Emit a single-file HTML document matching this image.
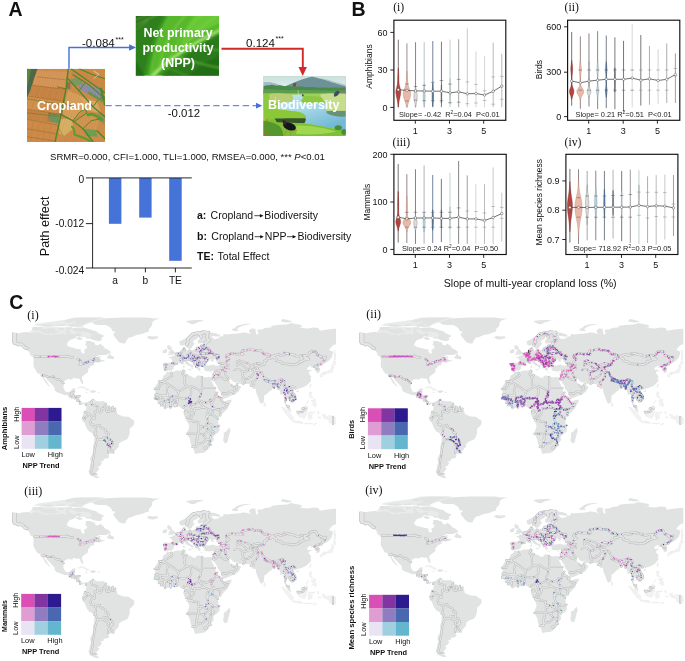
<!DOCTYPE html>
<html><head><meta charset="utf-8"><title>Figure</title>
<style>
html,body{margin:0;padding:0;background:#fff;}
body{width:685px;height:661px;overflow:hidden;font-family:"Liberation Sans",sans-serif;}
svg{display:block;will-change:transform;opacity:0.999}
text{font-family:"Liberation Sans",sans-serif;fill:#111}
.serif{font-family:"Liberation Serif",serif}
.b{font-weight:bold}
</style></head><body>
<svg width="685" height="661" viewBox="0 0 685 661">
<rect width="685" height="661" fill="#fff"/>
<g id="panelC">
<defs><clipPath id="mc"><rect x="11.5" y="317.4" width="324.5" height="165"/></clipPath>
<g id="base"><path d="M33.7,325.2 L38.2,323.4 L47.2,322.3 L56.3,321.1 L65.3,319.7 L69.8,318.8 L74.3,317.3 L105.9,317.3 L103.7,318.6 L96.9,320.3 L91.3,322.4 L85.6,324.6 L83.4,325.4 L82.8,326.6 L69.8,326.6 L64.2,326.1 L54.0,326.4 L41.6,326.4Z M29.2,331.9 L31.4,330.2 L32.6,326.9 L72.1,327.2 L73.2,329.0 L77.7,331.9 L74.3,334.9 L66.4,334.9 L51.8,335.4 L41.6,333.7Z M76.6,331.9 L85.6,331.6 L91.3,334.3 L90.7,336.6 L85.6,337.2 L78.9,336.8 L76.6,336.0 L81.1,334.9 L81.1,332.5Z" fill="#e9eaea"/>
<path d="M12.2,331.8 L14.5,332.4 L17.3,332.9 L20.1,333.2 L21.8,332.4 L24.7,332.2 L28.0,331.9 L30.3,332.4 L32.6,332.6 L34.8,332.2 L37.1,332.2 L41.6,333.2 L45.0,334.5 L49.5,334.4 L51.8,335.4 L52.9,334.0 L55.1,334.3 L59.7,334.5 L63.0,333.6 L65.3,335.1 L66.1,333.7 L67.6,333.1 L65.3,331.9 L65.9,330.2 L68.7,329.9 L69.8,331.9 L69.8,332.5 L72.1,333.7 L74.3,334.9 L75.5,333.7 L76.6,333.1 L77.7,332.2 L81.1,332.5 L81.7,333.7 L80.5,334.9 L81.9,335.4 L79.4,336.3 L76.6,336.0 L75.5,337.8 L73.2,338.9 L71.5,339.4 L69.8,340.1 L67.6,342.4 L66.8,344.8 L68.7,346.5 L69.8,347.1 L73.2,347.7 L75.5,348.5 L77.7,349.1 L80.8,349.3 L81.1,351.8 L82.2,352.9 L82.8,353.7 L83.9,353.5 L84.8,352.3 L83.9,350.0 L86.8,348.3 L87.3,346.5 L85.1,344.8 L86.2,342.4 L85.6,340.9 L90.1,340.9 L92.4,341.9 L94.7,342.4 L95.2,344.8 L98.0,345.6 L100.3,343.6 L101.4,344.8 L103.7,346.5 L104.8,348.3 L108.2,349.7 L110.5,351.8 L110.7,352.9 L109.3,353.6 L105.9,355.0 L102.6,354.9 L99.2,355.0 L96.4,356.4 L93.5,358.7 L94.7,358.7 L98.0,356.6 L100.3,356.2 L100.9,357.2 L99.2,357.8 L100.5,358.7 L101.4,359.9 L104.8,360.3 L104.8,360.8 L101.4,361.7 L99.2,362.6 L99.2,361.7 L98.0,361.1 L95.8,362.2 L94.7,362.6 L93.8,364.0 L94.7,364.9 L93.0,365.3 L90.1,366.2 L90.1,367.5 L88.4,368.6 L87.9,370.4 L88.2,372.1 L86.8,373.3 L84.5,374.7 L82.2,376.8 L81.9,378.6 L82.8,380.9 L83.1,382.0 L83.1,384.0 L82.2,384.1 L81.1,382.6 L80.3,381.1 L80.3,379.7 L78.9,378.6 L77.2,378.8 L74.9,378.2 L72.6,378.3 L72.9,379.5 L71.0,379.4 L67.8,378.9 L66.4,379.7 L64.2,381.1 L63.8,383.2 L63.3,387.3 L64.2,389.6 L65.3,391.4 L67.0,392.3 L69.8,391.8 L71.3,390.8 L71.7,389.0 L74.3,388.3 L75.7,388.7 L74.9,390.8 L74.3,392.5 L73.4,394.9 L75.5,395.1 L77.7,395.0 L79.8,396.0 L79.4,398.4 L79.2,400.7 L80.5,402.4 L82.2,403.2 L83.9,402.4 L86.2,403.5 L86.8,404.2 L86.2,404.8 L85.3,403.8 L83.7,403.4 L83.0,405.0 L81.1,404.2 L79.4,403.6 L77.7,401.9 L76.8,400.7 L74.9,398.4 L73.8,398.1 L70.4,397.2 L67.6,394.9 L64.7,395.2 L61.9,394.0 L59.1,393.1 L56.6,391.9 L54.6,390.2 L54.8,388.5 L53.5,386.1 L51.2,384.0 L50.1,382.4 L48.4,380.9 L46.7,379.1 L46.1,377.2 L44.2,376.6 L44.4,378.6 L46.1,380.5 L47.8,383.2 L49.2,385.3 L50.1,386.7 L49.2,386.5 L47.2,384.4 L45.0,382.0 L43.9,379.7 L42.7,378.0 L41.6,375.6 L39.9,373.9 L37.6,373.3 L36.0,371.0 L35.4,369.5 L33.7,366.9 L33.4,364.0 L33.7,359.9 L32.9,357.2 L34.8,357.3 L35.4,358.4 L35.2,356.4 L32.6,355.2 L29.7,353.5 L29.2,351.8 L26.9,350.0 L25.2,348.8 L23.0,346.5 L20.7,344.8 L17.9,343.9 L14.5,343.6 L12.2,343.5Z M91.3,322.4 L96.9,320.3 L103.7,318.6 L117.2,317.6 L128.5,316.3 L139.8,316.2 L148.9,317.4 L153.4,318.6 L160.1,318.6 L154.5,320.3 L152.2,322.6 L152.2,325.0 L151.1,326.7 L148.9,329.0 L148.9,331.4 L145.5,332.5 L142.1,333.9 L136.4,334.9 L131.9,337.0 L128.5,337.8 L126.3,340.7 L125.1,343.4 L122.9,343.6 L119.5,342.4 L117.2,340.1 L115.0,337.2 L113.3,334.9 L113.9,333.1 L116.1,331.9 L112.2,331.0 L111.6,329.0 L109.3,326.7 L105.9,325.0 L99.2,325.0 L94.7,324.4 L93.5,323.2Z M83.4,327.6 L87.9,328.7 L92.4,330.2 L96.9,331.6 L98.0,333.1 L103.7,335.4 L103.7,336.6 L101.4,337.8 L102.0,340.1 L99.2,341.3 L96.9,340.7 L93.5,340.3 L90.1,338.4 L86.2,338.6 L85.6,337.2 L90.7,336.6 L91.3,334.3 L86.8,332.2 L84.5,331.7 L81.1,331.9 L77.7,331.9 L74.3,330.8 L72.6,329.6 L73.2,327.9 L77.7,327.6Z M72.1,324.4 L77.7,324.6 L83.4,324.7 L85.6,323.8 L87.9,322.0 L92.4,320.9 L98.0,319.1 L103.7,317.4 L94.7,316.7 L83.4,316.8 L74.3,318.0 L69.8,318.9 L75.5,320.0 L74.3,321.5 L76.6,322.6 L73.2,323.4Z M83.4,325.4 L82.8,326.5 L76.6,326.7 L69.8,326.4 L68.7,324.6 L73.2,324.5 L78.9,325.2Z M41.6,331.9 L46.1,333.6 L51.8,333.5 L55.1,333.1 L59.1,332.4 L58.5,331.4 L55.1,330.6 L55.1,328.7 L51.8,328.2 L47.2,328.7 L41.6,328.7 L39.3,330.2Z M32.0,329.6 L34.8,330.7 L39.3,329.9 L42.2,328.2 L43.3,327.3 L39.3,326.9 L33.7,326.9 L32.6,328.5Z M65.9,329.6 L72.1,329.6 L72.1,327.5 L65.9,327.5Z M58.5,330.2 L64.2,330.1 L64.2,327.9 L58.5,328.1Z M41.6,326.1 L48.4,326.7 L54.0,326.1 L54.0,325.0 L49.5,324.4 L42.7,324.6Z M65.3,322.3 L72.1,322.3 L75.5,320.9 L69.8,319.1 L65.3,320.3Z M56.3,325.9 L64.2,326.1 L65.3,324.4 L57.4,324.4Z M75.5,337.8 L78.9,339.9 L82.2,339.5 L82.8,338.4 L78.9,337.0Z M106.7,357.9 L110.5,359.0 L113.9,359.2 L114.2,357.9 L113.3,356.4 L110.8,355.4 L110.5,353.5 L108.8,354.7Z M29.2,354.3 L32.0,356.5 L34.4,357.1 L32.6,355.2 L29.7,354.1Z M89.7,392.1 L91.8,390.3 L94.7,390.4 L96.5,391.8 L94.7,392.2 L93.0,392.9Z M146.6,337.2 L148.9,336.1 L153.4,336.4 L157.3,336.3 L158.4,337.8 L156.8,338.6 L152.8,339.6 L148.3,339.1 L148.9,338.4Z M86.2,403.5 L86.8,404.2 L88.4,401.3 L91.3,400.3 L93.0,399.1 L92.6,400.7 L93.0,402.4 L94.7,400.1 L96.9,401.2 L101.4,401.3 L103.7,401.0 L105.9,403.6 L109.3,406.5 L112.7,406.7 L115.5,408.3 L117.2,412.3 L117.2,413.5 L118.9,414.7 L123.4,416.4 L128.5,416.8 L131.9,419.3 L134.2,420.5 L134.2,424.0 L131.9,426.9 L129.7,428.6 L129.7,433.3 L128.5,436.8 L127.4,439.1 L125.1,440.3 L121.8,441.5 L118.9,443.8 L118.7,446.7 L116.1,449.6 L113.3,453.1 L109.9,454.0 L107.6,453.1 L109.3,456.0 L108.2,458.1 L103.7,458.9 L103.4,461.3 L100.3,461.3 L102.0,463.2 L100.0,465.9 L97.5,467.1 L99.4,468.8 L96.9,471.8 L95.8,472.9 L96.5,474.5 L94.7,475.0 L96.4,475.8 L99.7,477.3 L96.9,478.2 L93.5,477.0 L90.1,475.2 L88.4,471.8 L89.6,468.3 L90.1,464.8 L91.3,462.4 L90.1,460.1 L90.7,457.2 L92.4,454.3 L93.0,450.8 L93.0,446.1 L94.1,442.6 L94.4,436.8 L94.1,434.8 L92.4,433.3 L89.0,431.6 L87.3,429.2 L86.2,426.9 L84.5,422.8 L82.2,420.5 L81.9,418.5 L83.4,417.0 L82.8,414.7 L83.4,412.9 L84.7,411.8 L86.2,408.8 L86.4,405.9 L86.2,404.8Z M163.2,363.4 L164.7,362.6 L169.2,362.8 L171.7,362.9 L172.3,359.9 L170.9,358.4 L168.4,357.1 L172.0,356.8 L171.9,355.6 L173.9,355.8 L175.5,354.2 L177.6,353.5 L179.0,351.8 L181.6,351.2 L183.6,350.6 L183.3,348.8 L182.9,347.1 L185.5,346.3 L185.3,348.3 L184.8,349.4 L186.1,350.6 L189.5,350.6 L194.6,349.7 L196.0,350.0 L197.4,348.8 L197.4,347.1 L199.1,346.4 L200.8,346.9 L201.1,345.6 L200.2,344.5 L205.3,344.1 L207.6,343.6 L205.9,342.9 L201.9,343.3 L199.1,343.6 L197.7,342.4 L198.0,340.1 L201.9,337.8 L202.3,337.1 L198.5,336.8 L197.7,338.4 L193.4,340.7 L193.1,342.4 L194.8,343.6 L192.3,346.5 L191.8,348.0 L189.8,348.7 L188.1,348.8 L186.3,345.3 L185.5,344.2 L182.7,345.7 L180.1,345.0 L179.3,342.4 L179.6,341.3 L183.3,339.4 L186.1,338.0 L188.4,336.0 L190.6,333.9 L194.0,332.5 L198.0,331.7 L202.7,330.8 L205.3,330.8 L208.7,331.6 L207.6,332.3 L210.9,332.6 L214.9,333.1 L220.0,335.1 L220.0,336.4 L216.6,336.6 L212.1,335.8 L211.5,336.3 L213.2,338.5 L215.5,339.2 L216.6,338.4 L219.4,338.2 L218.8,337.0 L222.8,336.3 L223.4,336.0 L223.4,333.7 L226.2,334.5 L233.5,333.7 L235.8,333.7 L241.4,333.1 L242.6,332.2 L247.1,332.9 L251.0,333.9 L249.3,331.9 L249.3,330.2 L251.6,328.5 L255.5,328.7 L255.5,330.8 L256.1,333.7 L257.2,334.9 L258.4,333.1 L257.2,330.8 L258.4,329.6 L261.8,329.4 L265.1,327.9 L271.9,327.3 L270.8,326.1 L277.6,325.1 L286.6,324.4 L291.1,323.0 L294.5,323.8 L301.3,325.0 L301.8,327.5 L297.9,327.3 L301.3,327.9 L308.0,328.5 L313.7,327.6 L318.2,328.1 L319.9,330.8 L323.8,330.1 L331.7,329.0 L332.9,328.7 L338.5,329.0 L343.0,329.6 L343.0,344.2 L337.4,344.4 L334.0,344.8 L331.7,346.5 L328.9,350.0 L330.6,350.6 L332.9,351.8 L332.9,352.9 L332.3,355.2 L331.7,357.6 L329.5,359.9 L326.7,362.2 L323.8,363.6 L321.6,364.0 L320.5,364.6 L319.9,366.3 L317.6,367.5 L318.8,368.6 L319.9,370.4 L319.7,372.1 L317.6,373.1 L316.3,373.3 L316.5,371.0 L315.9,369.6 L314.8,369.2 L314.8,367.5 L313.7,367.1 L310.9,368.1 L311.4,366.3 L310.3,365.7 L308.0,367.5 L306.7,368.1 L307.5,369.2 L308.0,370.0 L310.3,369.7 L312.0,370.2 L309.7,371.3 L308.4,372.7 L309.7,374.5 L311.2,376.5 L311.2,377.6 L309.7,378.2 L311.2,379.1 L310.9,380.9 L308.9,383.2 L307.5,384.7 L305.8,386.1 L303.0,387.3 L301.3,387.9 L298.4,388.7 L297.9,389.9 L297.5,388.5 L296.2,388.2 L294.3,389.4 L293.1,391.4 L293.9,393.1 L296.0,394.9 L297.1,397.8 L296.8,400.1 L294.5,401.3 L292.5,403.4 L292.0,401.9 L290.5,401.3 L289.4,399.5 L287.7,398.7 L286.8,397.9 L286.6,400.7 L285.8,402.7 L286.9,404.2 L287.2,405.3 L288.8,406.3 L290.4,408.3 L290.5,410.6 L291.3,411.9 L290.5,412.0 L288.1,410.2 L287.2,408.3 L286.9,406.5 L286.0,405.3 L284.7,403.9 L284.9,401.9 L285.1,399.5 L284.0,396.0 L283.9,394.3 L282.1,394.3 L280.4,394.9 L280.2,391.9 L279.3,390.2 L277.6,388.5 L277.3,387.3 L275.9,387.5 L274.2,388.1 L271.9,388.7 L271.7,390.2 L269.7,391.0 L266.6,394.3 L264.3,395.4 L264.2,397.8 L263.8,401.5 L262.9,402.7 L262.0,403.1 L261.2,404.1 L260.1,402.4 L258.9,399.8 L257.8,396.6 L256.7,394.3 L255.9,391.4 L255.9,389.0 L255.2,388.8 L253.8,389.3 L251.6,387.5 L252.7,386.7 L250.8,386.0 L249.7,384.7 L248.8,383.9 L245.9,384.0 L243.1,384.1 L239.2,383.7 L238.0,382.3 L237.3,381.9 L235.2,382.4 L233.0,381.5 L231.3,379.7 L230.4,378.6 L228.8,378.2 L227.9,378.8 L228.4,380.3 L230.1,382.4 L230.9,384.4 L231.5,383.1 L231.9,384.6 L232.4,385.3 L234.7,385.3 L236.9,383.4 L237.3,382.9 L237.5,385.0 L240.0,386.0 L241.2,387.3 L239.7,389.6 L238.8,391.4 L237.3,392.6 L235.8,393.7 L232.6,394.9 L229.0,396.8 L224.5,398.6 L222.8,398.7 L221.9,396.0 L221.7,394.3 L220.0,391.4 L217.7,388.5 L217.2,386.1 L215.5,383.8 L213.8,380.9 L213.1,379.1 L212.4,381.1 L210.9,379.7 L210.4,378.6 L210.4,377.2 L212.3,377.0 L213.2,375.3 L214.1,372.7 L214.3,370.6 L212.6,370.7 L210.4,371.4 L208.1,371.2 L206.4,371.2 L204.5,370.6 L204.4,368.8 L203.3,367.5 L203.8,366.4 L206.4,366.1 L206.4,365.5 L209.3,365.4 L213.2,364.6 L214.9,365.4 L217.2,365.7 L220.5,365.2 L220.5,363.8 L217.7,362.2 L216.0,361.4 L215.8,360.7 L216.9,359.7 L218.1,358.5 L216.0,358.7 L213.2,359.7 L213.5,360.7 L214.9,360.7 L213.2,361.4 L211.5,361.7 L210.4,360.6 L211.7,359.9 L209.8,359.3 L208.5,359.3 L207.2,360.7 L206.1,362.2 L205.3,364.0 L205.3,365.2 L206.4,365.6 L204.7,366.0 L203.3,366.1 L203.0,366.6 L200.8,366.0 L200.6,366.9 L199.4,366.3 L199.3,367.7 L200.8,369.2 L199.7,371.0 L198.5,370.6 L197.7,369.8 L197.6,368.6 L196.3,367.1 L195.6,365.7 L195.5,364.6 L193.4,363.4 L191.2,362.2 L190.1,360.8 L189.0,361.1 L189.2,360.3 L187.6,360.7 L187.7,361.9 L189.2,362.8 L189.7,364.2 L191.8,364.7 L194.6,366.7 L192.9,366.4 L192.4,367.5 L193.0,368.1 L192.3,368.9 L191.4,369.2 L191.8,368.3 L191.4,366.9 L190.1,366.1 L187.8,365.2 L185.5,363.5 L185.2,362.4 L183.6,361.8 L182.2,362.5 L180.5,363.3 L178.8,362.9 L177.1,363.3 L177.3,364.6 L174.8,365.7 L173.4,367.5 L173.9,368.3 L172.9,369.6 L171.4,370.6 L168.6,370.7 L167.5,371.4 L166.6,370.6 L165.2,370.2 L163.6,370.4 L163.8,368.6 L163.0,368.3 L163.8,365.7Z M167.0,371.8 L171.4,372.6 L174.8,371.0 L177.1,370.5 L181.6,370.4 L185.0,370.0 L186.1,370.4 L185.2,371.6 L185.9,373.3 L185.0,374.1 L186.3,374.8 L188.4,375.2 L190.8,375.9 L192.9,377.4 L195.7,378.0 L196.3,376.2 L198.5,375.2 L201.9,376.6 L206.4,377.4 L208.7,376.8 L210.2,377.2 L210.4,378.6 L211.5,380.9 L213.0,383.8 L214.0,386.1 L215.5,389.0 L215.8,391.4 L217.2,392.5 L218.3,395.4 L220.0,396.6 L222.2,398.9 L222.6,400.1 L223.9,401.4 L226.8,400.5 L231.3,399.5 L231.5,401.3 L229.0,405.3 L227.9,408.3 L225.6,410.6 L222.8,413.5 L220.5,415.6 L218.8,417.6 L217.9,419.3 L218.3,421.7 L218.3,424.0 L219.4,425.7 L219.6,430.4 L217.7,433.0 L215.2,434.5 L213.2,436.8 L213.8,440.3 L210.9,443.2 L210.7,445.5 L208.7,448.4 L205.3,451.9 L202.5,453.1 L198.5,453.3 L196.3,454.0 L194.5,453.3 L194.2,450.8 L192.3,446.7 L190.6,443.8 L190.1,439.7 L187.8,435.1 L187.0,432.7 L188.9,428.1 L189.3,425.7 L188.4,424.0 L187.5,420.5 L187.0,418.7 L184.4,416.4 L183.6,414.3 L184.4,412.3 L184.6,409.7 L183.6,408.3 L181.6,408.4 L179.9,407.1 L178.8,406.2 L175.9,406.2 L172.6,407.3 L170.9,407.9 L168.6,407.4 L165.2,408.4 L163.0,407.1 L160.7,405.5 L158.8,403.6 L158.4,402.1 L156.8,400.7 L154.7,398.9 L154.7,397.2 L153.9,396.4 L155.1,394.9 L155.3,391.4 L154.5,389.0 L155.6,386.1 L157.0,383.8 L159.0,381.2 L160.7,380.5 L162.4,379.1 L162.7,377.4 L163.5,375.4 L166.0,373.9Z M229.3,427.5 L230.5,431.6 L229.6,433.3 L227.3,442.4 L224.7,443.2 L223.0,440.3 L223.7,436.8 L223.8,432.5 L226.0,431.8 L227.9,429.2Z M167.4,355.1 L169.7,354.9 L175.2,353.9 L175.6,352.1 L174.0,351.8 L173.5,350.6 L172.0,349.4 L171.4,348.3 L171.4,346.4 L169.2,346.3 L170.1,345.2 L168.0,345.2 L166.9,346.5 L167.5,348.3 L168.0,349.4 L170.1,349.7 L170.3,351.3 L168.6,351.5 L168.9,352.7 L167.8,353.2 L170.0,353.6 L170.3,353.9 L168.6,354.1Z M162.4,353.4 L166.6,352.7 L166.9,351.2 L167.5,349.7 L165.2,349.1 L164.1,350.0 L162.4,350.4 L163.0,351.8Z M296.4,391.0 L298.4,390.2 L299.0,390.5 L297.9,392.2 L296.4,391.8Z M186.1,320.9 L191.8,320.3 L198.5,320.0 L204.2,320.3 L200.8,321.5 L197.4,322.3 L195.1,323.8 L191.8,324.3 L189.5,323.2 L187.2,322.0Z M231.8,330.2 L234.7,331.1 L238.6,331.1 L236.9,329.0 L239.2,327.3 L242.6,325.8 L248.2,324.4 L251.6,323.9 L248.2,323.8 L241.4,324.6 L236.9,326.1 L234.7,327.9 L232.4,329.0Z M280.9,321.5 L286.6,322.6 L292.2,322.0 L291.1,320.9 L286.6,319.7 L282.1,319.1Z M187.8,369.2 L191.2,369.0 L190.8,370.6 L188.0,369.8Z M183.1,365.7 L184.6,365.7 L184.5,367.8 L183.3,368.1Z M183.5,363.6 L184.4,363.5 L184.3,365.2 L183.6,365.0Z M200.2,372.1 L203.4,372.4 L203.3,372.7 L200.3,372.5Z M210.2,372.7 L212.6,372.0 L212.0,372.8 L210.4,373.2Z M297.4,411.6 L299.3,410.4 L301.3,409.8 L303.5,407.7 L305.6,405.3 L308.0,407.3 L306.9,408.5 L306.3,408.6 L304.1,410.0 L303.0,411.8 L300.1,412.3 L298.4,412.5Z M332.9,416.5 L336.8,417.9 L339.7,420.5 L338.5,422.8 L335.1,424.0 L332.9,424.1Z" fill="#e1e2e2"/>
<path d="M309.7,391.9 L311.7,391.9 L311.4,394.3 L310.9,396.0 L313.7,398.4 L313.7,398.8 L312.0,397.4 L310.3,397.5 L309.5,396.3 L309.2,394.5Z M311.4,405.3 L313.1,403.4 L315.4,402.1 L316.5,404.2 L316.2,405.9 L315.2,406.9 L313.7,405.6 L312.6,404.8Z M311.4,399.8 L312.8,400.1 L315.4,398.9 L315.4,401.3 L313.7,401.9 L312.6,402.7 L311.8,401.3Z M306.0,403.6 L308.6,400.3 L308.4,401.5 L306.3,403.8Z M296.8,411.8 L297.9,411.5 L299.3,410.4 L301.3,409.8 L303.5,407.7 L305.6,405.3 L308.0,407.3 L306.9,408.5 L306.7,410.0 L308.0,412.3 L306.3,412.9 L306.3,414.7 L305.2,417.0 L304.7,418.2 L303.0,418.2 L301.3,417.2 L299.6,417.0 L297.9,415.2 L296.8,413.5Z M281.3,407.0 L283.8,407.4 L286.6,410.0 L288.6,411.5 L290.5,413.5 L291.7,415.8 L293.4,417.0 L293.1,420.3 L291.7,420.3 L289.2,418.2 L287.2,415.2 L285.5,413.2 L283.8,410.8Z M292.5,421.4 L294.3,420.5 L296.2,421.3 L298.8,421.0 L301.3,421.7 L303.0,422.6 L302.8,423.6 L299.0,423.2 L295.6,422.6 L293.7,422.1Z M308.9,412.6 L310.3,412.0 L313.1,412.5 L315.0,411.6 L314.2,413.0 L310.9,413.0 L309.4,413.5 L310.3,414.7 L312.9,414.5 L311.4,415.6 L312.3,418.2 L310.9,419.1 L310.3,417.0 L309.5,417.0 L309.6,419.9 L308.6,419.9 L308.6,417.6 L307.8,416.8Z M313.1,425.5 L317.1,423.4 L314.8,423.5Z M304.7,423.2 L308.0,423.2 L312.6,423.2 L312.3,423.8 L308.0,423.9 L304.7,423.9Z M317.6,411.2 L319.0,411.8 L318.2,414.4 L317.6,412.9Z M318.2,417.0 L321.4,417.2 L320.5,417.9 L318.2,417.6Z M321.6,414.4 L325.0,414.4 L326.1,417.3 L328.9,415.4 L332.9,416.5 L336.8,417.9 L339.7,420.5 L338.5,422.8 L335.1,424.0 L332.9,424.2 L330.6,422.8 L329.5,423.2 L329.3,420.5 L326.1,418.7 L323.8,418.2 L323.6,416.8Z M321.5,373.9 L323.3,373.5 L326.1,373.2 L328.4,373.2 L330.6,372.7 L332.7,371.9 L332.9,369.2 L334.0,367.5 L333.4,365.3 L331.7,365.7 L331.5,368.1 L330.1,369.8 L328.4,370.4 L327.2,371.9 L323.8,372.1 L321.6,373.4Z M320.5,374.5 L322.4,374.5 L322.2,376.8 L320.8,377.2 L320.1,375.1Z M323.3,374.1 L325.5,373.7 L325.3,374.5 L323.8,375.3Z M331.7,365.2 L333.4,363.2 L333.8,360.6 L337.7,362.2 L338.0,363.2 L335.5,364.6 L332.9,364.0Z M310.3,384.1 L311.4,384.4 L310.1,387.9 L309.3,386.7Z M77.7,388.1 L80.5,386.6 L83.4,386.7 L86.8,388.5 L89.9,390.0 L86.2,390.3 L85.6,389.4 L83.9,388.2 L81.1,387.4 L78.9,388.1Z M85.3,392.1 L87.5,392.3 L87.0,392.8 L85.4,392.5Z M97.8,391.9 L99.6,392.1 L99.4,392.5 L97.8,392.5Z M334.0,359.9 L335.7,359.3 L335.4,355.8 L336.8,356.4 L335.1,352.9 L335.1,350.2 L334.0,350.6 L334.0,355.2Z M264.0,402.1 L266.0,404.8 L265.1,406.5 L264.0,406.3 L263.7,404.2Z" fill="#f2f2f2" stroke="#e6e6e6" stroke-width="0.35"/>
<path d="M14.5,332.9 L14.5,342.7" fill="none" stroke="#b4b4b4" stroke-width="4.90" stroke-linejoin="round" stroke-linecap="butt"/>
<path d="M14.5,343.3 L16.8,343.6 L18.5,344.8 L20.7,344.1 L23.0,345.6 L24.9,347.7 L26.9,348.5 M186.7,344.8 L187.8,342.4 L187.5,339.5 L190.1,336.6 L192.3,334.3 L196.8,333.1 M196.8,333.1 L200.3,334.4 L200.9,336.8 M196.8,333.1 L202.7,333.1 L203.0,331.9 L206.4,332.3 L206.3,333.1 L208.6,332.4 M206.3,333.1 L207.6,334.9 L207.0,336.6 L207.6,339.5 L209.3,340.2 L205.1,343.0 M204.7,346.5 L204.7,345.3 L205.4,344.3" fill="none" stroke="#b4b4b4" stroke-width="3.30" stroke-linejoin="round" stroke-linecap="round"/>
<path d="M34.8,356.4 L66.4,356.4 L66.8,355.9 L69.8,357.2 L72.6,357.6 M77.9,359.0 L79.4,359.9 L80.5,360.7 L80.7,363.4 L79.9,364.6 L84.5,363.6 L84.5,362.8 L87.3,362.2 L89.4,361.1 L93.0,361.1 L94.3,359.6 L95.6,358.3 L97.1,358.7 L97.1,360.3 L98.0,361.1 M226.4,361.7 L229.0,359.3 L226.8,357.6 L226.2,357.0 L226.8,355.2 L228.7,354.6 L231.3,353.3 L235.2,354.1 L239.7,354.1 L243.1,354.3 L241.4,352.9 L242.6,350.6 L247.1,349.9 L251.6,349.0 L253.8,350.4 L256.7,350.6 L260.3,350.2 L261.5,351.4 L264.0,354.3 L267.7,354.1 L270.2,355.7 L272.3,356.2 M272.8,356.2 L275.0,355.4 L277.9,354.3 L280.4,355.2 L284.7,354.7 L284.3,352.9 L289.1,353.7 L289.2,354.6 L294.2,354.9 L296.2,356.1 L298.7,356.2 L301.3,355.7 L305.4,355.5 M272.8,356.2 L273.0,357.0 L276.3,359.0 L276.3,360.8 L281.4,361.9 L282.5,363.8 L288.6,364.0 L292.2,365.0 L297.1,364.1 L300.0,362.6 L299.9,361.1 L301.9,361.3 L305.3,359.6 L308.9,359.1 L306.9,357.7 L304.1,357.9 L305.4,355.5 M305.4,355.5 L308.4,354.9 L310.0,352.2 L313.1,351.2 L315.9,351.8 L317.6,355.2 L321.2,356.5 L321.6,357.9 L325.8,357.1 L323.8,361.1 L321.9,362.8 L321.2,364.2 M272.3,356.2 L270.2,358.7 L267.4,358.5 L266.6,360.5 L264.2,361.1 L264.2,364.3 M182.2,362.5 L181.6,361.1 L181.6,360.0 M181.6,360.0 L180.5,359.6 L182.3,358.0 M182.3,358.0 L182.9,356.4 L180.9,355.8 M180.9,355.8 L178.4,355.2 L176.5,354.0 M177.5,353.6 L180.2,353.9 L180.5,354.3 M180.9,355.8 L180.5,354.3 L180.7,353.0 L181.6,352.3 L181.8,351.4 M183.4,349.5 L184.9,349.7 M189.7,350.7 L190.2,352.3 L190.6,354.1 M190.6,354.1 L187.6,354.9 L189.3,356.6 M189.3,356.6 L188.4,358.2 L185.2,358.3 L184.5,358.2 L182.3,358.0 M181.6,360.0 L183.3,359.7 L184.2,359.3 L185.5,359.0 M185.5,359.0 L187.5,358.7 L189.2,359.3 M189.2,359.3 L191.8,359.0 L192.9,357.6 M190.6,354.1 L192.7,354.9 L194.9,355.8 M189.3,356.6 L190.6,356.4 L192.9,356.9 L194.9,355.8 M194.9,355.8 L196.3,356.1 L199.1,356.3 M192.9,357.6 L194.9,357.8 L196.8,357.0 L198.8,357.1 M199.1,356.3 L200.8,354.7 L200.3,353.5 M200.3,353.5 L200.2,352.1 L200.7,350.7 M196.0,350.1 L199.4,350.2 L200.7,350.7 M200.7,350.7 L202.8,350.0 L203.9,348.6 M197.4,348.1 L201.3,347.9 L203.9,348.6 M201.1,346.0 L203.0,346.2 L204.7,346.5 M203.9,348.6 L205.5,348.0 L204.7,346.5 M205.5,348.0 L208.7,348.8 L210.4,351.2 L209.3,352.7 M200.3,353.5 L204.2,353.5 L208.1,353.7 L209.3,352.7 M209.3,352.7 L212.1,352.6 L213.8,354.7 L216.6,355.2 L218.8,355.8 L218.6,357.6 L216.8,358.6 M198.8,357.1 L201.7,357.8 L203.7,357.2 L205.3,357.2 L207.6,359.3 L205.5,360.5 L207.1,360.7 M203.7,357.2 L205.5,359.3 L205.5,360.5 M198.8,357.1 L197.6,359.6 L196.6,359.8 M196.6,359.8 L194.9,360.0 L192.3,359.4 L191.8,359.0 M196.6,359.8 L198.0,361.1 L199.1,361.5 M191.8,360.8 L195.1,361.2 L195.6,362.8 L194.6,364.0 M199.1,356.3 L198.8,357.1" fill="none" stroke="#b4b4b4" stroke-width="2.50" stroke-linejoin="round" stroke-linecap="round"/>
<path d="M41.6,375.6 L44.1,375.5 L48.4,377.0 L51.5,376.8 L53.5,376.5 L55.7,378.9 L57.4,379.7 L59.1,378.8 L61.4,381.5 L63.8,383.2 M69.6,396.6 L70.2,394.9 L71.6,394.7 L71.0,393.5 L71.0,392.8 L73.0,392.8 L74.0,391.9 M73.0,392.8 L73.0,395.0 L73.3,395.0 M74.1,395.2 L72.9,396.7 L72.0,397.5 M72.9,396.7 L74.6,397.9 M74.7,398.4 L76.6,397.4 L78.3,396.4 L79.8,396.0 M76.9,400.6 L79.2,400.8 M80.1,404.1 L80.4,402.3 M85.7,405.1 L86.4,403.4 M93.2,399.8 L91.8,400.7 L91.3,403.0 L92.1,404.9 L94.5,405.3 L97.5,406.3 L97.1,408.8 L98.0,412.1 M98.0,412.1 L94.7,411.5 L95.3,412.8 L94.7,413.7 L94.8,418.4 M94.8,418.4 L93.9,417.9 L91.4,416.3 L88.7,413.6 M88.7,413.6 L86.2,412.7 L84.7,411.9 M88.7,413.6 L88.3,415.2 L85.3,417.5 L84.5,419.3 L83.0,417.5 M94.8,418.4 L91.5,419.4 L90.3,422.0 L91.4,424.5 L94.0,424.6 L94.0,426.3 L95.1,426.2 M95.1,426.2 L96.1,428.1 L95.8,431.0 L95.2,433.9 L94.2,434.8 M95.1,426.2 L99.9,424.8 L100.0,426.9 L105.4,429.6 L105.8,432.5 L107.9,432.5 L108.8,434.5 L108.0,436.6 L108.0,437.0 M108.0,437.0 L103.4,437.4 L103.0,439.4 M103.0,439.4 L100.3,439.2 L97.8,440.1 M97.8,440.1 L96.4,436.2 L95.2,433.9 M97.8,440.1 L96.4,442.6 L94.9,448.4 L94.3,451.9 L94.1,455.4 L93.3,458.9 L92.6,462.4 L92.7,465.9 L91.8,470.0 L90.9,472.3 L92.1,473.8 L96.5,474.4 M103.0,439.4 L105.9,441.5 L108.7,443.1 L107.5,445.2 L110.5,445.3 L112.0,443.3 M108.0,437.0 L108.3,439.2 L110.8,439.5 L112.4,441.5 L112.0,443.3 M112.0,443.3 L113.1,444.1 L110.7,446.5 L108.7,448.7 M108.7,448.7 L111.0,449.5 L113.4,452.8 M108.7,448.7 L108.0,451.4 L107.8,453.1 M98.0,412.1 L100.3,412.6 L102.1,410.9 L100.9,408.8 L104.8,408.3 L105.2,407.4 M105.2,407.4 L104.4,406.5 L105.9,403.6 M105.2,407.4 L106.1,408.3 L106.4,411.4 L107.3,412.0 L109.9,411.3 M108.2,411.6 L109.0,409.7 L109.1,406.6 M109.9,411.3 L112.0,410.8 L114.3,410.7 L115.3,408.6 M112.0,410.8 L112.7,406.7 M171.2,372.6 L172.3,375.6 L169.6,377.4 L167.5,378.8 L163.9,380.1 L163.9,381.7 M158.8,381.3 L163.9,381.3 M163.9,381.7 L163.9,383.2 L160.1,383.2 L160.1,386.1 L159.0,386.7 L159.0,388.7 L154.5,388.7 M163.9,381.7 L168.3,384.4 M168.3,384.4 L175.0,388.9 L175.7,389.9 L177.3,390.4 L177.4,391.4 L178.4,391.2 M178.4,391.2 L180.2,390.8 L187.2,386.1 M187.2,386.1 L185.0,385.0 L184.4,382.6 L184.8,380.5 L184.4,378.3 M184.4,378.3 L183.8,376.2 L182.2,374.1 L183.1,372.7 L183.4,370.5 M184.4,378.3 L185.3,376.6 L186.7,374.9 M201.9,376.7 L201.9,387.9 M201.9,387.9 L201.9,390.2 L200.8,390.2 L200.8,390.8 L191.8,386.1 L190.6,386.7 L189.7,387.2 L187.2,386.1 M201.9,387.9 L215.3,387.9 M168.3,384.4 L166.7,390.2 L167.5,394.3 L167.5,395.4 L163.2,395.4 L161.5,395.7 L160.7,395.3 L159.9,396.3 M159.9,396.3 L158.4,394.7 L157.3,394.2 L155.3,394.7 M159.9,396.3 L160.8,399.1 M160.8,399.1 L158.2,398.8 L156.8,398.7 L154.8,399.1 M154.7,397.7 L156.8,397.4 L158.1,397.9 L156.8,398.0 L154.7,398.2 M160.8,399.1 L163.5,399.2 L164.7,401.6 M158.7,403.0 L161.3,401.9 L162.1,403.6 L160.8,405.5 M162.1,403.6 L164.3,404.6 M164.7,401.6 L164.3,404.6 L165.2,408.4 M164.7,401.6 L167.5,401.4 L167.7,399.8 L168.7,398.7 L170.1,397.5 L171.4,397.0 L173.9,396.1 M173.9,396.1 L177.6,395.6 L178.4,393.8 L178.4,391.2 M170.6,407.7 L170.5,402.4 L170.5,400.7 M167.5,401.4 L170.5,402.1 M170.5,400.7 L173.7,400.7 M175.0,406.4 L174.3,403.6 L173.7,400.7 L174.7,400.7 M176.7,406.0 L177.1,403.0 L177.8,399.9 M175.5,406.3 L175.5,403.0 L174.7,400.7 M173.9,396.1 L174.7,397.8 L176.2,399.1 L177.8,399.9 M177.8,399.9 L178.3,397.8 L181.6,398.4 L184.4,398.6 L189.0,397.5 M189.0,397.5 L191.2,393.9 L191.2,390.2 L190.6,386.7 M183.4,407.9 L184.2,405.9 L186.7,405.6 L188.1,403.6 L189.7,400.5 L189.7,398.9 L189.0,397.5 M189.7,398.9 L191.2,401.9 L189.5,402.0 L191.2,404.8 M191.2,404.8 L194.7,404.2 L197.4,402.4 L199.5,400.8 M199.5,400.8 L198.8,398.7 L198.5,397.8 L200.8,395.2 L200.8,390.8 M191.2,404.8 L190.1,407.1 L192.0,410.9 M184.8,410.8 L188.7,410.9 L192.0,410.9 M186.4,410.8 L186.4,412.3 L184.5,412.3 M188.7,410.9 L190.1,414.1 L189.9,415.8 L186.3,418.0 M192.0,410.9 L194.7,409.4 L194.6,408.5 L199.1,408.6 L202.5,407.3 L204.6,407.6 M194.7,409.4 L193.8,414.1 L192.0,416.4 L191.0,418.5 L188.4,419.0 L187.5,420.3 M187.5,420.4 L188.4,420.4 L192.4,420.4 L192.9,422.0 L195.7,421.7 L198.3,422.0 L198.4,424.6 L198.5,426.3 L200.8,426.3 L200.8,428.6 M200.8,428.6 L198.5,428.6 L198.5,432.4 L200.1,434.0 M187.0,433.7 L189.5,433.8 L194.5,433.8 L200.1,434.0 L202.3,434.2 M197.4,434.5 L197.4,439.1 L196.3,439.1 L196.3,442.4 L196.3,446.6 L192.9,446.5 L192.3,446.8 M196.3,442.4 L197.2,444.7 L199.7,443.0 L202.6,443.3 L204.1,441.1 L206.9,439.4 M206.9,439.4 L205.0,437.4 L202.3,434.2 M202.3,434.2 L204.2,434.5 L206.3,432.1 L208.0,431.7 M208.0,431.7 L210.8,433.0 L210.7,436.2 L210.4,438.3 L209.0,439.6 M206.9,439.4 L209.0,439.6 M209.0,439.6 L209.8,442.0 L209.7,443.8 L210.8,444.8 M209.7,443.8 L208.6,444.4 L208.9,445.2 L209.8,445.0 M204.2,448.0 L205.9,446.8 L206.9,447.9 L205.5,449.1 L204.2,448.0 M200.8,426.3 L202.3,426.5 L204.2,427.5 L205.9,428.4 L207.3,429.1 L207.3,427.7 L205.8,427.2 L206.0,424.3 L208.5,423.1 M208.5,423.1 L210.8,424.5 L212.1,424.6 L212.9,426.9 M210.8,424.5 L210.9,428.1 L210.8,429.8 L208.0,431.7 M210.9,429.8 L212.6,430.4 L214.2,432.1 L213.5,433.4 L212.5,432.5 L212.4,430.4 M212.9,426.9 L216.0,427.1 L219.3,425.7 M208.5,423.1 L206.9,418.7 L206.4,416.6 L207.1,415.1 L207.2,412.8 L209.0,410.9 L208.6,409.4 M206.4,416.6 L208.1,416.3 L208.5,414.7 L207.1,415.1 M206.9,418.7 L208.0,417.6 L208.1,416.3 M208.1,414.7 L212.1,414.7 L216.1,417.0 L217.9,419.0 M212.1,414.7 L212.1,412.9 L213.2,411.8 L212.6,409.4 L212.1,408.6 M208.6,409.4 L212.1,408.6 L214.3,408.3 L216.6,409.3 L218.3,409.5 L220.0,409.0 L221.0,409.0 M221.0,409.0 L220.0,410.2 L220.0,413.5 L220.5,415.5 M221.0,409.0 L222.2,408.3 L224.5,407.7 L227.9,404.2 L226.8,404.2 L223.4,403.0 L222.2,401.3 L221.9,400.7 M221.9,400.7 L220.9,400.1 L221.6,398.9 L222.3,398.7 M221.6,398.9 L218.8,396.6 L216.5,396.4 L214.9,396.8 M214.9,396.8 L215.5,393.7 L217.3,392.5 M214.9,396.8 L214.3,398.7 L213.2,400.7 L212.2,402.4 L210.9,404.2 L213.5,407.2 L214.3,408.3 M212.2,402.4 L210.9,401.9 L211.2,399.3 L208.7,402.1 L205.3,402.7 L201.9,401.5 L200.3,403.4 M200.3,403.4 L204.6,407.6 L208.6,409.4 M199.5,400.8 L200.3,403.4 M321.2,364.2 L318.2,364.6 L317.0,364.8 L314.0,366.9 M316.1,369.5 L318.7,368.5 M264.2,364.3 L260.4,365.9 L257.0,367.1 L258.3,370.2 L259.5,371.8 L261.8,372.1 M261.8,372.1 L262.9,375.6 L265.1,378.3 L268.5,379.8 L270.8,380.9 L273.2,381.0 M265.1,378.3 L264.1,379.9 L267.4,381.6 L269.7,382.4 L273.2,382.7 L273.2,381.0 M273.9,381.7 L275.0,380.6 L277.1,381.1 L277.6,382.2 L275.1,382.4 L273.9,381.7 M277.1,381.1 L279.8,379.7 L282.3,379.2 L283.5,380.6 M283.5,380.6 L285.1,381.5 L285.0,383.8 L283.9,385.5 L285.5,387.9 L287.9,388.7 M283.5,380.6 L281.2,382.4 L280.5,384.4 L279.0,385.5 L278.9,387.6 L278.2,388.7 M278.2,388.7 L277.9,385.9 L276.7,385.5 L278.0,384.4 L275.1,384.0 L273.5,382.7 L273.2,385.0 L274.2,387.9 M287.9,388.7 L286.7,389.9 L284.3,390.5 L284.0,392.5 L285.1,394.5 L284.6,396.0 L285.7,398.9 L285.1,401.5 M286.7,389.9 L287.3,390.8 L287.9,393.1 L289.0,392.3 L291.1,392.2 L292.0,394.3 L292.9,396.7 M292.9,396.7 L290.0,397.0 L289.4,397.8 L289.9,399.9 M289.0,387.4 L290.2,389.3 L291.8,389.7 L291.1,390.8 L292.5,391.9 L293.9,393.7 L295.2,395.8 L295.1,396.4 M287.9,388.7 L289.0,387.4 L291.0,387.2 L292.6,386.4 L294.2,386.9 L295.6,388.5 M295.1,396.4 L295.1,399.1 L293.3,400.0 L293.6,400.8 L291.7,401.4 M292.9,396.7 L295.1,396.4 M286.7,406.0 L287.8,406.9 L289.0,406.3 M250.7,385.9 L253.8,385.0 L252.9,383.2 L252.2,382.0 L254.8,380.9 L256.4,378.7 L257.8,376.6 L258.0,375.1 L257.2,373.1 L260.4,372.0 M258.3,370.2 L254.4,371.0 L253.8,373.3 L252.6,375.1 L251.9,376.3 L248.7,377.5 L248.4,378.8 L244.3,379.2 L242.4,378.8 M242.4,378.8 L243.5,380.2 L245.0,381.8 L245.0,382.5 L243.2,384.1 M242.4,378.8 L243.5,376.9 L242.3,374.5 L242.8,372.0 M242.8,372.0 L246.5,371.2 L248.8,369.9 L250.5,370.4 L252.7,369.7 L254.5,369.3 L254.5,370.7 L258.3,370.2 M242.8,372.0 L241.8,370.9 L240.1,369.6 L238.3,368.9 L236.2,369.1 L234.5,370.0 M248.8,369.9 L245.9,368.2 L243.9,366.3 L241.4,364.8 L239.8,363.6 L236.9,365.4 L236.9,361.1 M236.9,361.1 L239.7,360.5 L242.7,361.9 L248.2,363.5 L250.5,366.1 L253.7,364.2 L256.7,363.4 L258.4,363.5 L264.2,364.3 M250.5,366.1 L253.3,366.7 L251.9,367.5 L249.9,367.8 L250.5,370.4 M253.3,366.7 L257.0,367.1 M228.6,378.7 L227.5,377.4 L225.6,375.1 L224.9,373.9 L225.8,371.8 L224.3,370.2 M224.3,370.2 L223.5,367.6 L224.3,367.2 L226.2,368.2 L228.0,367.4 L228.9,368.8 M224.3,370.2 L221.6,370.2 L218.8,370.6 L216.6,370.6 L215.1,370.6 L214.6,371.7 M221.6,370.2 L220.3,371.0 L220.0,373.3 L217.5,374.6 M217.5,374.6 L217.9,376.0 L219.4,376.3 L221.2,377.3 L224.2,379.5 L226.2,379.6 L227.5,380.3 L228.3,380.3 M217.9,376.0 L215.5,376.8 L216.6,378.0 L216.0,378.6 L214.4,379.5 L213.2,379.4 M213.2,379.4 L213.8,376.8 L213.9,375.4 L215.2,375.9 L217.5,374.6 M213.3,374.9 L214.1,374.6 L215.0,373.7 L214.3,373.2 M222.0,394.4 L222.6,393.2 L223.9,393.2 L226.8,393.7 L229.0,391.8 L232.4,391.4 M232.4,391.4 L235.8,390.2 L236.6,387.9 L236.0,387.1 L233.1,386.8 L231.9,385.2 M232.4,391.4 L233.6,394.0 M236.6,387.9 L236.9,385.0 L237.3,383.7 M220.5,365.2 L222.8,365.6 L223.0,366.8 L224.3,367.2 M218.8,362.9 L221.7,363.2 L223.9,363.8 L226.1,364.7 L227.7,365.5 L228.6,364.8 M222.8,365.6 L224.5,365.4 L226.1,364.7 M332.9,416.6 L332.9,424.0 M297.4,411.6 L298.4,412.5 L300.1,412.3 L303.0,411.8 L304.1,410.0 L306.3,408.6 M302.4,408.3 L303.3,408.8 L303.9,407.8 M163.8,364.7 L166.4,364.7 L165.9,366.6 L165.8,367.5 L165.2,370.2 M171.7,362.9 L174.5,363.8 L177.3,364.1 M199.1,361.5 L199.5,362.5 L202.5,362.6 L204.4,362.1 L206.0,362.6 M199.1,361.5 L199.0,363.6 L199.0,364.2 M199.0,364.2 L199.7,365.4 L203.0,365.3 L203.5,364.9 L205.3,364.6 M203.0,365.3 L203.4,365.9 M196.3,367.2 L197.4,365.9 L199.7,365.4 M195.6,364.7 L196.4,363.9 L196.9,364.7 L197.4,365.9" fill="none" stroke="#b4b4b4" stroke-width="1.90" stroke-linejoin="round" stroke-linecap="round"/>
<path d="M14.5,332.9 L14.5,342.7" fill="none" stroke="#e4e5e5" stroke-width="4.00" stroke-linejoin="round" stroke-linecap="butt"/>
<path d="M14.5,343.3 L16.8,343.6 L18.5,344.8 L20.7,344.1 L23.0,345.6 L24.9,347.7 L26.9,348.5 M186.7,344.8 L187.8,342.4 L187.5,339.5 L190.1,336.6 L192.3,334.3 L196.8,333.1 M196.8,333.1 L200.3,334.4 L200.9,336.8 M196.8,333.1 L202.7,333.1 L203.0,331.9 L206.4,332.3 L206.3,333.1 L208.6,332.4 M206.3,333.1 L207.6,334.9 L207.0,336.6 L207.6,339.5 L209.3,340.2 L205.1,343.0 M204.7,346.5 L204.7,345.3 L205.4,344.3" fill="none" stroke="#e4e5e5" stroke-width="2.40" stroke-linejoin="round" stroke-linecap="round"/>
<path d="M34.8,356.4 L66.4,356.4 L66.8,355.9 L69.8,357.2 L72.6,357.6 M77.9,359.0 L79.4,359.9 L80.5,360.7 L80.7,363.4 L79.9,364.6 L84.5,363.6 L84.5,362.8 L87.3,362.2 L89.4,361.1 L93.0,361.1 L94.3,359.6 L95.6,358.3 L97.1,358.7 L97.1,360.3 L98.0,361.1 M226.4,361.7 L229.0,359.3 L226.8,357.6 L226.2,357.0 L226.8,355.2 L228.7,354.6 L231.3,353.3 L235.2,354.1 L239.7,354.1 L243.1,354.3 L241.4,352.9 L242.6,350.6 L247.1,349.9 L251.6,349.0 L253.8,350.4 L256.7,350.6 L260.3,350.2 L261.5,351.4 L264.0,354.3 L267.7,354.1 L270.2,355.7 L272.3,356.2 M272.8,356.2 L275.0,355.4 L277.9,354.3 L280.4,355.2 L284.7,354.7 L284.3,352.9 L289.1,353.7 L289.2,354.6 L294.2,354.9 L296.2,356.1 L298.7,356.2 L301.3,355.7 L305.4,355.5 M272.8,356.2 L273.0,357.0 L276.3,359.0 L276.3,360.8 L281.4,361.9 L282.5,363.8 L288.6,364.0 L292.2,365.0 L297.1,364.1 L300.0,362.6 L299.9,361.1 L301.9,361.3 L305.3,359.6 L308.9,359.1 L306.9,357.7 L304.1,357.9 L305.4,355.5 M305.4,355.5 L308.4,354.9 L310.0,352.2 L313.1,351.2 L315.9,351.8 L317.6,355.2 L321.2,356.5 L321.6,357.9 L325.8,357.1 L323.8,361.1 L321.9,362.8 L321.2,364.2 M272.3,356.2 L270.2,358.7 L267.4,358.5 L266.6,360.5 L264.2,361.1 L264.2,364.3 M182.2,362.5 L181.6,361.1 L181.6,360.0 M181.6,360.0 L180.5,359.6 L182.3,358.0 M182.3,358.0 L182.9,356.4 L180.9,355.8 M180.9,355.8 L178.4,355.2 L176.5,354.0 M177.5,353.6 L180.2,353.9 L180.5,354.3 M180.9,355.8 L180.5,354.3 L180.7,353.0 L181.6,352.3 L181.8,351.4 M183.4,349.5 L184.9,349.7 M189.7,350.7 L190.2,352.3 L190.6,354.1 M190.6,354.1 L187.6,354.9 L189.3,356.6 M189.3,356.6 L188.4,358.2 L185.2,358.3 L184.5,358.2 L182.3,358.0 M181.6,360.0 L183.3,359.7 L184.2,359.3 L185.5,359.0 M185.5,359.0 L187.5,358.7 L189.2,359.3 M189.2,359.3 L191.8,359.0 L192.9,357.6 M190.6,354.1 L192.7,354.9 L194.9,355.8 M189.3,356.6 L190.6,356.4 L192.9,356.9 L194.9,355.8 M194.9,355.8 L196.3,356.1 L199.1,356.3 M192.9,357.6 L194.9,357.8 L196.8,357.0 L198.8,357.1 M199.1,356.3 L200.8,354.7 L200.3,353.5 M200.3,353.5 L200.2,352.1 L200.7,350.7 M196.0,350.1 L199.4,350.2 L200.7,350.7 M200.7,350.7 L202.8,350.0 L203.9,348.6 M197.4,348.1 L201.3,347.9 L203.9,348.6 M201.1,346.0 L203.0,346.2 L204.7,346.5 M203.9,348.6 L205.5,348.0 L204.7,346.5 M205.5,348.0 L208.7,348.8 L210.4,351.2 L209.3,352.7 M200.3,353.5 L204.2,353.5 L208.1,353.7 L209.3,352.7 M209.3,352.7 L212.1,352.6 L213.8,354.7 L216.6,355.2 L218.8,355.8 L218.6,357.6 L216.8,358.6 M198.8,357.1 L201.7,357.8 L203.7,357.2 L205.3,357.2 L207.6,359.3 L205.5,360.5 L207.1,360.7 M203.7,357.2 L205.5,359.3 L205.5,360.5 M198.8,357.1 L197.6,359.6 L196.6,359.8 M196.6,359.8 L194.9,360.0 L192.3,359.4 L191.8,359.0 M196.6,359.8 L198.0,361.1 L199.1,361.5 M191.8,360.8 L195.1,361.2 L195.6,362.8 L194.6,364.0 M199.1,356.3 L198.8,357.1" fill="none" stroke="#e4e5e5" stroke-width="1.60" stroke-linejoin="round" stroke-linecap="round"/>
<path d="M41.6,375.6 L44.1,375.5 L48.4,377.0 L51.5,376.8 L53.5,376.5 L55.7,378.9 L57.4,379.7 L59.1,378.8 L61.4,381.5 L63.8,383.2 M69.6,396.6 L70.2,394.9 L71.6,394.7 L71.0,393.5 L71.0,392.8 L73.0,392.8 L74.0,391.9 M73.0,392.8 L73.0,395.0 L73.3,395.0 M74.1,395.2 L72.9,396.7 L72.0,397.5 M72.9,396.7 L74.6,397.9 M74.7,398.4 L76.6,397.4 L78.3,396.4 L79.8,396.0 M76.9,400.6 L79.2,400.8 M80.1,404.1 L80.4,402.3 M85.7,405.1 L86.4,403.4 M93.2,399.8 L91.8,400.7 L91.3,403.0 L92.1,404.9 L94.5,405.3 L97.5,406.3 L97.1,408.8 L98.0,412.1 M98.0,412.1 L94.7,411.5 L95.3,412.8 L94.7,413.7 L94.8,418.4 M94.8,418.4 L93.9,417.9 L91.4,416.3 L88.7,413.6 M88.7,413.6 L86.2,412.7 L84.7,411.9 M88.7,413.6 L88.3,415.2 L85.3,417.5 L84.5,419.3 L83.0,417.5 M94.8,418.4 L91.5,419.4 L90.3,422.0 L91.4,424.5 L94.0,424.6 L94.0,426.3 L95.1,426.2 M95.1,426.2 L96.1,428.1 L95.8,431.0 L95.2,433.9 L94.2,434.8 M95.1,426.2 L99.9,424.8 L100.0,426.9 L105.4,429.6 L105.8,432.5 L107.9,432.5 L108.8,434.5 L108.0,436.6 L108.0,437.0 M108.0,437.0 L103.4,437.4 L103.0,439.4 M103.0,439.4 L100.3,439.2 L97.8,440.1 M97.8,440.1 L96.4,436.2 L95.2,433.9 M97.8,440.1 L96.4,442.6 L94.9,448.4 L94.3,451.9 L94.1,455.4 L93.3,458.9 L92.6,462.4 L92.7,465.9 L91.8,470.0 L90.9,472.3 L92.1,473.8 L96.5,474.4 M103.0,439.4 L105.9,441.5 L108.7,443.1 L107.5,445.2 L110.5,445.3 L112.0,443.3 M108.0,437.0 L108.3,439.2 L110.8,439.5 L112.4,441.5 L112.0,443.3 M112.0,443.3 L113.1,444.1 L110.7,446.5 L108.7,448.7 M108.7,448.7 L111.0,449.5 L113.4,452.8 M108.7,448.7 L108.0,451.4 L107.8,453.1 M98.0,412.1 L100.3,412.6 L102.1,410.9 L100.9,408.8 L104.8,408.3 L105.2,407.4 M105.2,407.4 L104.4,406.5 L105.9,403.6 M105.2,407.4 L106.1,408.3 L106.4,411.4 L107.3,412.0 L109.9,411.3 M108.2,411.6 L109.0,409.7 L109.1,406.6 M109.9,411.3 L112.0,410.8 L114.3,410.7 L115.3,408.6 M112.0,410.8 L112.7,406.7 M171.2,372.6 L172.3,375.6 L169.6,377.4 L167.5,378.8 L163.9,380.1 L163.9,381.7 M158.8,381.3 L163.9,381.3 M163.9,381.7 L163.9,383.2 L160.1,383.2 L160.1,386.1 L159.0,386.7 L159.0,388.7 L154.5,388.7 M163.9,381.7 L168.3,384.4 M168.3,384.4 L175.0,388.9 L175.7,389.9 L177.3,390.4 L177.4,391.4 L178.4,391.2 M178.4,391.2 L180.2,390.8 L187.2,386.1 M187.2,386.1 L185.0,385.0 L184.4,382.6 L184.8,380.5 L184.4,378.3 M184.4,378.3 L183.8,376.2 L182.2,374.1 L183.1,372.7 L183.4,370.5 M184.4,378.3 L185.3,376.6 L186.7,374.9 M201.9,376.7 L201.9,387.9 M201.9,387.9 L201.9,390.2 L200.8,390.2 L200.8,390.8 L191.8,386.1 L190.6,386.7 L189.7,387.2 L187.2,386.1 M201.9,387.9 L215.3,387.9 M168.3,384.4 L166.7,390.2 L167.5,394.3 L167.5,395.4 L163.2,395.4 L161.5,395.7 L160.7,395.3 L159.9,396.3 M159.9,396.3 L158.4,394.7 L157.3,394.2 L155.3,394.7 M159.9,396.3 L160.8,399.1 M160.8,399.1 L158.2,398.8 L156.8,398.7 L154.8,399.1 M154.7,397.7 L156.8,397.4 L158.1,397.9 L156.8,398.0 L154.7,398.2 M160.8,399.1 L163.5,399.2 L164.7,401.6 M158.7,403.0 L161.3,401.9 L162.1,403.6 L160.8,405.5 M162.1,403.6 L164.3,404.6 M164.7,401.6 L164.3,404.6 L165.2,408.4 M164.7,401.6 L167.5,401.4 L167.7,399.8 L168.7,398.7 L170.1,397.5 L171.4,397.0 L173.9,396.1 M173.9,396.1 L177.6,395.6 L178.4,393.8 L178.4,391.2 M170.6,407.7 L170.5,402.4 L170.5,400.7 M167.5,401.4 L170.5,402.1 M170.5,400.7 L173.7,400.7 M175.0,406.4 L174.3,403.6 L173.7,400.7 L174.7,400.7 M176.7,406.0 L177.1,403.0 L177.8,399.9 M175.5,406.3 L175.5,403.0 L174.7,400.7 M173.9,396.1 L174.7,397.8 L176.2,399.1 L177.8,399.9 M177.8,399.9 L178.3,397.8 L181.6,398.4 L184.4,398.6 L189.0,397.5 M189.0,397.5 L191.2,393.9 L191.2,390.2 L190.6,386.7 M183.4,407.9 L184.2,405.9 L186.7,405.6 L188.1,403.6 L189.7,400.5 L189.7,398.9 L189.0,397.5 M189.7,398.9 L191.2,401.9 L189.5,402.0 L191.2,404.8 M191.2,404.8 L194.7,404.2 L197.4,402.4 L199.5,400.8 M199.5,400.8 L198.8,398.7 L198.5,397.8 L200.8,395.2 L200.8,390.8 M191.2,404.8 L190.1,407.1 L192.0,410.9 M184.8,410.8 L188.7,410.9 L192.0,410.9 M186.4,410.8 L186.4,412.3 L184.5,412.3 M188.7,410.9 L190.1,414.1 L189.9,415.8 L186.3,418.0 M192.0,410.9 L194.7,409.4 L194.6,408.5 L199.1,408.6 L202.5,407.3 L204.6,407.6 M194.7,409.4 L193.8,414.1 L192.0,416.4 L191.0,418.5 L188.4,419.0 L187.5,420.3 M187.5,420.4 L188.4,420.4 L192.4,420.4 L192.9,422.0 L195.7,421.7 L198.3,422.0 L198.4,424.6 L198.5,426.3 L200.8,426.3 L200.8,428.6 M200.8,428.6 L198.5,428.6 L198.5,432.4 L200.1,434.0 M187.0,433.7 L189.5,433.8 L194.5,433.8 L200.1,434.0 L202.3,434.2 M197.4,434.5 L197.4,439.1 L196.3,439.1 L196.3,442.4 L196.3,446.6 L192.9,446.5 L192.3,446.8 M196.3,442.4 L197.2,444.7 L199.7,443.0 L202.6,443.3 L204.1,441.1 L206.9,439.4 M206.9,439.4 L205.0,437.4 L202.3,434.2 M202.3,434.2 L204.2,434.5 L206.3,432.1 L208.0,431.7 M208.0,431.7 L210.8,433.0 L210.7,436.2 L210.4,438.3 L209.0,439.6 M206.9,439.4 L209.0,439.6 M209.0,439.6 L209.8,442.0 L209.7,443.8 L210.8,444.8 M209.7,443.8 L208.6,444.4 L208.9,445.2 L209.8,445.0 M204.2,448.0 L205.9,446.8 L206.9,447.9 L205.5,449.1 L204.2,448.0 M200.8,426.3 L202.3,426.5 L204.2,427.5 L205.9,428.4 L207.3,429.1 L207.3,427.7 L205.8,427.2 L206.0,424.3 L208.5,423.1 M208.5,423.1 L210.8,424.5 L212.1,424.6 L212.9,426.9 M210.8,424.5 L210.9,428.1 L210.8,429.8 L208.0,431.7 M210.9,429.8 L212.6,430.4 L214.2,432.1 L213.5,433.4 L212.5,432.5 L212.4,430.4 M212.9,426.9 L216.0,427.1 L219.3,425.7 M208.5,423.1 L206.9,418.7 L206.4,416.6 L207.1,415.1 L207.2,412.8 L209.0,410.9 L208.6,409.4 M206.4,416.6 L208.1,416.3 L208.5,414.7 L207.1,415.1 M206.9,418.7 L208.0,417.6 L208.1,416.3 M208.1,414.7 L212.1,414.7 L216.1,417.0 L217.9,419.0 M212.1,414.7 L212.1,412.9 L213.2,411.8 L212.6,409.4 L212.1,408.6 M208.6,409.4 L212.1,408.6 L214.3,408.3 L216.6,409.3 L218.3,409.5 L220.0,409.0 L221.0,409.0 M221.0,409.0 L220.0,410.2 L220.0,413.5 L220.5,415.5 M221.0,409.0 L222.2,408.3 L224.5,407.7 L227.9,404.2 L226.8,404.2 L223.4,403.0 L222.2,401.3 L221.9,400.7 M221.9,400.7 L220.9,400.1 L221.6,398.9 L222.3,398.7 M221.6,398.9 L218.8,396.6 L216.5,396.4 L214.9,396.8 M214.9,396.8 L215.5,393.7 L217.3,392.5 M214.9,396.8 L214.3,398.7 L213.2,400.7 L212.2,402.4 L210.9,404.2 L213.5,407.2 L214.3,408.3 M212.2,402.4 L210.9,401.9 L211.2,399.3 L208.7,402.1 L205.3,402.7 L201.9,401.5 L200.3,403.4 M200.3,403.4 L204.6,407.6 L208.6,409.4 M199.5,400.8 L200.3,403.4 M321.2,364.2 L318.2,364.6 L317.0,364.8 L314.0,366.9 M316.1,369.5 L318.7,368.5 M264.2,364.3 L260.4,365.9 L257.0,367.1 L258.3,370.2 L259.5,371.8 L261.8,372.1 M261.8,372.1 L262.9,375.6 L265.1,378.3 L268.5,379.8 L270.8,380.9 L273.2,381.0 M265.1,378.3 L264.1,379.9 L267.4,381.6 L269.7,382.4 L273.2,382.7 L273.2,381.0 M273.9,381.7 L275.0,380.6 L277.1,381.1 L277.6,382.2 L275.1,382.4 L273.9,381.7 M277.1,381.1 L279.8,379.7 L282.3,379.2 L283.5,380.6 M283.5,380.6 L285.1,381.5 L285.0,383.8 L283.9,385.5 L285.5,387.9 L287.9,388.7 M283.5,380.6 L281.2,382.4 L280.5,384.4 L279.0,385.5 L278.9,387.6 L278.2,388.7 M278.2,388.7 L277.9,385.9 L276.7,385.5 L278.0,384.4 L275.1,384.0 L273.5,382.7 L273.2,385.0 L274.2,387.9 M287.9,388.7 L286.7,389.9 L284.3,390.5 L284.0,392.5 L285.1,394.5 L284.6,396.0 L285.7,398.9 L285.1,401.5 M286.7,389.9 L287.3,390.8 L287.9,393.1 L289.0,392.3 L291.1,392.2 L292.0,394.3 L292.9,396.7 M292.9,396.7 L290.0,397.0 L289.4,397.8 L289.9,399.9 M289.0,387.4 L290.2,389.3 L291.8,389.7 L291.1,390.8 L292.5,391.9 L293.9,393.7 L295.2,395.8 L295.1,396.4 M287.9,388.7 L289.0,387.4 L291.0,387.2 L292.6,386.4 L294.2,386.9 L295.6,388.5 M295.1,396.4 L295.1,399.1 L293.3,400.0 L293.6,400.8 L291.7,401.4 M292.9,396.7 L295.1,396.4 M286.7,406.0 L287.8,406.9 L289.0,406.3 M250.7,385.9 L253.8,385.0 L252.9,383.2 L252.2,382.0 L254.8,380.9 L256.4,378.7 L257.8,376.6 L258.0,375.1 L257.2,373.1 L260.4,372.0 M258.3,370.2 L254.4,371.0 L253.8,373.3 L252.6,375.1 L251.9,376.3 L248.7,377.5 L248.4,378.8 L244.3,379.2 L242.4,378.8 M242.4,378.8 L243.5,380.2 L245.0,381.8 L245.0,382.5 L243.2,384.1 M242.4,378.8 L243.5,376.9 L242.3,374.5 L242.8,372.0 M242.8,372.0 L246.5,371.2 L248.8,369.9 L250.5,370.4 L252.7,369.7 L254.5,369.3 L254.5,370.7 L258.3,370.2 M242.8,372.0 L241.8,370.9 L240.1,369.6 L238.3,368.9 L236.2,369.1 L234.5,370.0 M248.8,369.9 L245.9,368.2 L243.9,366.3 L241.4,364.8 L239.8,363.6 L236.9,365.4 L236.9,361.1 M236.9,361.1 L239.7,360.5 L242.7,361.9 L248.2,363.5 L250.5,366.1 L253.7,364.2 L256.7,363.4 L258.4,363.5 L264.2,364.3 M250.5,366.1 L253.3,366.7 L251.9,367.5 L249.9,367.8 L250.5,370.4 M253.3,366.7 L257.0,367.1 M228.6,378.7 L227.5,377.4 L225.6,375.1 L224.9,373.9 L225.8,371.8 L224.3,370.2 M224.3,370.2 L223.5,367.6 L224.3,367.2 L226.2,368.2 L228.0,367.4 L228.9,368.8 M224.3,370.2 L221.6,370.2 L218.8,370.6 L216.6,370.6 L215.1,370.6 L214.6,371.7 M221.6,370.2 L220.3,371.0 L220.0,373.3 L217.5,374.6 M217.5,374.6 L217.9,376.0 L219.4,376.3 L221.2,377.3 L224.2,379.5 L226.2,379.6 L227.5,380.3 L228.3,380.3 M217.9,376.0 L215.5,376.8 L216.6,378.0 L216.0,378.6 L214.4,379.5 L213.2,379.4 M213.2,379.4 L213.8,376.8 L213.9,375.4 L215.2,375.9 L217.5,374.6 M213.3,374.9 L214.1,374.6 L215.0,373.7 L214.3,373.2 M222.0,394.4 L222.6,393.2 L223.9,393.2 L226.8,393.7 L229.0,391.8 L232.4,391.4 M232.4,391.4 L235.8,390.2 L236.6,387.9 L236.0,387.1 L233.1,386.8 L231.9,385.2 M232.4,391.4 L233.6,394.0 M236.6,387.9 L236.9,385.0 L237.3,383.7 M220.5,365.2 L222.8,365.6 L223.0,366.8 L224.3,367.2 M218.8,362.9 L221.7,363.2 L223.9,363.8 L226.1,364.7 L227.7,365.5 L228.6,364.8 M222.8,365.6 L224.5,365.4 L226.1,364.7 M332.9,416.6 L332.9,424.0 M297.4,411.6 L298.4,412.5 L300.1,412.3 L303.0,411.8 L304.1,410.0 L306.3,408.6 M302.4,408.3 L303.3,408.8 L303.9,407.8 M163.8,364.7 L166.4,364.7 L165.9,366.6 L165.8,367.5 L165.2,370.2 M171.7,362.9 L174.5,363.8 L177.3,364.1 M199.1,361.5 L199.5,362.5 L202.5,362.6 L204.4,362.1 L206.0,362.6 M199.1,361.5 L199.0,363.6 L199.0,364.2 M199.0,364.2 L199.7,365.4 L203.0,365.3 L203.5,364.9 L205.3,364.6 M203.0,365.3 L203.4,365.9 M196.3,367.2 L197.4,365.9 L199.7,365.4 M195.6,364.7 L196.4,363.9 L196.9,364.7 L197.4,365.9" fill="none" stroke="#e4e5e5" stroke-width="1.15" stroke-linejoin="round" stroke-linecap="round"/></g></defs>
<text x="9.3" y="309.3" font-size="19.5" class="b">C</text>
<g transform="translate(0.0,0.0)"><g clip-path="url(#mc)"><use href="#base"/><path d="M47.5,355.7h1.5v1.5h-1.5zM50.7,356.0h1.1v1.1h-1.1zM51.6,355.9h1.2v1.2h-1.2zM52.8,355.6h1.3v1.3h-1.3zM53.2,355.5h1.4v1.4h-1.4zM54.3,355.7h1.7v1.7h-1.7zM213.2,354.3h0.9v0.9h-0.9zM214.7,354.8h0.9v0.9h-0.9zM218.3,356.1h0.8v0.8h-0.8zM218.5,356.9h1.2v1.2h-1.2zM209.3,349.2h1.0v1.0h-1.0zM209.8,350.5h1.2v1.2h-1.2zM226.3,360.5h1.2v1.2h-1.2zM227.3,360.2h0.9v0.9h-0.9zM228.5,359.0h1.0v1.0h-1.0zM225.9,356.2h1.2v1.2h-1.2zM229.1,353.6h1.0v1.0h-1.0zM229.8,353.6h1.2v1.2h-1.2zM230.4,353.4h1.0v1.0h-1.0zM233.2,352.9h1.1v1.1h-1.1zM235.2,353.2h1.1v1.1h-1.1zM237.7,353.8h0.8v0.8h-0.8zM241.3,351.7h1.1v1.1h-1.1zM243.4,349.6h1.0v1.0h-1.0zM246.6,349.4h1.2v1.2h-1.2zM254.3,350.0h1.0v1.0h-1.0zM255.4,349.8h0.9v0.9h-0.9zM261.7,352.2h0.9v0.9h-0.9zM262.7,353.0h1.2v1.2h-1.2zM263.3,353.5h1.1v1.1h-1.1zM264.8,353.7h0.9v0.9h-0.9zM269.8,354.7h0.9v0.9h-0.9zM270.3,355.7h0.8v0.8h-0.8zM320.3,363.8h1.1v1.1h-1.1zM317.9,354.7h1.1v1.1h-1.1zM321.7,357.2h1.0v1.0h-1.0zM323.3,360.1h1.1v1.1h-1.1zM222.7,369.4h1.1v1.1h-1.1zM221.0,369.4h1.1v1.1h-1.1zM217.8,374.3h1.2v1.2h-1.2zM223.9,366.8h1.1v1.1h-1.1zM226.1,368.1h0.8v0.8h-0.8zM218.6,362.9h0.8v0.8h-0.8zM212.8,376.6h1.2v1.2h-1.2zM257.1,372.9h0.8v0.8h-0.8zM259.6,372.0h1.2v1.2h-1.2zM189.4,399.7h1.1v1.1h-1.1zM212.9,406.8h0.8v0.8h-0.8zM220.4,397.1h1.0v1.0h-1.0zM218.2,396.4h1.0v1.0h-1.0zM217.8,396.2h1.0v1.0h-1.0z" fill="#d94fb5" opacity="0.88"/><path d="M48.0,355.9h1.3v1.3h-1.3zM49.0,355.7h1.1v1.1h-1.1zM55.2,355.9h1.1v1.1h-1.1zM56.1,355.9h1.4v1.4h-1.4zM56.8,355.8h1.4v1.4h-1.4z" fill="#c63fc0" opacity="0.88"/><path d="M49.7,355.7h1.6v1.6h-1.6zM57.6,355.5h1.5v1.5h-1.5zM58.4,355.9h1.3v1.3h-1.3zM87.5,415.6h0.8v0.8h-0.8zM96.9,405.9h1.0v1.0h-1.0zM239.8,353.3h1.2v1.2h-1.2zM249.4,349.0h1.1v1.1h-1.1zM256.7,350.4h1.0v1.0h-1.0zM263.8,353.8h1.0v1.0h-1.0zM267.3,353.5h0.8v0.8h-0.8zM278.5,354.7h0.8v0.8h-0.8zM324.2,358.7h0.9v0.9h-0.9zM216.4,370.2h1.1v1.1h-1.1zM219.2,371.9h0.8v0.8h-0.8zM223.4,367.8h0.8v0.8h-0.8zM224.2,367.2h1.1v1.1h-1.1zM225.5,368.0h1.1v1.1h-1.1zM226.4,364.6h1.1v1.1h-1.1zM212.8,374.0h1.1v1.1h-1.1zM238.6,359.8h0.8v0.8h-0.8zM245.5,362.1h1.0v1.0h-1.0zM247.0,363.0h0.9v0.9h-0.9zM250.4,365.3h0.8v0.8h-0.8zM256.8,363.4h0.8v0.8h-0.8zM189.4,400.7h1.1v1.1h-1.1zM198.6,401.2h1.2v1.2h-1.2zM199.7,401.8h0.8v0.8h-0.8zM190.1,404.9h1.2v1.2h-1.2zM189.8,405.1h1.0v1.0h-1.0zM214.6,395.4h1.0v1.0h-1.0zM215.8,392.7h1.0v1.0h-1.0z" fill="#df9dd3" opacity="0.88"/><path d="M39.7,356.2h1.0v1.0h-1.0zM80.3,360.3h0.8v0.8h-0.8zM82.5,363.5h1.0v1.0h-1.0zM83.3,363.6h1.0v1.0h-1.0zM84.4,361.9h1.2v1.2h-1.2zM85.5,361.7h1.1v1.1h-1.1zM86.0,362.3h1.1v1.1h-1.1zM88.0,361.2h1.1v1.1h-1.1zM92.3,360.3h1.0v1.0h-1.0zM75.5,397.0h0.9v0.9h-0.9zM84.4,417.5h0.9v0.9h-0.9zM91.1,404.0h1.1v1.1h-1.1zM165.0,364.4h0.9v0.9h-0.9zM166.1,364.1h1.1v1.1h-1.1zM165.3,366.8h1.1v1.1h-1.1zM180.0,360.0h0.9v0.9h-0.9zM181.6,358.3h1.0v1.0h-1.0zM182.2,356.6h1.0v1.0h-1.0zM180.0,355.1h1.2v1.2h-1.2zM180.3,352.4h1.1v1.1h-1.1zM183.2,348.3h1.0v1.0h-1.0zM183.9,357.3h1.0v1.0h-1.0zM182.4,359.2h1.0v1.0h-1.0zM187.8,357.5h1.1v1.1h-1.1zM191.2,356.4h1.1v1.1h-1.1zM194.0,356.4h1.0v1.0h-1.0zM197.6,365.5h0.9v0.9h-0.9zM206.1,347.1h1.1v1.1h-1.1zM207.4,348.3h0.8v0.8h-0.8zM207.6,352.7h1.0v1.0h-1.0zM200.8,365.0h0.8v0.8h-0.8zM201.5,365.7h0.9v0.9h-0.9zM192.8,359.8h1.0v1.0h-1.0zM192.8,359.8h1.0v1.0h-1.0zM194.9,360.0h1.1v1.1h-1.1zM196.8,365.2h0.8v0.8h-0.8zM198.5,364.9h1.0v1.0h-1.0zM202.5,345.3h1.1v1.1h-1.1zM203.4,348.9h0.9v0.9h-0.9zM202.3,348.0h1.1v1.1h-1.1zM203.7,357.9h1.0v1.0h-1.0zM205.5,358.5h1.0v1.0h-1.0zM195.9,349.0h1.2v1.2h-1.2zM200.3,350.5h1.2v1.2h-1.2zM198.5,360.7h1.1v1.1h-1.1zM199.6,361.9h1.1v1.1h-1.1zM202.3,362.2h0.9v0.9h-0.9zM198.1,363.4h1.1v1.1h-1.1zM199.9,357.4h1.2v1.2h-1.2zM203.9,357.1h0.9v0.9h-0.9zM212.6,353.1h0.9v0.9h-0.9zM217.6,354.2h0.8v0.8h-0.8zM217.6,357.2h1.2v1.2h-1.2zM216.2,357.9h1.1v1.1h-1.1zM317.1,364.3h1.2v1.2h-1.2zM312.5,351.3h1.2v1.2h-1.2zM314.6,351.1h1.1v1.1h-1.1zM316.6,354.5h1.0v1.0h-1.0zM248.2,369.5h1.0v1.0h-1.0zM256.3,362.7h0.7v0.7h-0.7zM266.4,379.0h0.8v0.8h-0.8zM268.5,380.1h1.0v1.0h-1.0zM271.7,380.2h0.9v0.9h-0.9zM263.8,379.1h1.2v1.2h-1.2zM264.4,379.6h1.0v1.0h-1.0zM267.8,381.5h1.2v1.2h-1.2zM281.9,381.1h1.0v1.0h-1.0zM280.1,384.8h0.8v0.8h-0.8zM156.5,398.6h1.1v1.1h-1.1zM155.2,398.2h0.8v0.8h-0.8zM155.4,397.4h1.0v1.0h-1.0zM167.5,399.3h1.2v1.2h-1.2zM168.8,398.6h0.9v0.9h-0.9zM168.7,401.8h1.1v1.1h-1.1zM169.1,401.5h1.1v1.1h-1.1zM174.6,403.0h0.8v0.8h-0.8zM174.4,401.4h1.2v1.2h-1.2z" fill="#8f7dc0" opacity="0.88"/><path d="M79.1,359.6h0.9v0.9h-0.9zM87.5,361.3h1.2v1.2h-1.2zM92.6,359.9h1.1v1.1h-1.1zM109.7,439.3h1.3v1.3h-1.3zM103.2,439.7h1.2v1.2h-1.2zM103.9,439.5h1.3v1.3h-1.3zM104.7,440.5h1.1v1.1h-1.1zM105.2,441.3h0.9v0.9h-0.9zM107.2,443.0h1.1v1.1h-1.1zM106.6,444.2h1.4v1.4h-1.4zM164.9,368.8h0.8v0.8h-0.8zM173.3,362.5h0.9v0.9h-0.9zM182.7,357.4h1.2v1.2h-1.2zM177.4,355.2h1.1v1.1h-1.1zM177.3,353.5h1.0v1.0h-1.0zM178.1,353.0h0.9v0.9h-0.9zM179.7,354.1h0.8v0.8h-0.8zM190.3,352.4h0.9v0.9h-0.9zM189.8,353.6h1.0v1.0h-1.0zM186.5,356.8h1.1v1.1h-1.1zM186.0,358.0h1.0v1.0h-1.0zM184.5,357.7h1.2v1.2h-1.2zM189.9,358.2h1.2v1.2h-1.2zM196.4,364.0h0.9v0.9h-0.9zM209.8,352.7h1.0v1.0h-1.0zM205.3,353.3h1.0v1.0h-1.0zM198.3,364.7h1.0v1.0h-1.0zM204.0,364.3h0.9v0.9h-0.9zM203.8,345.6h0.9v0.9h-0.9zM203.7,343.9h1.1v1.1h-1.1zM201.7,365.8h1.2v1.2h-1.2zM196.5,358.6h1.0v1.0h-1.0zM194.0,360.0h1.2v1.2h-1.2zM194.6,359.8h1.2v1.2h-1.2zM193.5,360.0h1.0v1.0h-1.0zM191.6,358.4h1.2v1.2h-1.2zM204.0,348.6h1.2v1.2h-1.2zM201.2,349.5h1.2v1.2h-1.2zM199.0,351.3h1.1v1.1h-1.1zM200.3,352.7h1.1v1.1h-1.1zM205.3,361.4h1.2v1.2h-1.2zM198.5,356.9h1.2v1.2h-1.2zM197.3,357.3h1.1v1.1h-1.1zM196.4,359.3h1.0v1.0h-1.0zM198.8,357.6h0.8v0.8h-0.8zM198.6,356.3h1.0v1.0h-1.0zM215.8,353.7h0.9v0.9h-0.9zM218.4,355.9h1.1v1.1h-1.1zM262.9,376.0h0.9v0.9h-0.9zM268.2,379.7h0.9v0.9h-0.9zM277.0,384.3h1.0v1.0h-1.0zM276.3,384.4h1.1v1.1h-1.1zM276.8,384.2h0.9v0.9h-0.9zM277.5,383.2h1.1v1.1h-1.1zM274.7,383.5h0.9v0.9h-0.9zM274.2,383.1h1.0v1.0h-1.0zM272.7,386.5h0.9v0.9h-0.9zM273.7,387.3h1.1v1.1h-1.1zM286.9,389.5h1.1v1.1h-1.1zM283.3,392.3h0.9v0.9h-0.9zM284.7,393.4h1.2v1.2h-1.2zM285.6,399.8h1.0v1.0h-1.0zM286.3,390.7h1.0v1.0h-1.0zM287.6,391.5h1.0v1.0h-1.0zM288.8,397.5h1.1v1.1h-1.1zM289.4,397.4h1.1v1.1h-1.1zM291.7,392.7h0.9v0.9h-0.9zM293.8,396.2h1.1v1.1h-1.1zM294.0,399.6h0.9v0.9h-0.9zM292.6,399.9h1.3v1.3h-1.3zM291.0,400.7h1.0v1.0h-1.0zM284.1,384.8h1.2v1.2h-1.2zM164.0,400.6h0.9v0.9h-0.9zM169.7,396.8h0.8v0.8h-0.8zM171.7,395.6h1.0v1.0h-1.0zM172.0,395.7h1.1v1.1h-1.1zM185.4,398.2h1.1v1.1h-1.1zM188.0,397.2h1.0v1.0h-1.0zM169.7,406.2h1.0v1.0h-1.0zM207.1,418.5h0.9v0.9h-0.9zM214.3,426.0h1.2v1.2h-1.2zM217.3,426.2h0.9v0.9h-0.9zM203.1,426.6h0.9v0.9h-0.9zM207.2,428.3h1.0v1.0h-1.0zM207.1,422.8h1.2v1.2h-1.2zM210.0,435.2h0.8v0.8h-0.8zM209.4,440.5h1.2v1.2h-1.2z" fill="#4a68b0" opacity="0.88"/><path d="M93.5,358.2h1.2v1.2h-1.2zM42.1,374.7h1.0v1.0h-1.0zM53.2,376.7h0.9v0.9h-0.9zM106.9,437.3h1.1v1.1h-1.1zM111.4,440.9h1.3v1.3h-1.3zM109.6,446.3h1.3v1.3h-1.3zM108.0,445.0h1.2v1.2h-1.2zM109.3,444.4h1.0v1.0h-1.0zM171.2,362.7h1.1v1.1h-1.1zM173.1,362.7h0.8v0.8h-0.8zM179.6,355.1h1.1v1.1h-1.1zM179.3,355.0h1.0v1.0h-1.0zM187.8,354.1h0.8v0.8h-0.8zM188.1,355.0h1.1v1.1h-1.1zM188.1,356.0h1.2v1.2h-1.2zM184.0,357.7h1.1v1.1h-1.1zM192.4,357.4h0.8v0.8h-0.8zM192.7,358.1h1.1v1.1h-1.1zM192.1,354.7h1.2v1.2h-1.2zM194.1,355.5h1.0v1.0h-1.0zM196.1,363.6h1.2v1.2h-1.2zM207.6,349.3h1.1v1.1h-1.1zM200.4,353.9h1.0v1.0h-1.0zM192.2,360.7h0.9v0.9h-0.9zM195.1,366.4h0.9v0.9h-0.9zM196.8,364.9h1.1v1.1h-1.1zM205.6,347.2h1.1v1.1h-1.1zM198.0,347.0h1.1v1.1h-1.1zM198.0,347.1h1.2v1.2h-1.2zM198.9,347.9h1.0v1.0h-1.0zM201.4,346.6h0.8v0.8h-0.8zM201.6,348.2h0.9v0.9h-0.9zM203.1,348.7h1.0v1.0h-1.0zM199.9,350.0h1.2v1.2h-1.2zM194.1,356.3h1.0v1.0h-1.0zM197.7,356.7h0.9v0.9h-0.9zM196.8,357.7h1.0v1.0h-1.0zM198.1,362.1h1.1v1.1h-1.1zM193.4,356.4h0.9v0.9h-0.9zM194.9,357.6h0.9v0.9h-0.9zM196.5,356.8h1.0v1.0h-1.0zM201.6,356.7h0.9v0.9h-0.9zM202.7,356.6h1.0v1.0h-1.0zM204.2,358.0h1.2v1.2h-1.2zM205.6,357.0h1.2v1.2h-1.2zM207.0,359.3h1.2v1.2h-1.2zM208.3,353.0h1.0v1.0h-1.0zM211.0,352.7h0.9v0.9h-0.9zM208.6,352.3h1.2v1.2h-1.2zM211.6,352.8h1.1v1.1h-1.1zM217.9,356.9h1.1v1.1h-1.1zM216.5,357.7h1.0v1.0h-1.0zM205.0,347.6h1.2v1.2h-1.2zM210.2,350.8h0.8v0.8h-0.8zM209.5,352.2h1.2v1.2h-1.2zM284.2,352.3h1.0v1.0h-1.0zM288.9,353.6h1.1v1.1h-1.1zM302.3,355.2h0.7v0.7h-0.7zM316.4,352.8h0.8v0.8h-0.8zM224.7,370.9h0.9v0.9h-0.9zM214.2,375.1h0.8v0.8h-0.8zM216.7,374.3h0.9v0.9h-0.9zM274.5,380.1h1.0v1.0h-1.0zM274.6,381.2h0.9v0.9h-0.9zM280.2,379.7h1.0v1.0h-1.0zM282.2,379.6h0.9v0.9h-0.9zM280.4,382.0h0.9v0.9h-0.9zM278.6,386.9h0.8v0.8h-0.8zM277.8,386.4h1.0v1.0h-1.0zM277.0,385.6h1.1v1.1h-1.1zM272.6,383.2h1.1v1.1h-1.1zM272.3,383.2h1.2v1.2h-1.2zM256.6,377.9h1.2v1.2h-1.2zM257.6,374.7h1.2v1.2h-1.2zM257.6,374.3h1.2v1.2h-1.2zM256.4,373.4h1.2v1.2h-1.2zM283.6,391.9h1.0v1.0h-1.0zM284.4,394.1h0.9v0.9h-0.9zM284.8,397.3h1.2v1.2h-1.2zM285.5,398.2h1.2v1.2h-1.2zM287.1,392.5h1.1v1.1h-1.1zM290.8,394.4h1.2v1.2h-1.2zM292.0,395.5h1.0v1.0h-1.0zM290.3,390.1h1.0v1.0h-1.0zM291.7,390.2h0.9v0.9h-0.9zM292.6,399.1h1.1v1.1h-1.1zM285.3,387.7h1.0v1.0h-1.0zM286.3,388.4h1.2v1.2h-1.2zM184.3,405.2h0.8v0.8h-0.8zM190.6,403.4h0.8v0.8h-0.8zM195.1,403.4h0.9v0.9h-0.9zM199.3,396.0h1.2v1.2h-1.2zM200.6,393.2h1.2v1.2h-1.2zM210.6,401.1h0.8v0.8h-0.8zM209.4,399.3h1.0v1.0h-1.0zM205.1,401.9h1.2v1.2h-1.2zM211.8,405.9h1.2v1.2h-1.2z" fill="#8035a0" opacity="0.88"/><path d="M111.0,442.9h1.3v1.3h-1.3zM283.9,389.6h1.1v1.1h-1.1zM286.0,390.1h1.2v1.2h-1.2zM289.0,399.7h0.9v0.9h-0.9zM294.7,396.4h1.2v1.2h-1.2zM295.2,398.8h1.1v1.1h-1.1zM288.7,386.0h1.2v1.2h-1.2zM283.9,380.3h0.8v0.8h-0.8zM189.0,400.5h1.4v1.4h-1.4zM191.0,401.0h1.2v1.2h-1.2zM190.4,401.3h1.4v1.4h-1.4zM189.4,401.8h1.4v1.4h-1.4zM189.0,402.4h1.1v1.1h-1.1zM188.0,402.9h1.0v1.0h-1.0zM188.5,402.1h1.4v1.4h-1.4zM188.6,400.2h1.0v1.0h-1.0zM188.1,400.6h1.0v1.0h-1.0zM189.6,398.2h1.5v1.5h-1.5z" fill="#2d1a8e" opacity="0.88"/><path d="M276.3,384.7h1.2v1.2h-1.2zM211.6,414.5h0.9v0.9h-0.9zM216.1,417.9h1.1v1.1h-1.1zM213.2,431.8h1.0v1.0h-1.0zM212.8,431.9h1.1v1.1h-1.1z" fill="#a0d0e0" opacity="0.88"/><path d="M273.5,382.3h1.2v1.2h-1.2zM273.0,383.3h1.0v1.0h-1.0zM156.3,397.8h1.0v1.0h-1.0zM164.2,400.7h1.0v1.0h-1.0zM173.1,399.5h1.1v1.1h-1.1zM211.9,409.9h0.9v0.9h-0.9zM219.2,408.2h1.1v1.1h-1.1zM212.2,430.2h0.9v0.9h-0.9zM209.2,443.7h1.2v1.2h-1.2zM203.0,434.6h1.0v1.0h-1.0z" fill="#64b6cf" opacity="0.88"/></g></g>
<text x="27.3" y="319.2" font-size="12" class="serif">(i)</text>
<rect x="21.60" y="407.90" width="13.37" height="13.70" fill="#d94fb5"/>
<rect x="34.87" y="407.90" width="13.37" height="13.70" fill="#8035a0"/>
<rect x="48.14" y="407.90" width="13.37" height="13.70" fill="#2d1a8e"/>
<rect x="21.60" y="421.50" width="13.37" height="13.70" fill="#df9dd3"/>
<rect x="34.87" y="421.50" width="13.37" height="13.70" fill="#8f7dc0"/>
<rect x="48.14" y="421.50" width="13.37" height="13.70" fill="#4a68b0"/>
<rect x="21.60" y="435.10" width="13.37" height="13.70" fill="#e8e4f3"/>
<rect x="34.87" y="435.10" width="13.37" height="13.70" fill="#a0d0e0"/>
<rect x="48.14" y="435.10" width="13.37" height="13.70" fill="#64b6cf"/>
<text transform="translate(18.60,414.20) rotate(-90)" font-size="7.4" text-anchor="middle">High</text>
<text transform="translate(18.60,442.20) rotate(-90)" font-size="7.4" text-anchor="middle">Low</text>
<text x="21.40" y="457.20" font-size="7.4">Low</text>
<text x="62.90" y="457.20" font-size="7.4" text-anchor="end">High</text>
<text x="41.00" y="468.40" font-size="7.4" class="b" text-anchor="middle">NPP Trend</text>
<text transform="translate(7.20,428.40) rotate(-90)" font-size="7.60" class="b" text-anchor="middle">Amphibians</text>
<g transform="translate(347.3,0.0)"><g clip-path="url(#mc)"><use href="#base"/><rect x="181" y="349.8" width="0.9" height="3.4" fill="#111"/><path d="M34.5,356.0h1.3v1.3h-1.3zM35.5,355.7h1.2v1.2h-1.2zM36.2,355.5h1.3v1.3h-1.3zM37.1,355.8h1.1v1.1h-1.1zM38.1,356.1h1.1v1.1h-1.1zM38.7,356.0h1.2v1.2h-1.2zM39.5,355.9h1.5v1.5h-1.5zM40.6,355.5h1.7v1.7h-1.7zM41.5,355.8h1.3v1.3h-1.3zM61.4,355.7h1.2v1.2h-1.2zM95.6,442.9h1.1v1.1h-1.1zM93.6,454.7h1.0v1.0h-1.0zM93.2,455.2h1.1v1.1h-1.1zM93.7,456.6h0.9v0.9h-0.9zM92.9,457.2h0.7v0.7h-0.7zM92.3,462.3h0.9v0.9h-0.9zM90.8,471.6h0.7v0.7h-0.7zM164.1,365.9h1.6v1.6h-1.6zM171.0,362.7h1.8v1.8h-1.8zM171.0,363.1h1.8v1.8h-1.8zM172.7,362.1h1.8v1.8h-1.8zM175.3,363.8h1.3v1.3h-1.3zM180.9,361.2h1.4v1.4h-1.4zM182.1,357.5h1.4v1.4h-1.4zM182.8,356.1h1.5v1.5h-1.5zM176.3,353.0h1.4v1.4h-1.4zM177.1,353.8h1.7v1.7h-1.7zM178.9,353.8h1.3v1.3h-1.3zM182.9,348.3h1.3v1.3h-1.3zM190.8,352.3h1.4v1.4h-1.4zM189.2,351.9h1.8v1.8h-1.8zM186.8,358.7h1.4v1.4h-1.4zM188.6,359.6h1.3v1.3h-1.3zM189.3,358.8h1.6v1.6h-1.6zM189.5,354.6h1.4v1.4h-1.4zM174.9,362.7h1.8v1.8h-1.8zM176.3,364.4h1.3v1.3h-1.3zM175.1,362.0h1.4v1.4h-1.4zM192.6,356.4h1.8v1.8h-1.8zM197.6,355.8h1.7v1.7h-1.7zM194.2,359.1h1.8v1.8h-1.8zM192.8,359.7h1.7v1.7h-1.7zM190.6,357.8h1.8v1.8h-1.8zM196.9,363.5h1.5v1.5h-1.5zM203.6,358.9h1.8v1.8h-1.8zM203.5,359.0h1.2v1.2h-1.2zM204.1,355.5h1.6v1.6h-1.6zM220.3,370.2h1.2v1.2h-1.2zM220.0,370.4h1.0v1.0h-1.0zM223.9,369.1h1.2v1.2h-1.2zM223.3,367.0h0.9v0.9h-0.9zM219.9,364.7h1.1v1.1h-1.1zM221.9,366.1h1.1v1.1h-1.1zM218.2,363.2h1.1v1.1h-1.1zM221.7,362.7h1.3v1.3h-1.3zM225.7,364.7h1.2v1.2h-1.2zM227.2,365.1h1.2v1.2h-1.2zM222.5,365.7h1.0v1.0h-1.0zM220.9,377.6h1.0v1.0h-1.0zM215.5,377.5h0.8v0.8h-0.8zM215.5,378.5h0.8v0.8h-0.8z" fill="#df9dd3" opacity="0.88"/><path d="M42.0,355.9h1.5v1.5h-1.5zM42.8,355.8h1.4v1.4h-1.4zM43.8,355.7h1.5v1.5h-1.5zM44.6,355.9h1.4v1.4h-1.4zM45.7,355.5h1.7v1.7h-1.7zM61.6,355.8h1.5v1.5h-1.5zM62.6,355.6h1.1v1.1h-1.1zM63.7,355.7h1.6v1.6h-1.6zM64.7,356.0h1.2v1.2h-1.2zM78.1,358.7h1.3v1.3h-1.3zM79.6,360.1h1.3v1.3h-1.3zM90.6,360.4h1.2v1.2h-1.2zM90.9,360.3h1.2v1.2h-1.2zM92.3,359.6h1.2v1.2h-1.2zM96.9,359.6h1.2v1.2h-1.2zM46.8,375.6h1.1v1.1h-1.1zM47.4,376.6h0.9v0.9h-0.9zM51.4,375.8h1.2v1.2h-1.2zM54.4,377.4h0.9v0.9h-0.9zM59.5,379.1h1.0v1.0h-1.0zM61.4,381.0h1.1v1.1h-1.1zM63.3,382.5h1.2v1.2h-1.2zM69.5,394.7h1.3v1.3h-1.3zM70.2,392.8h1.4v1.4h-1.4zM71.1,391.8h1.0v1.0h-1.0zM71.9,392.7h1.0v1.0h-1.0zM72.7,395.2h0.9v0.9h-0.9zM72.6,395.7h1.2v1.2h-1.2zM72.9,397.5h1.0v1.0h-1.0zM77.0,396.2h1.3v1.3h-1.3zM78.0,396.7h1.3v1.3h-1.3zM78.2,399.7h1.0v1.0h-1.0zM91.6,403.7h1.0v1.0h-1.0zM95.6,430.5h0.9v0.9h-0.9zM104.1,428.3h1.0v1.0h-1.0zM105.4,429.3h1.0v1.0h-1.0zM105.7,430.3h1.0v1.0h-1.0zM108.2,434.4h0.9v0.9h-0.9zM101.1,439.1h1.0v1.0h-1.0zM166.5,365.1h1.5v1.5h-1.5zM166.2,365.6h1.6v1.6h-1.6zM164.7,368.0h1.6v1.6h-1.6zM166.0,370.1h1.3v1.3h-1.3zM177.2,363.8h1.6v1.6h-1.6zM181.1,359.5h1.2v1.2h-1.2zM179.8,358.6h1.7v1.7h-1.7zM179.7,358.0h1.6v1.6h-1.6zM180.3,359.2h1.4v1.4h-1.4zM180.4,355.0h1.5v1.5h-1.5zM181.5,355.5h1.2v1.2h-1.2zM176.3,353.1h1.6v1.6h-1.6zM177.9,354.1h1.8v1.8h-1.8zM178.7,352.3h1.7v1.7h-1.7zM181.8,352.6h1.6v1.6h-1.6zM190.0,349.6h1.8v1.8h-1.8zM189.6,353.7h1.3v1.3h-1.3zM189.2,354.7h1.3v1.3h-1.3zM188.4,353.7h1.7v1.7h-1.7zM188.0,353.5h1.7v1.7h-1.7zM187.8,354.1h1.4v1.4h-1.4zM188.9,355.1h1.8v1.8h-1.8zM189.2,356.6h1.8v1.8h-1.8zM186.8,357.3h1.3v1.3h-1.3zM186.0,357.2h1.5v1.5h-1.5zM183.7,358.7h1.8v1.8h-1.8zM182.1,356.6h1.5v1.5h-1.5zM181.6,357.2h1.2v1.2h-1.2zM179.8,359.7h1.6v1.6h-1.6zM181.6,359.5h1.2v1.2h-1.2zM183.8,358.5h1.7v1.7h-1.7zM183.1,359.3h1.4v1.4h-1.4zM184.8,358.1h1.8v1.8h-1.8zM186.0,358.5h1.4v1.4h-1.4zM187.1,359.0h1.6v1.6h-1.6zM188.0,358.1h1.3v1.3h-1.3zM191.3,357.3h1.2v1.2h-1.2zM190.7,357.8h1.8v1.8h-1.8zM190.8,355.8h1.2v1.2h-1.2zM191.0,352.0h1.8v1.8h-1.8zM189.9,354.4h1.6v1.6h-1.6zM192.3,353.0h1.5v1.5h-1.5zM192.7,353.5h1.6v1.6h-1.6zM191.2,354.9h1.7v1.7h-1.7zM194.1,356.6h1.5v1.5h-1.5zM192.7,355.8h1.6v1.6h-1.6zM162.1,363.1h1.6v1.6h-1.6zM164.5,362.9h1.5v1.5h-1.5zM165.5,364.3h1.4v1.4h-1.4zM165.2,363.0h1.4v1.4h-1.4zM164.3,364.5h1.3v1.3h-1.3zM165.9,365.4h1.4v1.4h-1.4zM166.3,367.6h1.7v1.7h-1.7zM164.8,368.8h1.7v1.7h-1.7zM163.9,368.2h1.6v1.6h-1.6zM172.1,361.2h1.5v1.5h-1.5zM173.0,362.9h1.2v1.2h-1.2zM172.3,361.7h1.4v1.4h-1.4zM192.4,356.1h1.7v1.7h-1.7zM192.6,358.6h1.3v1.3h-1.3zM198.2,356.8h1.5v1.5h-1.5zM196.9,355.7h1.5v1.5h-1.5zM197.2,358.2h1.3v1.3h-1.3zM197.4,357.7h1.6v1.6h-1.6zM197.2,358.7h1.6v1.6h-1.6zM195.6,358.0h1.2v1.2h-1.2zM197.9,360.1h1.7v1.7h-1.7zM198.1,361.7h1.4v1.4h-1.4zM200.3,361.2h1.5v1.5h-1.5zM201.0,362.6h1.7v1.7h-1.7zM201.8,361.2h1.2v1.2h-1.2zM197.6,363.9h1.3v1.3h-1.3zM200.5,366.0h1.4v1.4h-1.4zM199.3,364.6h1.6v1.6h-1.6zM200.9,364.6h1.5v1.5h-1.5zM201.1,365.4h1.6v1.6h-1.6zM201.8,364.9h1.4v1.4h-1.4zM196.2,366.2h1.5v1.5h-1.5zM192.7,361.6h1.2v1.2h-1.2zM191.5,359.6h1.6v1.6h-1.6zM194.1,360.2h1.2v1.2h-1.2zM195.0,361.8h1.3v1.3h-1.3zM195.8,364.0h1.7v1.7h-1.7zM204.6,357.4h1.2v1.2h-1.2zM204.7,358.0h1.8v1.8h-1.8zM207.0,359.1h1.2v1.2h-1.2zM207.2,359.4h1.6v1.6h-1.6zM205.6,358.4h1.3v1.3h-1.3zM205.0,358.3h1.4v1.4h-1.4zM209.1,352.7h1.4v1.4h-1.4zM204.7,347.2h1.3v1.3h-1.3zM205.0,346.6h1.2v1.2h-1.2zM201.9,349.7h1.3v1.3h-1.3zM203.0,348.4h1.1v1.1h-1.1zM202.5,348.0h1.2v1.2h-1.2zM200.2,351.4h1.6v1.6h-1.6zM199.7,354.2h1.3v1.3h-1.3zM197.9,355.5h1.4v1.4h-1.4zM217.7,354.6h1.2v1.2h-1.2zM212.8,354.0h1.1v1.1h-1.1zM216.4,355.3h0.9v0.9h-0.9zM217.0,354.9h1.2v1.2h-1.2zM206.7,347.5h0.8v0.8h-0.8zM207.2,348.6h1.2v1.2h-1.2zM207.0,339.0h1.1v1.1h-1.1zM208.2,339.3h1.0v1.0h-1.0zM207.7,340.3h1.0v1.0h-1.0zM207.0,340.8h1.1v1.1h-1.1zM206.3,341.4h1.2v1.2h-1.2zM187.0,343.5h1.0v1.0h-1.0zM187.2,343.3h0.9v0.9h-0.9zM187.0,340.3h0.8v0.8h-0.8zM186.6,338.5h1.0v1.0h-1.0zM189.1,336.2h1.1v1.1h-1.1zM196.5,332.9h0.8v0.8h-0.8zM227.7,358.3h1.3v1.3h-1.3zM227.6,357.3h1.4v1.4h-1.4zM226.2,355.7h1.3v1.3h-1.3zM225.9,354.6h1.1v1.1h-1.1zM232.0,353.2h1.2v1.2h-1.2zM232.9,353.2h1.2v1.2h-1.2zM242.8,352.9h1.0v1.0h-1.0zM241.4,353.4h1.2v1.2h-1.2zM241.7,352.6h1.2v1.2h-1.2zM242.6,350.3h1.0v1.0h-1.0zM250.9,349.0h1.3v1.3h-1.3zM251.9,348.5h1.0v1.0h-1.0zM252.9,350.0h0.9v0.9h-0.9zM260.8,351.1h1.3v1.3h-1.3zM263.0,352.7h1.0v1.0h-1.0zM263.3,353.5h1.0v1.0h-1.0zM308.4,353.5h1.3v1.3h-1.3zM309.7,351.8h1.4v1.4h-1.4zM315.6,350.8h1.0v1.0h-1.0zM315.6,352.0h1.0v1.0h-1.0zM320.9,357.9h0.9v0.9h-0.9zM321.6,357.2h1.3v1.3h-1.3zM323.6,356.5h1.2v1.2h-1.2zM322.5,360.7h1.2v1.2h-1.2zM322.2,361.9h1.4v1.4h-1.4zM316.1,369.3h1.2v1.2h-1.2zM316.9,368.6h1.1v1.1h-1.1zM222.7,370.1h1.1v1.1h-1.1zM222.9,369.5h1.1v1.1h-1.1zM221.4,370.1h1.0v1.0h-1.0zM218.7,370.2h1.2v1.2h-1.2zM215.9,370.1h1.1v1.1h-1.1zM214.3,371.4h1.2v1.2h-1.2zM220.4,370.3h1.2v1.2h-1.2zM225.9,376.2h1.1v1.1h-1.1zM225.8,376.4h1.0v1.0h-1.0zM225.2,372.5h0.9v0.9h-0.9zM224.7,372.6h0.9v0.9h-0.9zM223.5,369.7h1.2v1.2h-1.2zM222.6,367.3h1.3v1.3h-1.3zM226.7,367.2h1.0v1.0h-1.0zM227.6,366.9h1.2v1.2h-1.2zM223.4,365.8h1.2v1.2h-1.2zM219.6,363.2h1.0v1.0h-1.0zM223.6,363.4h0.9v0.9h-0.9zM224.3,364.2h1.1v1.1h-1.1zM223.4,365.2h1.1v1.1h-1.1zM224.6,365.2h1.3v1.3h-1.3zM225.6,364.1h1.2v1.2h-1.2zM212.9,374.6h1.2v1.2h-1.2zM214.2,373.7h1.0v1.0h-1.0zM214.1,373.5h0.9v0.9h-0.9zM212.3,378.3h1.1v1.1h-1.1zM212.7,376.2h1.2v1.2h-1.2zM214.0,375.4h1.0v1.0h-1.0zM213.8,375.5h1.1v1.1h-1.1zM216.7,373.6h0.9v0.9h-0.9zM217.6,375.8h1.2v1.2h-1.2zM220.1,376.4h1.0v1.0h-1.0zM227.5,379.6h1.1v1.1h-1.1zM215.8,376.6h1.1v1.1h-1.1zM244.4,371.5h0.9v0.9h-0.9zM244.2,370.6h1.2v1.2h-1.2zM246.0,370.4h1.3v1.3h-1.3zM253.7,369.8h1.1v1.1h-1.1zM250.8,366.0h1.2v1.2h-1.2zM250.0,368.5h1.2v1.2h-1.2zM256.1,366.9h1.0v1.0h-1.0zM256.6,368.0h0.9v0.9h-0.9zM264.4,362.1h1.3v1.3h-1.3zM263.7,362.6h1.3v1.3h-1.3zM253.2,373.8h0.9v0.9h-0.9zM246.1,378.0h1.0v1.0h-1.0zM245.8,378.4h0.9v0.9h-0.9zM244.1,378.3h0.8v0.8h-0.8zM236.3,365.0h1.0v1.0h-1.0zM236.8,363.3h1.0v1.0h-1.0zM236.8,360.8h1.0v1.0h-1.0zM253.0,384.1h0.9v0.9h-0.9zM251.7,382.0h0.8v0.8h-0.8zM252.4,381.2h0.9v0.9h-0.9zM257.6,372.9h0.9v0.9h-0.9zM259.2,371.2h1.0v1.0h-1.0zM220.1,397.9h1.1v1.1h-1.1zM218.8,397.3h0.9v0.9h-0.9zM217.9,396.0h0.9v0.9h-0.9zM216.3,396.1h1.1v1.1h-1.1zM222.6,402.1h1.0v1.0h-1.0zM221.9,400.7h1.2v1.2h-1.2z" fill="#d94fb5" opacity="0.88"/><path d="M46.2,355.5h1.7v1.7h-1.7zM47.3,355.4h1.5v1.5h-1.5zM48.0,355.6h1.5v1.5h-1.5zM49.3,355.9h1.5v1.5h-1.5zM50.2,355.6h1.1v1.1h-1.1zM50.8,355.6h1.5v1.5h-1.5zM51.6,355.5h1.4v1.4h-1.4zM52.3,355.7h1.5v1.5h-1.5zM53.6,355.7h1.2v1.2h-1.2zM54.1,355.4h1.6v1.6h-1.6zM55.3,355.6h1.2v1.2h-1.2zM56.1,355.7h1.3v1.3h-1.3zM56.7,356.0h1.2v1.2h-1.2zM57.5,355.8h1.2v1.2h-1.2zM58.7,355.5h1.5v1.5h-1.5zM59.3,355.6h1.2v1.2h-1.2zM60.2,355.7h1.4v1.4h-1.4zM80.2,364.3h1.1v1.1h-1.1zM80.8,363.7h1.0v1.0h-1.0zM82.0,363.3h1.3v1.3h-1.3zM86.8,361.5h1.1v1.1h-1.1zM93.3,358.9h1.0v1.0h-1.0zM96.3,357.5h1.2v1.2h-1.2zM97.0,358.9h1.2v1.2h-1.2zM163.1,364.5h1.7v1.7h-1.7zM163.8,363.0h1.5v1.5h-1.5zM166.0,365.1h1.7v1.7h-1.7zM164.4,368.3h1.8v1.8h-1.8zM175.6,363.5h1.3v1.3h-1.3zM180.4,356.4h1.4v1.4h-1.4zM179.2,354.4h1.8v1.8h-1.8zM178.0,355.8h1.7v1.7h-1.7zM181.0,353.3h1.7v1.7h-1.7zM179.6,353.4h1.2v1.2h-1.2zM182.5,350.8h1.3v1.3h-1.3zM190.5,355.2h1.2v1.2h-1.2zM190.3,357.4h1.4v1.4h-1.4zM188.6,356.9h1.5v1.5h-1.5zM191.5,356.7h1.8v1.8h-1.8zM196.7,355.9h1.2v1.2h-1.2zM196.3,360.2h1.6v1.6h-1.6zM194.6,360.0h1.2v1.2h-1.2zM198.2,359.3h1.3v1.3h-1.3zM198.9,363.1h1.4v1.4h-1.4zM201.1,360.2h1.8v1.8h-1.8zM195.9,365.8h1.2v1.2h-1.2zM197.4,366.0h1.3v1.3h-1.3zM197.9,363.2h1.8v1.8h-1.8zM205.6,360.6h1.6v1.6h-1.6zM225.9,357.2h1.3v1.3h-1.3zM228.1,354.1h1.3v1.3h-1.3zM251.1,348.6h1.2v1.2h-1.2zM263.6,353.9h1.2v1.2h-1.2zM265.1,354.1h1.2v1.2h-1.2zM309.8,352.1h1.1v1.1h-1.1zM311.3,351.8h1.1v1.1h-1.1zM312.5,351.2h0.9v0.9h-0.9zM316.7,353.9h1.0v1.0h-1.0zM320.8,357.1h1.1v1.1h-1.1zM325.0,357.1h1.2v1.2h-1.2zM315.7,364.5h1.3v1.3h-1.3zM314.2,365.9h1.3v1.3h-1.3zM313.3,366.0h1.1v1.1h-1.1zM219.0,373.4h0.9v0.9h-0.9zM218.0,374.2h1.3v1.3h-1.3zM226.8,376.9h1.0v1.0h-1.0zM224.2,366.3h1.0v1.0h-1.0zM225.8,367.9h1.2v1.2h-1.2zM214.7,374.7h0.9v0.9h-0.9zM183.9,405.7h1.6v1.6h-1.6zM185.9,403.6h1.4v1.4h-1.4zM186.3,403.9h1.2v1.2h-1.2zM187.7,403.2h1.4v1.4h-1.4zM188.2,401.1h1.6v1.6h-1.6zM190.5,404.2h1.7v1.7h-1.7zM192.4,403.6h1.6v1.6h-1.6zM192.6,403.2h1.3v1.3h-1.3zM193.9,403.1h1.4v1.4h-1.4zM199.1,397.1h1.1v1.1h-1.1zM198.4,395.3h1.5v1.5h-1.5zM200.1,396.4h1.1v1.1h-1.1zM200.4,394.5h1.3v1.3h-1.3zM199.9,390.5h1.4v1.4h-1.4zM198.5,401.1h1.3v1.3h-1.3zM199.1,402.2h1.1v1.1h-1.1zM209.6,401.5h1.5v1.5h-1.5zM210.7,399.6h1.1v1.1h-1.1zM208.0,402.0h1.2v1.2h-1.2zM207.7,402.2h1.2v1.2h-1.2zM214.3,396.2h1.4v1.4h-1.4zM212.9,397.4h1.4v1.4h-1.4zM211.0,402.3h1.7v1.7h-1.7zM210.7,403.0h1.5v1.5h-1.5zM210.3,404.0h1.4v1.4h-1.4zM211.4,405.1h1.2v1.2h-1.2zM212.4,405.0h1.7v1.7h-1.7zM212.0,406.7h1.5v1.5h-1.5zM188.8,406.5h1.1v1.1h-1.1zM189.6,407.5h1.7v1.7h-1.7z" fill="#c63fc0" opacity="0.88"/><path d="M84.0,363.2h1.1v1.1h-1.1zM87.2,361.7h1.0v1.0h-1.0zM88.7,360.2h1.1v1.1h-1.1zM41.7,375.5h1.2v1.2h-1.2zM57.6,379.5h0.8v0.8h-0.8zM69.8,394.1h1.3v1.3h-1.3zM70.1,393.5h0.9v0.9h-0.9zM72.4,393.3h1.2v1.2h-1.2zM72.2,393.6h1.3v1.3h-1.3zM71.5,396.6h1.2v1.2h-1.2zM78.3,395.7h1.0v1.0h-1.0zM79.6,403.6h1.2v1.2h-1.2zM92.2,399.6h1.2v1.2h-1.2zM97.4,409.3h1.0v1.0h-1.0zM108.5,438.8h1.3v1.3h-1.3zM111.9,443.6h1.2v1.2h-1.2zM110.7,445.7h1.0v1.0h-1.0zM105.9,441.2h1.4v1.4h-1.4zM106.7,441.4h1.1v1.1h-1.1zM94.7,434.2h1.0v1.0h-1.0zM103.3,428.4h1.0v1.0h-1.0zM96.6,436.0h1.0v1.0h-1.0zM99.1,438.9h0.9v0.9h-0.9zM193.4,356.3h1.3v1.3h-1.3zM195.3,356.8h1.5v1.5h-1.5zM190.6,357.5h1.8v1.8h-1.8zM203.2,362.2h1.8v1.8h-1.8zM198.9,361.9h1.4v1.4h-1.4zM197.6,362.6h1.6v1.6h-1.6zM203.5,364.7h1.4v1.4h-1.4zM205.1,365.5h1.2v1.2h-1.2zM192.6,359.8h1.3v1.3h-1.3zM194.1,361.3h1.5v1.5h-1.5zM195.1,362.5h1.8v1.8h-1.8zM195.5,364.2h1.4v1.4h-1.4zM205.0,360.4h1.4v1.4h-1.4zM199.7,356.9h1.3v1.3h-1.3zM200.7,358.1h1.3v1.3h-1.3zM201.7,358.0h1.3v1.3h-1.3zM201.3,356.4h1.8v1.8h-1.8zM202.5,356.9h1.4v1.4h-1.4zM205.5,348.8h1.1v1.1h-1.1zM206.0,346.7h1.1v1.1h-1.1zM207.7,349.4h1.1v1.1h-1.1zM207.3,347.7h1.2v1.2h-1.2zM209.6,349.8h1.1v1.1h-1.1zM208.6,349.0h1.3v1.3h-1.3zM205.2,351.9h1.1v1.1h-1.1zM204.1,353.7h1.3v1.3h-1.3zM207.8,352.7h1.2v1.2h-1.2zM203.6,347.1h1.2v1.2h-1.2zM198.4,347.7h1.4v1.4h-1.4zM199.1,348.2h1.2v1.2h-1.2zM199.8,346.9h1.3v1.3h-1.3zM200.6,348.5h1.3v1.3h-1.3zM199.3,350.3h1.5v1.5h-1.5zM194.0,355.0h1.5v1.5h-1.5zM198.0,356.0h1.1v1.1h-1.1zM198.6,354.9h1.4v1.4h-1.4zM200.2,353.2h1.4v1.4h-1.4zM213.0,351.4h1.1v1.1h-1.1zM211.6,352.7h1.4v1.4h-1.4zM213.3,354.6h1.4v1.4h-1.4zM213.7,353.5h1.1v1.1h-1.1zM214.1,353.9h1.3v1.3h-1.3zM219.0,356.0h1.2v1.2h-1.2zM217.3,355.7h1.2v1.2h-1.2zM217.3,355.4h1.6v1.6h-1.6zM208.4,352.4h1.2v1.2h-1.2zM210.0,351.7h1.2v1.2h-1.2zM210.8,351.3h1.2v1.2h-1.2zM213.2,354.5h1.0v1.0h-1.0zM214.1,354.0h0.9v0.9h-0.9zM189.6,336.0h1.1v1.1h-1.1zM191.9,334.1h1.0v1.0h-1.0zM195.4,333.5h0.9v0.9h-0.9zM197.1,333.3h0.9v0.9h-0.9zM197.2,332.5h1.1v1.1h-1.1zM199.1,333.3h1.0v1.0h-1.0zM199.5,333.5h1.0v1.0h-1.0zM228.0,359.7h0.9v0.9h-0.9zM227.7,359.8h1.0v1.0h-1.0zM228.7,353.7h1.2v1.2h-1.2zM228.8,353.4h1.3v1.3h-1.3zM229.8,353.0h0.9v0.9h-0.9zM235.0,353.5h1.3v1.3h-1.3zM235.9,354.1h1.1v1.1h-1.1zM236.4,353.4h1.2v1.2h-1.2zM239.0,353.8h1.2v1.2h-1.2zM239.3,353.3h1.2v1.2h-1.2zM240.5,353.9h1.0v1.0h-1.0zM241.4,354.0h1.3v1.3h-1.3zM245.6,349.7h1.0v1.0h-1.0zM246.4,349.2h1.0v1.0h-1.0zM254.2,349.5h1.0v1.0h-1.0zM254.2,349.7h0.9v0.9h-0.9zM255.0,349.6h1.3v1.3h-1.3zM256.9,349.5h1.3v1.3h-1.3zM257.1,349.7h1.0v1.0h-1.0zM259.2,350.2h1.4v1.4h-1.4zM260.4,349.9h1.0v1.0h-1.0zM261.2,350.4h1.0v1.0h-1.0zM265.8,353.3h0.9v0.9h-0.9zM267.3,353.8h1.0v1.0h-1.0zM269.9,354.7h0.9v0.9h-0.9zM269.7,354.6h1.2v1.2h-1.2zM298.6,355.7h0.9v0.9h-0.9zM301.4,354.7h1.2v1.2h-1.2zM307.1,355.0h0.9v0.9h-0.9zM319.6,355.6h1.1v1.1h-1.1zM324.2,356.1h1.0v1.0h-1.0zM319.5,363.6h1.0v1.0h-1.0zM318.0,364.5h1.2v1.2h-1.2zM316.8,364.2h1.1v1.1h-1.1zM317.1,367.6h1.2v1.2h-1.2zM245.9,371.2h0.9v0.9h-0.9zM247.1,370.5h0.9v0.9h-0.9zM253.8,369.9h1.4v1.4h-1.4zM251.4,367.0h1.1v1.1h-1.1zM250.8,366.4h1.1v1.1h-1.1zM256.5,366.3h0.9v0.9h-0.9zM262.6,363.8h1.0v1.0h-1.0zM262.3,365.1h0.9v0.9h-0.9zM261.4,365.5h1.0v1.0h-1.0zM259.7,365.2h1.3v1.3h-1.3zM258.3,366.3h0.9v0.9h-0.9zM257.6,366.1h1.2v1.2h-1.2zM256.7,366.8h1.2v1.2h-1.2zM239.9,359.5h1.0v1.0h-1.0zM240.5,360.1h1.0v1.0h-1.0zM241.6,361.9h0.9v0.9h-0.9zM243.8,362.2h1.1v1.1h-1.1zM244.0,361.9h1.1v1.1h-1.1zM247.4,363.0h1.0v1.0h-1.0zM248.3,362.9h1.2v1.2h-1.2zM248.3,363.8h1.1v1.1h-1.1zM249.4,364.9h1.0v1.0h-1.0zM251.0,364.4h1.0v1.0h-1.0zM256.5,362.3h1.0v1.0h-1.0zM262.9,364.2h1.3v1.3h-1.3zM262.5,363.5h1.0v1.0h-1.0zM271.2,356.5h1.1v1.1h-1.1zM270.7,356.5h1.1v1.1h-1.1zM269.0,358.6h0.9v0.9h-0.9zM266.0,360.2h1.2v1.2h-1.2zM264.9,360.1h1.3v1.3h-1.3zM264.9,359.9h1.2v1.2h-1.2zM257.5,369.3h0.8v0.8h-0.8zM242.4,374.5h1.1v1.1h-1.1zM242.7,372.0h0.9v0.9h-0.9zM246.1,367.6h0.9v0.9h-0.9zM238.6,363.3h0.9v0.9h-0.9zM254.8,379.6h1.2v1.2h-1.2zM255.2,378.7h1.2v1.2h-1.2zM255.8,378.7h1.0v1.0h-1.0zM257.5,376.3h1.0v1.0h-1.0zM257.3,375.7h1.2v1.2h-1.2zM257.4,373.1h1.0v1.0h-1.0zM265.2,377.6h1.5v1.5h-1.5zM265.4,377.9h1.7v1.7h-1.7zM266.9,378.3h1.4v1.4h-1.4zM267.4,378.6h1.3v1.3h-1.3zM270.8,380.8h1.3v1.3h-1.3zM263.8,378.9h1.4v1.4h-1.4zM273.1,381.5h1.1v1.1h-1.1zM272.7,380.9h1.7v1.7h-1.7zM275.3,379.8h1.3v1.3h-1.3zM275.5,380.2h1.4v1.4h-1.4zM276.8,382.1h1.3v1.3h-1.3zM274.5,382.2h1.2v1.2h-1.2zM276.9,379.9h1.2v1.2h-1.2zM278.2,379.5h1.3v1.3h-1.3zM279.0,379.8h1.2v1.2h-1.2zM282.5,379.6h1.2v1.2h-1.2zM282.8,380.0h1.2v1.2h-1.2zM280.8,382.3h1.5v1.5h-1.5zM279.6,383.7h1.3v1.3h-1.3zM278.2,387.1h1.4v1.4h-1.4zM276.4,383.4h1.6v1.6h-1.6zM276.7,383.4h1.6v1.6h-1.6zM276.1,383.4h1.4v1.4h-1.4zM275.1,382.9h1.4v1.4h-1.4zM274.4,382.5h1.7v1.7h-1.7zM273.2,382.4h1.5v1.5h-1.5zM277.9,388.4h1.0v1.0h-1.0zM277.6,386.6h0.9v0.9h-0.9zM281.9,380.4h1.3v1.3h-1.3zM281.4,381.4h1.4v1.4h-1.4zM278.2,388.2h1.1v1.1h-1.1zM285.8,389.2h1.3v1.3h-1.3zM285.3,389.0h1.1v1.1h-1.1zM285.0,394.7h1.1v1.1h-1.1zM284.7,400.0h1.0v1.0h-1.0zM291.1,391.5h0.9v0.9h-0.9zM295.4,395.9h1.0v1.0h-1.0zM291.9,399.7h1.0v1.0h-1.0zM287.1,388.0h1.2v1.2h-1.2zM284.0,383.7h1.1v1.1h-1.1zM158.5,398.6h1.6v1.6h-1.6zM157.9,397.4h1.2v1.2h-1.2zM154.9,396.5h1.6v1.6h-1.6zM156.1,396.2h1.4v1.4h-1.4zM156.7,397.7h1.2v1.2h-1.2zM155.8,397.9h1.2v1.2h-1.2zM154.2,397.5h1.4v1.4h-1.4zM160.7,399.1h1.3v1.3h-1.3zM163.6,398.4h1.2v1.2h-1.2zM162.7,399.7h1.5v1.5h-1.5zM162.9,399.7h1.4v1.4h-1.4zM167.5,400.0h1.3v1.3h-1.3zM168.2,397.6h1.6v1.6h-1.6zM167.8,398.6h1.3v1.3h-1.3zM168.3,396.8h1.5v1.5h-1.5zM170.7,396.9h1.3v1.3h-1.3zM172.5,396.6h1.3v1.3h-1.3zM173.5,395.5h1.2v1.2h-1.2zM167.9,401.8h1.1v1.1h-1.1zM168.4,400.7h1.2v1.2h-1.2zM168.6,400.7h1.1v1.1h-1.1zM174.6,398.1h1.4v1.4h-1.4zM175.7,398.6h1.3v1.3h-1.3zM176.5,398.3h1.2v1.2h-1.2zM176.9,399.6h1.2v1.2h-1.2zM178.2,397.5h1.3v1.3h-1.3zM179.9,397.9h1.3v1.3h-1.3zM179.7,397.3h1.1v1.1h-1.1zM181.4,396.7h1.6v1.6h-1.6zM181.9,398.0h1.4v1.4h-1.4zM184.0,397.7h1.6v1.6h-1.6zM184.8,397.2h1.4v1.4h-1.4zM184.5,397.6h1.6v1.6h-1.6zM185.4,398.1h1.1v1.1h-1.1zM186.4,397.6h1.3v1.3h-1.3zM187.7,397.3h1.1v1.1h-1.1zM173.0,401.7h1.2v1.2h-1.2zM172.2,400.1h1.5v1.5h-1.5zM172.8,399.4h1.5v1.5h-1.5zM176.0,404.4h1.2v1.2h-1.2zM176.2,403.6h1.2v1.2h-1.2zM175.7,402.4h1.2v1.2h-1.2zM176.4,401.5h1.4v1.4h-1.4zM177.2,400.2h1.2v1.2h-1.2zM176.2,399.0h1.1v1.1h-1.1zM173.9,403.1h1.4v1.4h-1.4zM174.5,403.7h1.1v1.1h-1.1zM173.9,402.5h1.6v1.6h-1.6zM173.9,400.9h1.2v1.2h-1.2zM169.4,406.3h1.3v1.3h-1.3zM169.8,405.4h1.4v1.4h-1.4zM169.1,404.6h1.3v1.3h-1.3zM169.9,404.1h1.4v1.4h-1.4zM170.2,403.7h1.5v1.5h-1.5zM169.4,402.2h1.4v1.4h-1.4zM182.2,407.1h1.5v1.5h-1.5zM183.7,405.4h1.4v1.4h-1.4zM186.3,405.1h1.2v1.2h-1.2zM187.5,401.0h1.7v1.7h-1.7zM189.6,400.1h1.5v1.5h-1.5zM189.4,399.0h1.3v1.3h-1.3zM189.4,397.8h1.3v1.3h-1.3zM188.9,397.9h1.6v1.6h-1.6zM189.2,400.6h1.3v1.3h-1.3zM190.0,400.0h1.4v1.4h-1.4zM190.2,400.6h1.7v1.7h-1.7zM189.3,401.6h1.7v1.7h-1.7zM189.7,402.8h1.4v1.4h-1.4zM190.3,402.9h1.3v1.3h-1.3zM195.1,403.4h1.5v1.5h-1.5zM195.7,401.8h1.4v1.4h-1.4zM196.2,402.9h1.1v1.1h-1.1zM197.9,400.7h1.5v1.5h-1.5zM197.1,401.0h1.7v1.7h-1.7zM197.7,400.9h1.5v1.5h-1.5zM198.4,400.0h1.3v1.3h-1.3zM197.5,399.5h1.2v1.2h-1.2zM197.4,398.0h1.5v1.5h-1.5zM200.1,394.5h1.7v1.7h-1.7zM199.7,393.5h1.5v1.5h-1.5zM199.3,392.5h1.7v1.7h-1.7zM200.6,391.7h1.3v1.3h-1.3zM198.6,402.0h1.5v1.5h-1.5zM210.6,401.7h1.5v1.5h-1.5zM210.2,398.7h1.4v1.4h-1.4zM210.8,399.4h1.6v1.6h-1.6zM209.3,398.8h1.3v1.3h-1.3zM208.7,399.7h1.5v1.5h-1.5zM208.2,401.7h1.7v1.7h-1.7zM205.6,402.1h1.4v1.4h-1.4zM205.3,402.0h1.4v1.4h-1.4zM204.8,401.8h1.7v1.7h-1.7zM204.1,400.6h1.5v1.5h-1.5zM202.8,401.9h1.7v1.7h-1.7zM201.9,401.4h1.4v1.4h-1.4zM200.8,401.4h1.6v1.6h-1.6zM199.5,402.5h1.5v1.5h-1.5zM213.6,398.5h1.7v1.7h-1.7zM212.2,399.3h1.4v1.4h-1.4zM212.1,400.1h1.5v1.5h-1.5zM212.0,401.7h1.4v1.4h-1.4zM212.3,406.8h1.7v1.7h-1.7zM189.7,403.9h1.5v1.5h-1.5zM189.4,405.9h1.2v1.2h-1.2zM190.1,406.4h1.5v1.5h-1.5zM190.0,407.8h1.2v1.2h-1.2zM191.6,409.5h1.3v1.3h-1.3zM190.6,410.2h1.2v1.2h-1.2zM201.8,404.9h1.0v1.0h-1.0zM198.8,407.7h1.0v1.0h-1.0zM199.6,407.1h1.1v1.1h-1.1zM202.1,407.4h0.8v0.8h-0.8zM204.2,407.7h0.8v0.8h-0.8zM221.6,408.2h1.0v1.0h-1.0zM225.3,405.9h1.0v1.0h-1.0zM225.6,403.2h0.8v0.8h-0.8zM223.6,403.3h1.2v1.2h-1.2zM221.5,399.9h0.9v0.9h-0.9zM220.9,399.1h0.8v0.8h-0.8zM205.7,415.8h1.2v1.2h-1.2zM207.5,415.3h1.2v1.2h-1.2zM207.6,416.2h1.1v1.1h-1.1zM213.6,415.2h0.9v0.9h-0.9zM214.4,416.6h1.1v1.1h-1.1zM212.3,411.4h1.3v1.3h-1.3zM217.7,409.5h1.0v1.0h-1.0zM219.0,408.6h1.1v1.1h-1.1zM210.6,424.5h0.9v0.9h-0.9zM209.6,425.4h1.0v1.0h-1.0zM211.7,430.3h1.1v1.1h-1.1zM213.3,425.6h1.3v1.3h-1.3zM215.4,426.0h0.9v0.9h-0.9zM209.0,440.9h1.1v1.1h-1.1zM209.7,441.4h1.0v1.0h-1.0zM209.6,442.6h1.1v1.1h-1.1zM209.1,442.7h1.1v1.1h-1.1zM207.6,445.1h1.1v1.1h-1.1zM196.0,442.1h1.2v1.2h-1.2zM219.4,414.3h1.0v1.0h-1.0zM210.1,408.7h1.0v1.0h-1.0z" fill="#8035a0" opacity="0.88"/><path d="M43.2,375.2h1.2v1.2h-1.2zM60.3,379.8h1.0v1.0h-1.0zM84.8,416.5h1.0v1.0h-1.0zM96.7,406.1h1.1v1.1h-1.1zM209.3,351.7h1.4v1.4h-1.4zM201.8,352.5h1.6v1.6h-1.6zM201.0,352.4h1.4v1.4h-1.4zM202.6,352.8h1.2v1.2h-1.2zM202.0,345.2h1.4v1.4h-1.4zM204.3,345.7h1.4v1.4h-1.4zM200.8,346.6h1.3v1.3h-1.3zM202.4,346.5h1.2v1.2h-1.2zM203.5,346.4h1.6v1.6h-1.6zM208.4,352.9h1.2v1.2h-1.2zM209.2,351.8h1.2v1.2h-1.2zM210.4,351.6h1.2v1.2h-1.2zM217.4,357.6h0.9v0.9h-0.9zM216.3,358.1h0.8v0.8h-0.8zM206.1,335.5h0.9v0.9h-0.9zM207.1,336.0h1.1v1.1h-1.1zM200.4,334.4h1.2v1.2h-1.2zM284.1,354.2h0.9v0.9h-0.9zM284.2,352.5h0.9v0.9h-0.9zM289.9,364.1h1.1v1.1h-1.1zM304.8,355.7h0.7v0.7h-0.7zM248.3,370.1h1.1v1.1h-1.1zM249.6,368.1h1.3v1.3h-1.3zM258.4,371.2h0.9v0.9h-0.9zM259.0,372.1h0.9v0.9h-0.9zM260.3,371.8h1.3v1.3h-1.3zM237.6,361.1h1.2v1.2h-1.2zM237.2,360.2h1.0v1.0h-1.0zM260.4,362.9h1.0v1.0h-1.0zM260.7,364.1h1.3v1.3h-1.3zM242.9,378.8h0.9v0.9h-0.9zM242.4,373.2h1.1v1.1h-1.1zM239.6,369.4h1.1v1.1h-1.1zM234.7,369.2h1.2v1.2h-1.2zM243.9,366.1h1.2v1.2h-1.2zM261.0,371.6h1.7v1.7h-1.7zM262.2,375.7h1.4v1.4h-1.4zM262.8,376.0h1.2v1.2h-1.2zM263.5,376.4h1.7v1.7h-1.7zM263.9,377.8h1.4v1.4h-1.4zM263.6,377.8h1.5v1.5h-1.5zM277.3,380.8h1.3v1.3h-1.3zM273.8,381.2h1.4v1.4h-1.4zM279.3,378.3h1.4v1.4h-1.4zM281.2,378.9h1.3v1.3h-1.3zM282.1,380.4h1.7v1.7h-1.7zM281.9,380.2h1.5v1.5h-1.5zM280.4,381.1h1.2v1.2h-1.2zM277.8,386.4h1.5v1.5h-1.5zM277.4,386.1h1.4v1.4h-1.4zM276.3,384.2h1.4v1.4h-1.4zM272.2,382.7h1.6v1.6h-1.6zM272.4,383.0h1.7v1.7h-1.7zM272.6,385.3h1.5v1.5h-1.5zM273.1,386.2h1.3v1.3h-1.3zM273.2,386.9h1.2v1.2h-1.2zM160.0,395.1h1.5v1.5h-1.5zM159.7,396.7h1.6v1.6h-1.6zM159.9,398.7h1.4v1.4h-1.4zM159.6,399.2h1.3v1.3h-1.3zM153.9,397.8h1.2v1.2h-1.2zM169.9,396.5h1.4v1.4h-1.4zM172.0,400.7h1.5v1.5h-1.5zM171.8,399.9h1.3v1.3h-1.3zM178.1,398.0h1.2v1.2h-1.2zM177.3,397.7h1.5v1.5h-1.5zM174.5,406.1h1.1v1.1h-1.1zM173.2,403.4h1.5v1.5h-1.5zM174.0,402.9h1.3v1.3h-1.3zM172.6,402.9h1.3v1.3h-1.3zM170.5,401.9h1.4v1.4h-1.4zM204.6,407.0h0.9v0.9h-0.9zM204.9,407.2h1.0v1.0h-1.0zM206.3,408.7h1.2v1.2h-1.2zM207.1,409.0h1.0v1.0h-1.0zM192.6,410.1h0.9v0.9h-0.9zM195.2,408.3h1.1v1.1h-1.1zM196.2,408.1h1.0v1.0h-1.0zM197.7,408.3h1.0v1.0h-1.0zM188.9,419.5h1.0v1.0h-1.0zM198.4,430.7h1.2v1.2h-1.2zM197.6,433.4h1.2v1.2h-1.2zM194.3,445.9h0.9v0.9h-0.9z" fill="#8f7dc0" opacity="0.88"/><path d="M72.8,394.2h1.3v1.3h-1.3zM108.4,436.5h1.1v1.1h-1.1zM107.7,438.9h1.4v1.4h-1.4zM110.7,438.6h1.3v1.3h-1.3zM110.9,440.0h1.4v1.4h-1.4zM112.2,444.3h1.5v1.5h-1.5zM110.7,445.2h1.2v1.2h-1.2zM109.1,447.4h1.3v1.3h-1.3zM108.7,447.5h1.2v1.2h-1.2zM102.1,439.0h1.3v1.3h-1.3zM103.2,439.1h1.1v1.1h-1.1zM104.2,439.9h1.1v1.1h-1.1zM105.4,440.5h1.4v1.4h-1.4zM107.9,442.9h1.4v1.4h-1.4zM109.5,445.2h1.2v1.2h-1.2zM109.3,448.4h1.2v1.2h-1.2zM111.3,450.2h1.0v1.0h-1.0zM111.7,450.2h1.2v1.2h-1.2zM287.3,388.2h0.9v0.9h-0.9zM283.0,390.5h1.4v1.4h-1.4zM291.5,394.7h1.3v1.3h-1.3zM292.6,395.1h0.9v0.9h-0.9zM289.6,397.0h0.9v0.9h-0.9zM291.9,391.5h1.2v1.2h-1.2zM293.2,392.8h1.1v1.1h-1.1zM290.3,386.1h1.1v1.1h-1.1zM290.8,386.3h1.1v1.1h-1.1zM291.9,385.0h1.2v1.2h-1.2zM205.7,415.3h1.2v1.2h-1.2zM207.0,413.4h0.9v0.9h-0.9zM206.7,411.0h1.2v1.2h-1.2zM207.5,410.8h1.3v1.3h-1.3zM208.6,411.0h0.9v0.9h-0.9zM208.5,408.0h1.2v1.2h-1.2zM208.9,408.3h1.1v1.1h-1.1zM211.2,408.4h0.9v0.9h-0.9zM211.4,408.0h1.4v1.4h-1.4zM215.7,409.2h1.1v1.1h-1.1zM215.7,409.3h1.3v1.3h-1.3zM219.4,409.2h1.1v1.1h-1.1zM210.7,423.4h1.2v1.2h-1.2zM214.2,432.3h1.2v1.2h-1.2zM202.3,426.1h1.2v1.2h-1.2zM206.5,423.1h1.3v1.3h-1.3zM209.1,437.4h0.9v0.9h-0.9zM208.5,438.7h1.0v1.0h-1.0zM206.9,438.8h1.1v1.1h-1.1zM205.5,437.6h1.2v1.2h-1.2zM204.3,437.8h1.2v1.2h-1.2zM202.7,434.9h1.2v1.2h-1.2zM202.5,434.0h1.2v1.2h-1.2z" fill="#2d1a8e" opacity="0.88"/><path d="M109.9,410.9h1.2v1.2h-1.2zM104.5,406.4h1.2v1.2h-1.2zM275.9,384.9h1.3v1.3h-1.3zM280.1,382.5h0.9v0.9h-0.9zM279.8,384.5h1.3v1.3h-1.3zM279.0,384.0h1.1v1.1h-1.1zM277.9,385.1h1.2v1.2h-1.2zM284.0,398.5h1.2v1.2h-1.2zM284.4,400.3h1.1v1.1h-1.1zM289.8,395.4h1.1v1.1h-1.1zM291.1,388.8h1.1v1.1h-1.1zM291.7,391.0h0.9v0.9h-0.9zM294.4,394.0h1.0v1.0h-1.0zM295.0,395.3h1.1v1.1h-1.1zM294.0,399.4h1.1v1.1h-1.1zM293.6,400.7h1.0v1.0h-1.0zM288.4,387.2h1.3v1.3h-1.3zM293.5,386.2h1.1v1.1h-1.1zM282.8,379.8h1.0v1.0h-1.0zM284.6,379.9h1.2v1.2h-1.2zM284.5,380.5h1.2v1.2h-1.2zM285.0,382.5h1.0v1.0h-1.0zM287.4,405.6h0.9v0.9h-0.9zM160.2,401.6h1.0v1.0h-1.0zM164.2,406.4h1.2v1.2h-1.2zM156.1,397.7h1.4v1.4h-1.4zM155.2,398.1h1.3v1.3h-1.3zM206.8,421.9h1.3v1.3h-1.3zM208.3,422.1h1.0v1.0h-1.0zM206.0,418.6h1.0v1.0h-1.0zM205.3,415.8h1.2v1.2h-1.2zM213.6,414.9h1.2v1.2h-1.2zM216.8,417.6h1.2v1.2h-1.2zM211.4,412.3h1.2v1.2h-1.2zM212.5,408.3h1.4v1.4h-1.4zM213.4,407.4h1.2v1.2h-1.2zM220.4,408.4h1.1v1.1h-1.1zM208.8,422.9h1.2v1.2h-1.2zM209.2,422.7h1.1v1.1h-1.1zM210.3,424.0h1.1v1.1h-1.1zM212.9,430.2h1.0v1.0h-1.0zM212.8,430.8h1.2v1.2h-1.2zM211.7,431.0h0.9v0.9h-0.9zM206.0,428.2h1.3v1.3h-1.3zM205.3,425.7h1.1v1.1h-1.1zM205.6,431.2h0.9v0.9h-0.9zM209.3,443.0h1.1v1.1h-1.1zM209.2,444.2h1.1v1.1h-1.1z" fill="#64b6cf" opacity="0.88"/><path d="M111.1,440.7h1.2v1.2h-1.2zM111.6,441.8h1.3v1.3h-1.3zM109.4,443.4h1.4v1.4h-1.4zM111.6,443.3h1.0v1.0h-1.0zM112.0,451.8h1.2v1.2h-1.2zM106.5,435.9h1.3v1.3h-1.3zM106.0,436.6h1.4v1.4h-1.4zM104.3,436.9h1.4v1.4h-1.4zM102.5,435.9h1.3v1.3h-1.3zM102.6,437.1h1.2v1.2h-1.2zM199.4,352.3h1.6v1.6h-1.6zM205.0,345.0h1.1v1.1h-1.1zM200.4,352.5h1.5v1.5h-1.5zM196.6,349.5h1.2v1.2h-1.2zM200.5,349.6h1.1v1.1h-1.1zM197.0,356.1h1.1v1.1h-1.1zM217.0,357.7h1.0v1.0h-1.0zM217.8,358.8h1.4v1.4h-1.4zM261.4,372.8h1.2v1.2h-1.2zM262.2,374.3h1.2v1.2h-1.2zM261.5,373.9h1.6v1.6h-1.6zM268.3,379.3h1.3v1.3h-1.3zM269.4,379.2h1.7v1.7h-1.7zM272.5,380.0h1.2v1.2h-1.2zM263.4,379.9h1.7v1.7h-1.7zM264.8,379.7h1.2v1.2h-1.2zM265.5,380.3h1.7v1.7h-1.7zM265.8,380.1h1.4v1.4h-1.4zM266.8,381.2h1.1v1.1h-1.1zM268.4,381.5h1.3v1.3h-1.3zM269.7,381.3h1.6v1.6h-1.6zM269.7,381.5h1.6v1.6h-1.6zM270.6,382.1h1.5v1.5h-1.5zM271.9,382.4h1.7v1.7h-1.7zM273.3,379.8h1.5v1.5h-1.5zM280.0,383.4h1.4v1.4h-1.4zM278.1,384.9h1.6v1.6h-1.6zM277.8,385.2h1.6v1.6h-1.6zM278.1,386.1h1.6v1.6h-1.6zM277.5,388.0h1.2v1.2h-1.2zM275.9,385.5h1.6v1.6h-1.6zM277.9,384.6h1.0v1.0h-1.0zM282.8,389.6h1.1v1.1h-1.1zM284.0,396.8h1.3v1.3h-1.3zM285.1,397.5h1.1v1.1h-1.1zM285.8,397.5h1.1v1.1h-1.1zM286.6,389.1h1.3v1.3h-1.3zM287.7,390.8h1.3v1.3h-1.3zM286.2,392.4h1.2v1.2h-1.2zM289.2,391.8h1.1v1.1h-1.1zM289.1,391.5h1.4v1.4h-1.4zM289.8,398.1h0.9v0.9h-0.9zM288.7,388.1h1.2v1.2h-1.2zM288.7,389.2h1.0v1.0h-1.0zM293.9,396.8h1.2v1.2h-1.2zM295.1,397.5h1.2v1.2h-1.2zM293.5,395.6h1.2v1.2h-1.2zM293.1,396.5h1.3v1.3h-1.3zM293.9,386.5h0.9v0.9h-0.9zM293.9,387.6h1.1v1.1h-1.1zM283.7,385.5h1.2v1.2h-1.2zM284.0,386.2h1.1v1.1h-1.1zM284.3,385.7h1.2v1.2h-1.2zM284.3,386.2h1.3v1.3h-1.3zM285.1,387.7h1.3v1.3h-1.3zM286.4,387.9h1.0v1.0h-1.0zM157.4,398.6h1.1v1.1h-1.1zM156.4,398.5h1.2v1.2h-1.2zM157.6,396.3h1.5v1.5h-1.5zM161.4,398.0h1.1v1.1h-1.1zM162.7,398.8h1.5v1.5h-1.5zM164.7,400.5h1.2v1.2h-1.2zM167.1,401.4h1.1v1.1h-1.1zM169.7,400.5h1.3v1.3h-1.3zM173.9,396.0h1.6v1.6h-1.6zM173.4,396.6h1.1v1.1h-1.1zM175.8,404.4h1.2v1.2h-1.2zM169.6,400.0h1.5v1.5h-1.5zM161.5,402.0h1.3v1.3h-1.3zM160.6,403.2h1.0v1.0h-1.0zM162.1,403.1h1.2v1.2h-1.2zM162.8,403.4h1.2v1.2h-1.2zM164.4,400.9h1.2v1.2h-1.2zM164.4,402.5h1.3v1.3h-1.3zM160.2,398.0h1.1v1.1h-1.1zM157.9,398.7h1.1v1.1h-1.1zM157.3,398.4h1.4v1.4h-1.4zM208.4,408.9h1.1v1.1h-1.1zM208.1,414.8h1.2v1.2h-1.2zM206.7,414.7h1.1v1.1h-1.1zM206.3,417.6h1.4v1.4h-1.4zM208.6,414.6h1.2v1.2h-1.2zM209.8,413.7h0.9v0.9h-0.9zM210.5,413.2h1.4v1.4h-1.4zM211.6,414.0h1.2v1.2h-1.2zM214.3,407.3h1.1v1.1h-1.1zM210.6,425.9h1.2v1.2h-1.2zM211.3,427.4h0.9v0.9h-0.9zM211.0,427.6h1.1v1.1h-1.1zM209.9,427.9h1.3v1.3h-1.3zM209.1,429.9h1.2v1.2h-1.2zM208.1,429.6h1.1v1.1h-1.1zM213.2,432.0h1.2v1.2h-1.2zM212.5,425.9h1.0v1.0h-1.0zM216.7,426.6h0.9v0.9h-0.9zM218.8,424.8h1.3v1.3h-1.3zM200.7,426.3h1.2v1.2h-1.2zM203.5,426.8h1.4v1.4h-1.4zM204.2,428.0h1.2v1.2h-1.2zM206.8,427.3h1.1v1.1h-1.1zM203.7,433.8h1.0v1.0h-1.0zM204.0,433.4h1.4v1.4h-1.4zM206.9,432.2h1.1v1.1h-1.1zM206.9,431.9h1.0v1.0h-1.0zM208.8,432.2h1.1v1.1h-1.1zM210.2,431.8h1.0v1.0h-1.0zM210.6,433.1h1.0v1.0h-1.0zM210.4,434.7h1.0v1.0h-1.0zM209.7,435.2h0.9v0.9h-0.9zM211.0,436.4h0.9v0.9h-0.9zM208.5,439.8h1.3v1.3h-1.3zM203.6,437.2h1.2v1.2h-1.2zM203.0,435.5h1.4v1.4h-1.4zM198.3,422.2h1.0v1.0h-1.0zM198.2,425.5h1.0v1.0h-1.0zM189.9,433.2h0.9v0.9h-0.9zM191.5,433.4h1.0v1.0h-1.0zM198.5,442.6h0.9v0.9h-0.9zM220.1,411.9h1.0v1.0h-1.0z" fill="#4a68b0" opacity="0.88"/><path d="M276.8,384.4h1.4v1.4h-1.4zM276.7,384.5h1.0v1.0h-1.0zM276.7,384.4h1.1v1.1h-1.1zM275.3,383.6h1.2v1.2h-1.2zM273.1,382.3h0.9v0.9h-0.9zM272.1,384.3h1.2v1.2h-1.2zM272.6,385.7h1.0v1.0h-1.0zM163.5,404.7h1.2v1.2h-1.2z" fill="#a0d0e0" opacity="0.88"/></g></g>
<text x="366.3" y="318.4" font-size="12" class="serif">(ii)</text>
<rect x="367.90" y="408.30" width="13.37" height="13.70" fill="#d94fb5"/>
<rect x="381.17" y="408.30" width="13.37" height="13.70" fill="#8035a0"/>
<rect x="394.44" y="408.30" width="13.37" height="13.70" fill="#2d1a8e"/>
<rect x="367.90" y="421.90" width="13.37" height="13.70" fill="#df9dd3"/>
<rect x="381.17" y="421.90" width="13.37" height="13.70" fill="#8f7dc0"/>
<rect x="394.44" y="421.90" width="13.37" height="13.70" fill="#4a68b0"/>
<rect x="367.90" y="435.50" width="13.37" height="13.70" fill="#e8e4f3"/>
<rect x="381.17" y="435.50" width="13.37" height="13.70" fill="#a0d0e0"/>
<rect x="394.44" y="435.50" width="13.37" height="13.70" fill="#64b6cf"/>
<text transform="translate(364.90,414.60) rotate(-90)" font-size="7.4" text-anchor="middle">High</text>
<text transform="translate(364.90,442.60) rotate(-90)" font-size="7.4" text-anchor="middle">Low</text>
<text x="367.70" y="457.60" font-size="7.4">Low</text>
<text x="409.20" y="457.60" font-size="7.4" text-anchor="end">High</text>
<text x="387.30" y="468.80" font-size="7.4" class="b" text-anchor="middle">NPP Trend</text>
<text transform="translate(354.20,429.30) rotate(-90)" font-size="7.40" class="b" text-anchor="middle">Birds</text>
<g transform="translate(0.0,180.0)"><g clip-path="url(#mc)"><use href="#base"/><path d="M47.6,356.0h1.2v1.2h-1.2zM48.3,355.7h1.3v1.3h-1.3zM49.2,355.5h1.5v1.5h-1.5zM50.1,355.6h1.1v1.1h-1.1zM50.9,355.8h1.4v1.4h-1.4zM51.8,355.7h1.3v1.3h-1.3zM52.6,355.6h1.7v1.7h-1.7zM53.6,355.7h1.3v1.3h-1.3zM54.0,355.7h1.5v1.5h-1.5zM55.0,355.6h1.5v1.5h-1.5zM55.7,355.7h1.5v1.5h-1.5zM57.0,355.7h1.2v1.2h-1.2zM57.9,355.8h1.4v1.4h-1.4zM58.7,355.7h1.2v1.2h-1.2zM39.1,356.0h0.8v0.8h-0.8zM45.4,356.2h0.9v0.9h-0.9zM46.6,355.8h0.8v0.8h-0.8zM77.5,358.5h1.2v1.2h-1.2zM85.8,361.3h1.2v1.2h-1.2zM45.8,375.6h0.9v0.9h-0.9zM50.6,376.6h1.0v1.0h-1.0zM61.5,381.0h1.1v1.1h-1.1zM166.2,364.9h0.9v0.9h-0.9zM165.4,365.2h1.1v1.1h-1.1zM164.5,368.6h1.2v1.2h-1.2zM165.2,369.1h0.9v0.9h-0.9zM171.6,362.0h1.2v1.2h-1.2zM172.3,363.3h0.9v0.9h-0.9zM172.8,363.3h1.0v1.0h-1.0zM176.2,363.1h1.0v1.0h-1.0zM176.0,364.1h1.2v1.2h-1.2zM181.1,361.3h1.2v1.2h-1.2zM180.8,359.2h1.1v1.1h-1.1zM180.8,358.6h1.1v1.1h-1.1zM181.3,355.4h1.0v1.0h-1.0zM179.9,356.1h0.9v0.9h-0.9zM178.9,355.5h0.9v0.9h-0.9zM179.8,352.6h0.9v0.9h-0.9zM180.8,352.0h0.9v0.9h-0.9zM184.0,349.1h1.1v1.1h-1.1zM189.1,354.5h1.0v1.0h-1.0zM188.5,353.1h1.1v1.1h-1.1zM187.2,354.5h1.0v1.0h-1.0zM186.3,358.0h0.8v0.8h-0.8zM184.3,358.2h1.2v1.2h-1.2zM186.7,358.3h1.1v1.1h-1.1zM192.7,356.8h0.9v0.9h-0.9zM164.7,367.4h1.0v1.0h-1.0zM165.8,367.9h1.2v1.2h-1.2zM209.6,352.7h0.9v0.9h-0.9zM210.0,352.3h1.2v1.2h-1.2zM210.8,352.2h0.9v0.9h-0.9zM211.6,352.5h1.2v1.2h-1.2zM213.0,354.2h1.1v1.1h-1.1zM216.7,355.5h1.0v1.0h-1.0zM217.0,357.5h1.2v1.2h-1.2zM206.0,347.3h1.0v1.0h-1.0zM209.4,350.5h1.0v1.0h-1.0zM226.6,360.9h0.8v0.8h-0.8zM225.9,356.2h1.0v1.0h-1.0zM225.8,354.9h1.2v1.2h-1.2zM231.5,352.9h1.2v1.2h-1.2zM235.1,353.2h1.1v1.1h-1.1zM241.3,352.3h1.1v1.1h-1.1zM241.4,352.3h1.0v1.0h-1.0zM242.1,350.0h1.0v1.0h-1.0zM243.3,349.4h1.0v1.0h-1.0zM246.7,349.0h0.9v0.9h-0.9zM248.3,349.4h1.0v1.0h-1.0zM248.5,348.6h1.0v1.0h-1.0zM249.5,349.1h1.0v1.0h-1.0zM252.5,348.8h1.0v1.0h-1.0zM254.8,350.2h1.1v1.1h-1.1zM257.4,350.1h0.8v0.8h-0.8zM259.5,350.3h1.0v1.0h-1.0zM260.7,350.8h1.1v1.1h-1.1zM261.2,351.8h0.9v0.9h-0.9zM262.6,352.6h0.8v0.8h-0.8zM267.5,353.7h1.2v1.2h-1.2zM317.9,355.0h1.1v1.1h-1.1zM226.4,368.1h0.9v0.9h-0.9zM220.4,364.3h1.1v1.1h-1.1zM218.5,362.8h1.1v1.1h-1.1zM220.1,362.4h1.2v1.2h-1.2zM220.1,362.3h1.1v1.1h-1.1zM224.6,364.1h1.1v1.1h-1.1zM212.6,373.9h1.2v1.2h-1.2zM216.2,375.2h0.8v0.8h-0.8zM257.2,369.7h0.8v0.8h-0.8zM252.4,366.7h1.1v1.1h-1.1zM263.7,364.2h0.8v0.8h-0.8zM260.5,364.8h1.0v1.0h-1.0zM244.6,362.1h0.9v0.9h-0.9zM268.4,358.6h1.0v1.0h-1.0zM260.9,371.8h1.0v1.0h-1.0zM261.6,373.3h1.2v1.2h-1.2zM279.7,379.0h1.2v1.2h-1.2zM281.0,382.5h1.1v1.1h-1.1zM276.6,384.6h1.2v1.2h-1.2zM272.7,386.0h1.2v1.2h-1.2zM274.0,386.4h1.1v1.1h-1.1zM255.9,378.7h1.0v1.0h-1.0zM257.3,372.4h1.0v1.0h-1.0zM258.0,371.7h1.1v1.1h-1.1zM189.5,400.4h0.9v0.9h-0.9zM198.9,396.6h0.9v0.9h-0.9zM212.5,400.1h1.0v1.0h-1.0zM211.3,401.6h1.1v1.1h-1.1zM190.5,404.2h1.1v1.1h-1.1z" fill="#d94fb5" opacity="0.88"/><path d="M41.9,355.8h1.0v1.0h-1.0zM44.0,356.2h0.8v0.8h-0.8zM79.7,360.9h1.0v1.0h-1.0zM80.4,362.6h1.1v1.1h-1.1zM80.1,363.3h1.1v1.1h-1.1zM79.4,364.3h1.2v1.2h-1.2zM83.5,363.0h1.0v1.0h-1.0zM89.8,360.4h0.9v0.9h-0.9zM91.1,360.9h1.2v1.2h-1.2zM180.0,352.7h1.1v1.1h-1.1zM180.6,354.0h1.2v1.2h-1.2zM189.1,350.9h0.8v0.8h-0.8zM183.0,359.0h1.2v1.2h-1.2zM190.2,354.5h1.0v1.0h-1.0zM191.4,354.4h1.0v1.0h-1.0zM164.5,365.0h1.0v1.0h-1.0zM165.2,365.4h1.0v1.0h-1.0zM165.3,366.3h0.8v0.8h-0.8zM172.4,362.1h1.1v1.1h-1.1zM238.3,353.5h1.0v1.0h-1.0zM242.1,354.3h1.0v1.0h-1.0zM264.5,353.7h0.9v0.9h-0.9zM307.9,355.1h1.0v1.0h-1.0zM308.3,352.6h1.1v1.1h-1.1zM321.3,357.2h0.8v0.8h-0.8zM320.7,363.4h1.0v1.0h-1.0zM318.6,363.7h1.2v1.2h-1.2zM274.2,355.5h0.8v0.8h-0.8zM281.9,354.1h1.0v1.0h-1.0zM284.4,352.8h1.1v1.1h-1.1zM300.1,355.3h0.9v0.9h-0.9zM302.6,354.9h1.1v1.1h-1.1zM224.6,372.9h1.0v1.0h-1.0zM224.7,371.6h0.9v0.9h-0.9zM228.1,367.8h1.2v1.2h-1.2zM222.0,366.0h1.0v1.0h-1.0zM213.7,376.6h0.9v0.9h-0.9zM213.1,376.0h0.9v0.9h-0.9zM252.1,369.1h1.0v1.0h-1.0zM250.8,366.8h0.9v0.9h-0.9zM264.3,377.3h1.1v1.1h-1.1zM271.0,380.0h1.1v1.1h-1.1zM272.5,380.0h0.8v0.8h-0.8zM268.7,381.5h1.2v1.2h-1.2zM270.7,381.9h1.0v1.0h-1.0zM279.2,384.6h1.2v1.2h-1.2zM278.6,385.1h1.1v1.1h-1.1zM276.6,383.7h1.2v1.2h-1.2zM276.7,384.0h1.0v1.0h-1.0zM272.8,382.9h1.1v1.1h-1.1zM272.3,384.6h0.9v0.9h-0.9zM189.6,399.6h1.0v1.0h-1.0zM190.0,400.7h1.1v1.1h-1.1zM198.1,398.4h0.8v0.8h-0.8zM211.0,399.1h1.1v1.1h-1.1zM210.8,403.7h1.2v1.2h-1.2zM215.6,392.3h1.2v1.2h-1.2zM216.2,392.1h1.1v1.1h-1.1zM219.2,396.9h1.1v1.1h-1.1zM218.9,396.0h1.0v1.0h-1.0zM217.8,395.9h0.9v0.9h-0.9zM214.7,396.5h1.1v1.1h-1.1z" fill="#df9dd3" opacity="0.88"/><path d="M79.7,359.7h1.1v1.1h-1.1zM87.6,361.4h0.9v0.9h-0.9zM93.7,359.8h1.0v1.0h-1.0zM95.8,357.9h0.9v0.9h-0.9zM72.0,392.5h1.0v1.0h-1.0zM110.0,439.0h0.9v0.9h-0.9zM164.9,364.3h1.0v1.0h-1.0zM165.8,364.0h1.2v1.2h-1.2zM176.5,354.0h0.8v0.8h-0.8zM180.0,354.0h1.0v1.0h-1.0zM190.5,353.6h1.2v1.2h-1.2zM182.9,357.1h1.0v1.0h-1.0zM181.7,358.0h0.9v0.9h-0.9zM184.4,359.4h0.8v0.8h-0.8zM188.0,358.2h0.9v0.9h-0.9zM187.9,358.8h1.0v1.0h-1.0zM188.5,358.1h0.9v0.9h-0.9zM190.8,357.7h1.1v1.1h-1.1zM192.5,355.3h0.9v0.9h-0.9zM193.5,354.8h1.0v1.0h-1.0zM163.0,364.4h1.1v1.1h-1.1zM164.8,364.0h0.8v0.8h-0.8zM176.3,363.9h1.0v1.0h-1.0zM175.6,363.3h1.0v1.0h-1.0zM196.9,364.7h1.1v1.1h-1.1zM205.5,347.4h1.1v1.1h-1.1zM207.4,348.1h1.3v1.3h-1.3zM208.4,347.4h1.0v1.0h-1.0zM200.7,353.3h1.2v1.2h-1.2zM202.0,353.0h1.1v1.1h-1.1zM203.0,352.8h1.3v1.3h-1.3zM199.4,364.4h1.3v1.3h-1.3zM203.4,364.4h1.2v1.2h-1.2zM190.7,360.5h1.0v1.0h-1.0zM191.6,359.9h1.1v1.1h-1.1zM193.6,363.0h1.3v1.3h-1.3zM204.6,344.8h1.2v1.2h-1.2zM194.2,359.4h1.2v1.2h-1.2zM191.1,358.6h0.9v0.9h-0.9zM202.8,348.8h1.1v1.1h-1.1zM196.1,349.1h1.2v1.2h-1.2zM197.6,349.5h1.1v1.1h-1.1zM196.4,356.1h0.9v0.9h-0.9zM197.2,358.2h1.3v1.3h-1.3zM196.4,359.3h0.8v0.8h-0.8zM195.9,360.2h1.0v1.0h-1.0zM197.4,361.7h1.2v1.2h-1.2zM196.9,355.9h0.9v0.9h-0.9zM198.1,357.2h1.1v1.1h-1.1zM205.5,356.8h1.2v1.2h-1.2zM205.2,358.4h0.9v0.9h-0.9zM206.9,357.4h1.1v1.1h-1.1zM205.6,359.8h0.9v0.9h-0.9zM206.5,359.8h0.9v0.9h-0.9zM210.0,352.5h1.1v1.1h-1.1zM211.2,352.7h1.1v1.1h-1.1zM214.9,355.3h1.3v1.3h-1.3zM217.3,355.0h1.0v1.0h-1.0zM217.6,354.6h1.0v1.0h-1.0zM217.7,354.9h1.2v1.2h-1.2zM217.9,356.8h1.2v1.2h-1.2zM216.1,354.9h1.2v1.2h-1.2zM209.3,350.9h0.9v0.9h-0.9zM324.5,359.5h1.0v1.0h-1.0zM314.5,365.7h1.0v1.0h-1.0zM220.1,369.6h1.0v1.0h-1.0zM220.8,370.3h1.0v1.0h-1.0zM225.1,373.9h1.2v1.2h-1.2zM224.2,369.6h0.8v0.8h-0.8zM225.5,364.5h1.0v1.0h-1.0zM213.9,373.2h1.0v1.0h-1.0zM214.8,372.9h0.9v0.9h-0.9zM264.7,378.5h1.0v1.0h-1.0zM263.9,377.9h1.1v1.1h-1.1zM273.6,381.5h1.0v1.0h-1.0zM282.6,378.7h1.0v1.0h-1.0zM278.2,387.8h0.9v0.9h-0.9zM277.4,385.8h0.9v0.9h-0.9zM273.0,382.5h1.1v1.1h-1.1zM287.8,387.7h1.1v1.1h-1.1zM291.7,394.3h1.3v1.3h-1.3zM285.3,387.1h1.1v1.1h-1.1zM190.1,399.5h1.2v1.2h-1.2zM190.2,401.7h1.1v1.1h-1.1zM189.5,400.8h1.4v1.4h-1.4zM189.0,403.0h1.0v1.0h-1.0zM191.0,403.5h1.5v1.5h-1.5zM187.1,402.1h1.1v1.1h-1.1zM187.5,401.6h1.2v1.2h-1.2zM188.1,398.0h1.0v1.0h-1.0zM191.8,404.4h1.2v1.2h-1.2zM194.2,403.4h1.0v1.0h-1.0zM209.5,400.4h0.9v0.9h-0.9zM214.6,393.2h1.2v1.2h-1.2z" fill="#8035a0" opacity="0.88"/><path d="M69.3,396.0h1.1v1.1h-1.1zM70.5,394.6h1.0v1.0h-1.0zM70.6,394.0h1.0v1.0h-1.0zM72.3,393.9h1.1v1.1h-1.1zM86.4,415.3h0.9v0.9h-0.9zM208.1,349.2h1.1v1.1h-1.1zM208.5,349.0h1.2v1.2h-1.2zM204.3,352.8h0.9v0.9h-0.9zM203.4,346.7h0.9v0.9h-0.9zM201.8,348.8h1.2v1.2h-1.2zM203.3,356.6h1.1v1.1h-1.1zM204.7,358.2h1.2v1.2h-1.2zM202.3,361.3h1.2v1.2h-1.2zM202.8,360.7h1.2v1.2h-1.2zM204.8,361.9h0.9v0.9h-0.9zM198.7,362.9h0.8v0.8h-0.8zM211.0,353.2h1.2v1.2h-1.2zM211.7,352.3h0.9v0.9h-0.9zM213.0,353.2h1.0v1.0h-1.0zM218.7,357.4h0.9v0.9h-0.9zM257.4,365.8h0.9v0.9h-0.9zM256.6,367.2h0.8v0.8h-0.8zM237.6,360.2h1.2v1.2h-1.2zM240.0,360.3h1.1v1.1h-1.1zM240.9,360.7h1.0v1.0h-1.0zM250.8,364.5h1.0v1.0h-1.0zM262.5,363.7h1.2v1.2h-1.2zM283.0,391.2h0.9v0.9h-0.9zM283.8,396.2h1.1v1.1h-1.1zM285.2,398.3h0.9v0.9h-0.9zM286.9,390.2h1.1v1.1h-1.1zM289.7,391.8h1.0v1.0h-1.0zM291.9,394.5h1.1v1.1h-1.1zM289.9,387.4h1.1v1.1h-1.1zM167.0,401.2h1.1v1.1h-1.1zM170.9,400.0h1.2v1.2h-1.2zM169.6,403.1h1.1v1.1h-1.1zM207.5,419.8h1.2v1.2h-1.2zM213.2,414.4h0.9v0.9h-0.9zM212.3,426.5h1.1v1.1h-1.1zM218.1,425.9h1.2v1.2h-1.2zM206.7,428.3h0.9v0.9h-0.9zM205.7,424.0h1.0v1.0h-1.0zM210.4,434.3h0.9v0.9h-0.9z" fill="#8f7dc0" opacity="0.88"/><path d="M195.8,363.9h1.3v1.3h-1.3zM200.4,364.8h1.0v1.0h-1.0zM202.0,364.7h1.1v1.1h-1.1zM203.6,345.8h1.1v1.1h-1.1zM193.4,359.1h0.9v0.9h-0.9zM192.2,359.0h1.3v1.3h-1.3zM204.6,359.0h1.0v1.0h-1.0zM199.8,350.2h1.2v1.2h-1.2zM200.1,349.9h1.2v1.2h-1.2zM194.1,354.6h1.2v1.2h-1.2zM198.1,355.9h1.3v1.3h-1.3zM197.2,360.4h1.1v1.1h-1.1zM198.2,360.9h1.0v1.0h-1.0zM201.1,357.8h0.9v0.9h-0.9zM205.0,358.8h0.9v0.9h-0.9zM217.2,358.3h0.9v0.9h-0.9zM287.7,391.9h1.1v1.1h-1.1zM290.8,392.4h1.3v1.3h-1.3zM294.9,397.0h0.9v0.9h-0.9zM293.8,398.5h0.9v0.9h-0.9zM294.2,399.2h0.9v0.9h-0.9zM292.4,400.0h1.1v1.1h-1.1zM292.9,385.4h1.0v1.0h-1.0zM293.9,386.5h1.3v1.3h-1.3zM283.7,383.9h1.0v1.0h-1.0zM171.7,395.9h1.1v1.1h-1.1zM177.7,397.4h1.0v1.0h-1.0zM173.8,406.0h1.0v1.0h-1.0zM174.9,403.6h1.2v1.2h-1.2zM211.4,413.6h1.1v1.1h-1.1zM205.0,425.9h1.2v1.2h-1.2zM207.9,423.0h1.1v1.1h-1.1zM205.7,438.6h1.2v1.2h-1.2z" fill="#4a68b0" opacity="0.88"/><path d="M204.3,353.6h1.0v1.0h-1.0zM205.9,352.4h1.1v1.1h-1.1zM207.8,352.4h1.0v1.0h-1.0zM202.7,363.8h1.1v1.1h-1.1zM201.3,344.8h1.0v1.0h-1.0zM203.6,347.5h1.1v1.1h-1.1zM203.6,345.8h1.1v1.1h-1.1zM196.9,348.2h0.9v0.9h-0.9zM198.2,348.2h0.9v0.9h-0.9zM200.2,348.0h1.3v1.3h-1.3zM199.5,348.1h1.2v1.2h-1.2zM198.5,355.2h0.9v0.9h-0.9zM200.3,361.1h1.1v1.1h-1.1zM202.3,361.3h0.9v0.9h-0.9zM193.2,357.7h1.0v1.0h-1.0zM199.2,356.3h0.8v0.8h-0.8zM200.8,358.0h1.2v1.2h-1.2zM213.8,354.5h0.9v0.9h-0.9zM214.6,355.2h1.0v1.0h-1.0zM285.8,388.9h0.9v0.9h-0.9zM292.9,393.6h0.9v0.9h-0.9zM294.1,395.7h0.9v0.9h-0.9zM291.2,386.1h0.9v0.9h-0.9zM283.1,380.7h1.0v1.0h-1.0zM284.8,380.5h0.9v0.9h-0.9zM189.8,400.9h1.4v1.4h-1.4zM189.5,399.1h1.0v1.0h-1.0z" fill="#2d1a8e" opacity="0.88"/><path d="M264.4,379.4h1.2v1.2h-1.2zM265.7,380.1h0.8v0.8h-0.8zM266.5,381.0h1.0v1.0h-1.0zM272.6,380.5h1.2v1.2h-1.2zM275.1,381.8h1.0v1.0h-1.0zM282.5,380.2h1.2v1.2h-1.2zM282.1,381.5h1.0v1.0h-1.0zM280.7,381.1h0.9v0.9h-0.9zM274.4,383.5h0.8v0.8h-0.8z" fill="#c63fc0" opacity="0.88"/><path d="M156.5,397.9h1.0v1.0h-1.0zM154.5,398.0h1.2v1.2h-1.2zM169.3,398.6h0.9v0.9h-0.9zM170.8,396.8h1.2v1.2h-1.2z" fill="#a0d0e0" opacity="0.88"/><path d="M208.2,411.5h0.9v0.9h-0.9zM211.8,413.9h0.9v0.9h-0.9zM204.6,427.2h0.8v0.8h-0.8zM204.1,433.2h1.2v1.2h-1.2z" fill="#64b6cf" opacity="0.88"/></g></g>
<text x="24.3" y="494.6" font-size="12" class="serif">(iii)</text>
<rect x="21.20" y="593.90" width="13.37" height="13.70" fill="#d94fb5"/>
<rect x="34.47" y="593.90" width="13.37" height="13.70" fill="#8035a0"/>
<rect x="47.74" y="593.90" width="13.37" height="13.70" fill="#2d1a8e"/>
<rect x="21.20" y="607.50" width="13.37" height="13.70" fill="#df9dd3"/>
<rect x="34.47" y="607.50" width="13.37" height="13.70" fill="#8f7dc0"/>
<rect x="47.74" y="607.50" width="13.37" height="13.70" fill="#4a68b0"/>
<rect x="21.20" y="621.10" width="13.37" height="13.70" fill="#e8e4f3"/>
<rect x="34.47" y="621.10" width="13.37" height="13.70" fill="#a0d0e0"/>
<rect x="47.74" y="621.10" width="13.37" height="13.70" fill="#64b6cf"/>
<text transform="translate(18.20,600.20) rotate(-90)" font-size="7.4" text-anchor="middle">High</text>
<text transform="translate(18.20,628.20) rotate(-90)" font-size="7.4" text-anchor="middle">Low</text>
<text x="21.00" y="643.20" font-size="7.4">Low</text>
<text x="62.50" y="643.20" font-size="7.4" text-anchor="end">High</text>
<text x="40.60" y="654.40" font-size="7.4" class="b" text-anchor="middle">NPP Trend</text>
<text transform="translate(7.20,616.00) rotate(-90)" font-size="7.00" class="b" text-anchor="middle">Mammals</text>
<g transform="translate(347.3,179.0)"><g clip-path="url(#mc)"><use href="#base"/><path d="M45.9,355.6h1.5v1.5h-1.5zM46.9,355.7h1.2v1.2h-1.2zM47.6,355.7h1.2v1.2h-1.2zM47.9,355.6h1.5v1.5h-1.5zM49.0,355.7h1.2v1.2h-1.2zM49.9,355.9h1.2v1.2h-1.2zM50.9,355.6h1.4v1.4h-1.4zM51.9,355.6h1.3v1.3h-1.3zM52.7,356.0h1.3v1.3h-1.3zM53.3,355.8h1.3v1.3h-1.3zM54.2,355.8h1.1v1.1h-1.1zM55.2,355.8h1.4v1.4h-1.4zM55.8,355.8h1.4v1.4h-1.4zM56.9,355.6h1.3v1.3h-1.3zM242.1,350.6h1.0v1.0h-1.0zM248.5,349.5h0.9v0.9h-0.9zM249.8,349.0h1.2v1.2h-1.2zM315.7,365.0h1.0v1.0h-1.0zM189.3,401.1h1.4v1.4h-1.4zM188.2,402.6h1.3v1.3h-1.3zM188.5,401.9h1.2v1.2h-1.2zM189.1,400.6h1.4v1.4h-1.4z" fill="#2d1a8e" opacity="0.88"/><path d="M57.6,355.7h1.2v1.2h-1.2zM58.2,355.4h1.6v1.6h-1.6zM91.4,360.5h1.0v1.0h-1.0zM97.1,358.9h1.1v1.1h-1.1zM181.1,358.8h1.1v1.1h-1.1zM180.0,355.5h1.1v1.1h-1.1zM179.0,355.5h1.2v1.2h-1.2zM178.0,355.3h1.0v1.0h-1.0zM189.2,357.2h1.2v1.2h-1.2zM188.4,357.0h1.2v1.2h-1.2zM182.4,358.7h0.9v0.9h-0.9zM181.6,359.2h0.9v0.9h-0.9zM185.9,358.0h1.0v1.0h-1.0zM193.2,354.2h0.9v0.9h-0.9zM193.5,354.7h1.1v1.1h-1.1zM206.6,354.0h0.9v0.9h-0.9zM207.8,353.3h1.2v1.2h-1.2zM198.5,364.8h1.0v1.0h-1.0zM202.3,364.1h0.9v0.9h-0.9zM192.9,360.3h1.3v1.3h-1.3zM198.4,365.0h1.3v1.3h-1.3zM202.9,364.8h0.9v0.9h-0.9zM200.0,346.5h1.2v1.2h-1.2zM199.6,347.6h1.2v1.2h-1.2zM202.0,346.6h1.1v1.1h-1.1zM203.7,358.5h1.0v1.0h-1.0zM197.5,349.1h1.0v1.0h-1.0zM197.8,354.8h1.1v1.1h-1.1zM199.6,354.6h0.9v0.9h-0.9zM201.9,362.9h1.0v1.0h-1.0zM203.7,362.0h1.0v1.0h-1.0zM198.4,356.8h0.8v0.8h-0.8zM196.2,359.3h1.3v1.3h-1.3zM196.5,360.2h1.1v1.1h-1.1zM197.7,357.6h1.1v1.1h-1.1zM200.2,357.8h1.0v1.0h-1.0zM201.4,357.7h1.2v1.2h-1.2zM203.5,356.4h1.1v1.1h-1.1zM204.6,356.4h1.0v1.0h-1.0zM205.9,359.4h1.1v1.1h-1.1zM205.9,359.4h1.1v1.1h-1.1zM206.2,360.7h1.2v1.2h-1.2zM213.1,354.7h1.0v1.0h-1.0zM215.1,355.6h1.1v1.1h-1.1zM217.6,356.3h1.1v1.1h-1.1zM216.4,358.6h1.1v1.1h-1.1zM211.4,351.8h1.2v1.2h-1.2zM214.3,354.6h1.0v1.0h-1.0zM218.2,356.4h0.8v0.8h-0.8zM205.2,347.5h1.1v1.1h-1.1zM206.3,347.7h1.1v1.1h-1.1zM187.3,343.4h0.9v0.9h-0.9zM196.3,332.4h0.9v0.9h-0.9zM206.6,335.3h1.1v1.1h-1.1zM208.3,339.7h0.9v0.9h-0.9zM207.9,340.0h1.0v1.0h-1.0zM206.4,340.6h1.1v1.1h-1.1zM240.0,353.6h1.1v1.1h-1.1zM254.9,349.6h1.0v1.0h-1.0zM260.8,350.3h1.2v1.2h-1.2zM261.5,351.3h0.9v0.9h-0.9zM265.5,354.0h1.2v1.2h-1.2zM268.7,354.2h0.8v0.8h-0.8zM269.6,355.0h1.2v1.2h-1.2zM306.9,354.3h0.9v0.9h-0.9zM308.6,352.6h1.1v1.1h-1.1zM310.8,351.1h1.1v1.1h-1.1zM313.4,350.3h1.2v1.2h-1.2zM314.0,351.3h1.1v1.1h-1.1zM318.2,354.6h0.9v0.9h-0.9zM322.8,356.6h1.1v1.1h-1.1zM322.9,361.4h1.0v1.0h-1.0zM321.3,362.3h0.9v0.9h-0.9zM319.6,363.3h1.1v1.1h-1.1zM218.5,373.1h0.9v0.9h-0.9zM218.5,372.9h0.9v0.9h-0.9zM225.0,373.2h1.2v1.2h-1.2zM225.0,364.0h1.0v1.0h-1.0zM223.2,365.2h1.0v1.0h-1.0zM213.8,373.0h1.1v1.1h-1.1zM263.5,364.0h0.9v0.9h-0.9zM236.4,359.9h1.2v1.2h-1.2zM254.2,363.0h1.1v1.1h-1.1zM260.6,363.3h1.2v1.2h-1.2zM263.2,362.0h1.0v1.0h-1.0zM274.2,381.1h1.0v1.0h-1.0zM279.4,379.2h1.2v1.2h-1.2zM280.0,382.8h1.0v1.0h-1.0zM278.9,384.4h1.1v1.1h-1.1zM278.5,386.1h1.2v1.2h-1.2zM257.1,374.1h1.2v1.2h-1.2zM284.4,391.9h1.2v1.2h-1.2zM283.5,393.9h1.0v1.0h-1.0zM284.2,400.1h0.9v0.9h-0.9zM288.5,388.1h0.9v0.9h-0.9zM293.3,397.9h1.2v1.2h-1.2zM288.3,388.1h0.9v0.9h-0.9zM291.1,385.4h1.0v1.0h-1.0zM292.3,386.0h1.0v1.0h-1.0zM189.6,402.5h1.1v1.1h-1.1zM190.2,402.1h1.4v1.4h-1.4zM189.5,400.2h1.1v1.1h-1.1zM200.2,392.4h0.9v0.9h-0.9zM204.4,401.9h1.0v1.0h-1.0z" fill="#8035a0" opacity="0.88"/><path d="M40.1,355.7h0.9v0.9h-0.9zM174.2,363.1h0.9v0.9h-0.9zM175.5,363.2h0.9v0.9h-0.9zM179.7,354.5h1.0v1.0h-1.0zM180.6,352.3h1.0v1.0h-1.0zM189.5,352.1h1.1v1.1h-1.1zM187.3,358.1h0.9v0.9h-0.9zM186.4,356.9h1.2v1.2h-1.2zM182.8,359.9h0.8v0.8h-0.8zM164.7,364.4h1.1v1.1h-1.1zM166.1,363.4h1.0v1.0h-1.0zM218.8,370.5h1.2v1.2h-1.2zM214.2,370.8h0.9v0.9h-0.9zM219.9,370.0h0.9v0.9h-0.9zM223.1,367.5h1.1v1.1h-1.1zM227.4,366.7h1.2v1.2h-1.2zM252.0,369.5h0.9v0.9h-0.9zM251.1,366.7h0.8v0.8h-0.8zM259.6,365.4h0.9v0.9h-0.9zM261.6,373.7h0.8v0.8h-0.8zM268.7,379.6h1.1v1.1h-1.1zM270.4,380.6h0.9v0.9h-0.9zM270.9,380.6h1.1v1.1h-1.1zM272.5,380.4h0.9v0.9h-0.9zM263.6,380.0h1.1v1.1h-1.1zM264.7,380.2h0.9v0.9h-0.9zM265.9,380.5h1.0v1.0h-1.0zM272.5,382.4h0.9v0.9h-0.9zM277.5,379.5h1.1v1.1h-1.1zM280.5,381.8h1.1v1.1h-1.1zM274.6,382.8h1.1v1.1h-1.1zM286.2,389.6h1.0v1.0h-1.0zM283.7,389.6h1.1v1.1h-1.1zM291.2,396.6h0.9v0.9h-0.9zM290.8,396.7h1.0v1.0h-1.0zM290.5,396.2h1.3v1.3h-1.3zM291.0,389.2h0.9v0.9h-0.9zM292.0,400.9h1.0v1.0h-1.0zM293.7,387.1h0.8v0.8h-0.8zM294.1,387.7h0.8v0.8h-0.8zM284.0,382.6h1.2v1.2h-1.2zM214.8,395.8h0.9v0.9h-0.9zM215.3,393.9h1.0v1.0h-1.0z" fill="#df9dd3" opacity="0.88"/><path d="M80.2,361.5h1.2v1.2h-1.2zM80.4,361.9h1.2v1.2h-1.2zM80.1,363.8h0.9v0.9h-0.9zM76.5,400.4h1.1v1.1h-1.1zM78.0,399.9h0.8v0.8h-0.8zM108.9,447.5h1.0v1.0h-1.0zM100.9,410.6h1.0v1.0h-1.0zM102.4,407.8h1.0v1.0h-1.0zM104.2,407.5h1.0v1.0h-1.0zM165.9,368.2h1.1v1.1h-1.1zM165.5,369.2h1.0v1.0h-1.0zM181.4,360.7h1.1v1.1h-1.1zM179.2,354.0h0.8v0.8h-0.8zM187.8,353.5h1.1v1.1h-1.1zM189.1,358.2h1.1v1.1h-1.1zM190.3,358.3h1.0v1.0h-1.0zM191.7,354.8h1.0v1.0h-1.0zM173.6,363.1h1.2v1.2h-1.2zM197.0,364.1h1.0v1.0h-1.0zM195.5,361.0h1.3v1.3h-1.3zM196.8,349.0h0.9v0.9h-0.9zM194.7,355.7h1.1v1.1h-1.1zM199.5,355.4h0.9v0.9h-0.9zM196.0,358.2h1.0v1.0h-1.0zM192.6,357.9h1.2v1.2h-1.2zM209.0,351.9h1.0v1.0h-1.0zM210.0,352.8h0.8v0.8h-0.8zM208.9,348.7h0.8v0.8h-0.8zM209.0,350.0h1.2v1.2h-1.2zM209.1,351.2h1.0v1.0h-1.0zM187.2,340.4h1.0v1.0h-1.0zM188.0,338.5h1.0v1.0h-1.0zM188.4,337.4h1.1v1.1h-1.1zM190.8,334.7h1.0v1.0h-1.0zM194.5,333.2h1.1v1.1h-1.1zM206.4,334.3h1.2v1.2h-1.2zM273.8,355.1h1.0v1.0h-1.0zM284.3,354.0h1.0v1.0h-1.0zM289.3,354.4h0.7v0.7h-0.7zM292.1,354.2h0.8v0.8h-0.8zM295.1,355.5h1.1v1.1h-1.1zM242.7,371.3h1.0v1.0h-1.0zM246.0,370.5h0.8v0.8h-0.8zM252.8,366.6h0.9v0.9h-0.9zM252.1,366.6h0.9v0.9h-0.9zM249.4,368.0h0.9v0.9h-0.9zM259.8,371.4h0.9v0.9h-0.9zM242.3,361.8h1.0v1.0h-1.0zM249.6,365.6h0.8v0.8h-0.8zM160.3,398.9h1.1v1.1h-1.1zM157.9,398.8h0.9v0.9h-0.9zM177.0,398.0h1.0v1.0h-1.0zM175.6,404.6h1.1v1.1h-1.1zM176.1,404.3h1.1v1.1h-1.1zM176.4,403.1h1.2v1.2h-1.2zM190.3,401.8h0.9v0.9h-0.9zM209.5,430.7h0.8v0.8h-0.8zM205.5,437.7h1.1v1.1h-1.1z" fill="#8f7dc0" opacity="0.88"/><path d="M84.2,362.1h1.2v1.2h-1.2zM88.0,360.6h1.0v1.0h-1.0zM164.7,363.7h1.1v1.1h-1.1zM165.2,364.4h1.1v1.1h-1.1zM181.7,356.6h1.0v1.0h-1.0zM181.2,355.9h1.0v1.0h-1.0zM176.2,354.7h0.8v0.8h-0.8zM180.2,352.9h0.8v0.8h-0.8zM182.1,352.2h1.0v1.0h-1.0zM187.0,355.6h1.0v1.0h-1.0zM188.5,355.3h1.1v1.1h-1.1zM183.6,357.3h1.2v1.2h-1.2zM188.9,358.0h1.1v1.1h-1.1zM191.0,358.6h0.9v0.9h-0.9zM192.1,357.8h1.0v1.0h-1.0zM193.6,356.0h1.0v1.0h-1.0zM193.5,356.5h0.8v0.8h-0.8zM165.5,363.9h1.2v1.2h-1.2zM165.8,367.1h1.1v1.1h-1.1zM165.2,368.1h1.0v1.0h-1.0zM196.3,364.9h1.1v1.1h-1.1zM195.2,360.2h0.9v0.9h-0.9zM202.4,348.3h0.9v0.9h-0.9zM202.5,348.4h1.2v1.2h-1.2zM203.4,357.1h1.3v1.3h-1.3zM204.8,359.0h1.1v1.1h-1.1zM200.4,350.8h1.0v1.0h-1.0zM196.9,358.2h1.0v1.0h-1.0zM197.1,358.2h1.2v1.2h-1.2zM221.0,369.9h1.1v1.1h-1.1zM216.9,369.7h1.1v1.1h-1.1zM222.2,364.9h1.1v1.1h-1.1zM222.5,363.2h0.9v0.9h-0.9zM213.2,377.7h0.9v0.9h-0.9zM213.3,377.3h0.9v0.9h-0.9zM216.8,374.9h1.1v1.1h-1.1zM265.5,377.8h1.0v1.0h-1.0zM266.6,379.1h1.2v1.2h-1.2zM270.6,381.7h1.1v1.1h-1.1zM271.0,381.5h1.0v1.0h-1.0zM282.7,380.0h1.2v1.2h-1.2zM276.2,384.9h1.0v1.0h-1.0zM272.8,385.8h1.2v1.2h-1.2zM254.8,380.0h1.0v1.0h-1.0zM255.2,379.6h1.2v1.2h-1.2zM255.3,378.2h1.2v1.2h-1.2zM283.2,390.3h1.0v1.0h-1.0zM290.1,391.5h1.1v1.1h-1.1zM292.8,394.3h0.9v0.9h-0.9zM289.1,398.0h0.9v0.9h-0.9zM290.1,389.5h1.2v1.2h-1.2z" fill="#d94fb5" opacity="0.88"/><path d="M73.7,397.1h0.9v0.9h-0.9zM77.0,396.5h0.9v0.9h-0.9zM84.9,412.0h1.0v1.0h-1.0zM85.1,417.3h0.8v0.8h-0.8zM208.1,347.9h1.2v1.2h-1.2zM208.7,349.1h1.1v1.1h-1.1zM201.8,353.0h1.3v1.3h-1.3zM201.5,353.8h1.1v1.1h-1.1zM203.4,353.0h1.1v1.1h-1.1zM199.5,364.1h0.9v0.9h-0.9zM201.2,365.4h1.3v1.3h-1.3zM203.3,364.2h1.2v1.2h-1.2zM203.4,363.6h1.0v1.0h-1.0zM193.5,361.4h1.2v1.2h-1.2zM205.0,346.1h1.1v1.1h-1.1zM203.9,345.2h1.0v1.0h-1.0zM192.4,360.0h1.1v1.1h-1.1zM192.7,359.8h1.0v1.0h-1.0zM202.4,345.0h1.0v1.0h-1.0zM199.7,350.0h1.1v1.1h-1.1zM201.7,349.6h1.0v1.0h-1.0zM200.0,351.7h1.3v1.3h-1.3zM198.9,349.5h1.0v1.0h-1.0zM204.5,362.8h0.9v0.9h-0.9zM198.7,362.4h1.0v1.0h-1.0zM197.6,361.9h1.1v1.1h-1.1zM195.3,356.7h1.2v1.2h-1.2zM195.9,356.6h0.9v0.9h-0.9zM197.5,355.7h1.0v1.0h-1.0zM217.6,355.9h1.3v1.3h-1.3zM218.0,356.6h1.2v1.2h-1.2zM218.3,357.3h1.1v1.1h-1.1zM225.9,360.9h1.1v1.1h-1.1zM227.9,354.4h1.1v1.1h-1.1zM234.1,353.2h1.1v1.1h-1.1zM245.4,349.8h1.0v1.0h-1.0zM245.8,349.1h0.8v0.8h-0.8zM257.0,349.7h0.9v0.9h-0.9zM264.0,353.6h0.9v0.9h-0.9zM264.7,353.3h1.1v1.1h-1.1zM312.6,350.5h0.9v0.9h-0.9zM317.1,354.8h1.0v1.0h-1.0zM323.9,356.7h1.1v1.1h-1.1zM325.1,357.4h0.8v0.8h-0.8zM323.9,360.4h0.8v0.8h-0.8zM321.0,363.0h0.9v0.9h-0.9zM284.8,396.8h1.1v1.1h-1.1zM288.9,392.1h0.9v0.9h-0.9zM289.6,392.0h1.2v1.2h-1.2zM290.2,390.3h1.3v1.3h-1.3zM291.8,390.8h1.3v1.3h-1.3zM293.2,396.0h1.1v1.1h-1.1zM283.7,380.0h1.1v1.1h-1.1zM284.8,383.4h1.2v1.2h-1.2zM283.2,384.4h0.9v0.9h-0.9zM283.3,385.8h1.1v1.1h-1.1zM283.9,386.6h1.3v1.3h-1.3zM286.3,388.0h1.0v1.0h-1.0zM170.1,402.0h1.1v1.1h-1.1zM170.2,403.7h1.0v1.0h-1.0zM169.4,401.1h1.1v1.1h-1.1zM192.5,403.9h1.0v1.0h-1.0zM199.0,399.8h0.9v0.9h-0.9zM210.8,401.2h1.0v1.0h-1.0zM210.9,400.6h1.1v1.1h-1.1zM213.4,399.0h0.8v0.8h-0.8zM212.1,404.9h0.9v0.9h-0.9zM191.7,409.6h1.0v1.0h-1.0zM206.1,413.1h1.2v1.2h-1.2zM212.2,409.2h1.0v1.0h-1.0zM210.5,424.4h1.1v1.1h-1.1zM213.6,431.1h1.0v1.0h-1.0zM201.7,426.0h1.1v1.1h-1.1zM205.6,426.1h1.2v1.2h-1.2z" fill="#4a68b0" opacity="0.88"/><path d="M230.0,352.4h1.2v1.2h-1.2zM241.5,354.1h1.2v1.2h-1.2zM242.5,350.4h1.1v1.1h-1.1zM258.0,350.1h1.1v1.1h-1.1zM259.0,349.5h0.9v0.9h-0.9zM270.3,355.7h0.9v0.9h-0.9zM159.4,398.4h1.2v1.2h-1.2zM160.2,398.3h1.1v1.1h-1.1zM163.5,398.4h1.2v1.2h-1.2zM174.1,396.5h1.0v1.0h-1.0zM173.5,396.7h1.1v1.1h-1.1zM185.8,397.3h1.2v1.2h-1.2zM185.9,397.1h1.0v1.0h-1.0zM173.4,402.0h1.2v1.2h-1.2zM173.0,401.0h1.2v1.2h-1.2zM208.1,417.1h0.8v0.8h-0.8zM212.6,414.5h1.1v1.1h-1.1zM215.2,416.0h1.1v1.1h-1.1zM209.3,423.5h1.2v1.2h-1.2zM212.6,430.4h1.2v1.2h-1.2zM203.8,427.7h0.9v0.9h-0.9zM205.2,433.0h0.8v0.8h-0.8zM207.4,431.7h0.8v0.8h-0.8zM209.3,431.5h1.2v1.2h-1.2zM209.8,438.3h0.9v0.9h-0.9zM209.3,441.2h1.0v1.0h-1.0zM209.7,442.2h0.9v0.9h-0.9z" fill="#64b6cf" opacity="0.88"/><path d="M272.6,382.4h0.9v0.9h-0.9zM280.9,378.9h0.9v0.9h-0.9zM282.3,380.1h1.0v1.0h-1.0zM278.2,387.7h0.8v0.8h-0.8zM277.2,385.7h1.2v1.2h-1.2z" fill="#c63fc0" opacity="0.88"/><path d="M177.1,399.2h1.1v1.1h-1.1zM181.6,397.6h0.9v0.9h-0.9zM181.7,398.1h1.2v1.2h-1.2zM174.4,404.7h1.2v1.2h-1.2zM176.9,400.4h1.0v1.0h-1.0zM169.7,406.9h0.9v0.9h-0.9z" fill="#a0d0e0" opacity="0.88"/></g></g>
<text x="365.2" y="494.4" font-size="12" class="serif">(iv)</text>
<rect x="369.10" y="594.80" width="13.37" height="13.70" fill="#d94fb5"/>
<rect x="382.37" y="594.80" width="13.37" height="13.70" fill="#8035a0"/>
<rect x="395.64" y="594.80" width="13.37" height="13.70" fill="#2d1a8e"/>
<rect x="369.10" y="608.40" width="13.37" height="13.70" fill="#df9dd3"/>
<rect x="382.37" y="608.40" width="13.37" height="13.70" fill="#8f7dc0"/>
<rect x="395.64" y="608.40" width="13.37" height="13.70" fill="#4a68b0"/>
<rect x="369.10" y="622.00" width="13.37" height="13.70" fill="#e8e4f3"/>
<rect x="382.37" y="622.00" width="13.37" height="13.70" fill="#a0d0e0"/>
<rect x="395.64" y="622.00" width="13.37" height="13.70" fill="#64b6cf"/>
<text transform="translate(366.10,601.10) rotate(-90)" font-size="7.4" text-anchor="middle">High</text>
<text transform="translate(366.10,629.10) rotate(-90)" font-size="7.4" text-anchor="middle">Low</text>
<text x="368.90" y="644.10" font-size="7.4">Low</text>
<text x="410.40" y="644.10" font-size="7.4" text-anchor="end">High</text>
<text x="388.50" y="655.30" font-size="7.4" class="b" text-anchor="middle">NPP Trend</text>
<text transform="translate(354.10,607.70) rotate(-90)" font-size="7.70" class="b" text-anchor="middle">Mean species richness</text>
</g>
<g id="panelA">
<text x="8.6" y="16" font-size="19.5" class="b">A</text>
<defs>
<clipPath id="cpCrop"><rect width="78.1" height="73.2"/></clipPath>
<clipPath id="cpNpp"><rect width="83.2" height="59.6"/></clipPath>
<clipPath id="cpBio"><rect width="82.5" height="59.9"/></clipPath>
<linearGradient id="gLeaf" x1="0" y1="1" x2="1" y2="0"><stop offset="0" stop-color="#246f15"/><stop offset="0.35" stop-color="#38951f"/><stop offset="0.7" stop-color="#50b029"/><stop offset="1" stop-color="#5fc02f"/></linearGradient>
<radialGradient id="gLeaf2" cx="0.62" cy="0.35" r="0.5"><stop offset="0" stop-color="#7ad63c" stop-opacity="0.55"/><stop offset="1" stop-color="#7ad63c" stop-opacity="0"/></radialGradient>
<linearGradient id="gSky" x1="0" y1="0" x2="0" y2="1"><stop offset="0" stop-color="#c9dfdf"/><stop offset="1" stop-color="#e3f0ee"/></linearGradient>
<linearGradient id="gRiver" x1="0" y1="0" x2="0.6" y2="1"><stop offset="0" stop-color="#c4e4ec"/><stop offset="0.5" stop-color="#a3d6e6"/><stop offset="1" stop-color="#72b9d4"/></linearGradient>
<filter id="bl1" x="-10%" y="-10%" width="120%" height="120%"><feGaussianBlur stdDeviation="0.8"/></filter>
</defs>
<g transform="translate(27,68.8)" clip-path="url(#cpCrop)">
<rect width="78.1" height="73.2" fill="#cf8e4b"/>
<polygon points="8,2 40,3 39,20 5,16" fill="#d6985a"/>
<polygon points="5,17 39,21 37,32 2,27" fill="#c98646"/>
<polygon points="2,28 37,33 35,45 0,40" fill="#d3934f"/>
<polygon points="0,41 22,44 21,53 0,50" fill="#c88545"/>
<polygon points="0,51 30,56 28,73 0,73" fill="#d08d49"/>
<polygon points="41,22 52,26 58,40 46,52 35,46" fill="#d9a05c"/>
<polygon points="52,27 70,33 74,44 60,42" fill="#dba866"/>
<polygon points="47,53 60,44 73,50 70,62 56,60" fill="#d39654"/>
<polygon points="38,68 47,60 60,68 62,73 36,73" fill="#cf8c4a"/>
<polygon points="43,0 60,0 78,12 78,22 56,12 45,8" fill="#cc8a48"/>
<polygon points="33.1,50.4 44.8,49.6 46.3,59.9 36.8,67.2 31.7,64.2" fill="#d8b266"/>
<polygon points="0,0 10.5,0 6.9,10.2 3.2,21.9 0,29.2" fill="#486a4c"/>
<polygon points="0,0 4,0 1.5,14 0,18" fill="#5a8a3a"/>
<polygon points="52.8,13.1 74.7,20.4 76.9,29.2 71.8,30.7 51.4,20.4" fill="#8d8fa6"/>
<polygon points="43.4,10.2 51.4,8.8 55.8,13.1 50.7,17.5 44.1,15.3" fill="#7f9a62"/>
<polygon points="21.5,44.5 31.7,47.4 32.4,54.7 22.2,52.6" fill="#6f9660"/>
<polygon points="57.2,59.9 68.9,61.3 70.4,67.9 59.4,67.2" fill="#6ea055"/>
<polygon points="39.7,13.1 43.4,13.5 43.4,20.4 40,20" fill="#9a6c52"/>
<polygon points="70,44 78,46 78,56 72,52" fill="#a58a66"/>
<path d="M41.2,0 L39,20.4 L33.9,46.7 L28,73" stroke="#4d8a2c" fill="none" stroke-linecap="round" stroke-width="1.5"/>
<path d="M44,0 L58,10 L78,24" stroke="#4d8a2c" fill="none" stroke-linecap="round" stroke-width="1.4"/>
<path d="M40,9 L52,22 L66,38 L78,48" stroke="#4d8a2c" fill="none" stroke-linecap="round" stroke-width="1.3"/>
<path d="M52,0 L66,6 L78,10" stroke="#4d8a2c" fill="none" stroke-linecap="round" stroke-width="1.2"/>
<path d="M35,46 L46,52 L56,60 L66,73" stroke="#4d8a2c" fill="none" stroke-linecap="round" stroke-width="1.4"/>
<path d="M58,40 L60,44 L47,53" stroke="#4d8a2c" fill="none" stroke-linecap="round" stroke-width="1.0"/>
<path d="M74,20 L78,36" stroke="#4d8a2c" fill="none" stroke-linecap="round" stroke-width="2.2"/>
<path d="M61,46 C65,44 70,47 75,51" stroke="#5aa02e" stroke-width="3.2" fill="none" stroke-linecap="round"/>
<path d="M45,58 C47,60 48,63 47,65" stroke="#5aa02e" stroke-width="2" fill="none" stroke-linecap="round"/>
<path d="M70,62 L78,70" stroke="#4d8a2c" fill="none" stroke-linecap="round" stroke-width="1.5"/>
<path d="M46,6 L62,16 L78,30" stroke="#4d8a2c" fill="none" stroke-linecap="round" stroke-width="1.1"/>
<path d="M52,22 L58,14 M66,38 L72,30 L78,28 M56,60 L64,52 L73,50 M46,52 L52,44 L58,40" stroke="#4d8a2c" fill="none" stroke-linecap="round" stroke-width="1.0"/>
<path d="M39,20 L30,18 M36,34 L46,38 M33.9,46.7 L22,44.5" stroke="#4d7a2c" stroke-width="0.8" fill="none"/>
<path d="M62,24 C66,27 72,30 77,33" stroke="#5f9a3a" stroke-width="2.4" fill="none" stroke-linecap="round" opacity="0.85"/>
<path d="M48,66 C54,68 60,70 64,73" stroke="#5aa02e" stroke-width="2.2" fill="none" stroke-linecap="round"/>
<path d="M0,30 L36,36 M0,44 L34,48" stroke="#5a7a2c" stroke-width="0.7" fill="none" opacity="0.8"/>
<path d="M8,2 L5,16 M5,16.5 L39,20.7 M2,27.5 L37,32.5 M0,40.5 L35,45.5 M0,50.5 L30,56 M0,60 L29,65 M0,68 L27,72 M10,8 L39,11 M22,44 L21,53 M37,32 L35,46 M30,56 L36,67" stroke="#7a5a32" stroke-width="0.45" fill="none" opacity="0.8"/>
<path d="M12,20 l-3,8 M18,21 l-3,8 M24,22 l-3,8 M30,23 l-3,8 M8,30 l-3,9 M14,31 l-3,9 M20,32 l-3,9 M26,33 l-3,9 M32,34 l-3,9 M6,53 l-2,18 M12,54 l-2,18 M18,55 l-2,18 M24,56 l-2,16" stroke="#b87838" stroke-width="0.35" opacity="0.7"/>
<path d="M-26.0,0 l-20,73.2 M-23.4,0 l-20,73.2 M-20.8,0 l-20,73.2 M-18.2,0 l-20,73.2 M-15.6,0 l-20,73.2 M-13.0,0 l-20,73.2 M-10.4,0 l-20,73.2 M-7.8,0 l-20,73.2 M-5.2,0 l-20,73.2 M-2.6,0 l-20,73.2 M0.0,0 l-20,73.2 M2.6,0 l-20,73.2 M5.2,0 l-20,73.2 M7.8,0 l-20,73.2 M10.4,0 l-20,73.2 M13.0,0 l-20,73.2 M15.6,0 l-20,73.2 M18.2,0 l-20,73.2 M20.8,0 l-20,73.2 M23.4,0 l-20,73.2 M26.0,0 l-20,73.2 M28.6,0 l-20,73.2 M31.2,0 l-20,73.2 M33.8,0 l-20,73.2 M36.4,0 l-20,73.2 M39.0,0 l-20,73.2 M41.6,0 l-20,73.2 M44.2,0 l-20,73.2 M46.8,0 l-20,73.2 M49.4,0 l-20,73.2 M52.0,0 l-20,73.2 M54.6,0 l-20,73.2 M57.2,0 l-20,73.2 M59.8,0 l-20,73.2 M62.4,0 l-20,73.2 M65.0,0 l-20,73.2 M67.6,0 l-20,73.2 M70.2,0 l-20,73.2 M72.8,0 l-20,73.2 M75.4,0 l-20,73.2 M78.0,0 l-20,73.2 M80.6,0 l-20,73.2 M83.2,0 l-20,73.2 M85.8,0 l-20,73.2 M88.4,0 l-20,73.2 M91.0,0 l-20,73.2 M93.6,0 l-20,73.2 M96.2,0 l-20,73.2 M98.8,0 l-20,73.2 M101.4,0 l-20,73.2" stroke="#8a5a2a" stroke-width="0.5" opacity="0.22"/>
<path d="M66.7,2.4 L71.8,5.3 L66.7,10" stroke="#fff" stroke-width="0.55" fill="none" opacity="0.9"/>
</g>
<text x="64.5" y="109.6" font-size="12.5" class="b" text-anchor="middle" style="fill:#fff">Cropland</text>
<g transform="translate(135.8,16.1)" clip-path="url(#cpNpp)">
<rect width="83.2" height="59.6" fill="#379520"/>
<g filter="url(#bl1)">
<path d="M20,62 C30,46 52,30 86,12 L86,-3 L34,-3 C24,14 16,36 12,62 Z" fill="#56b82c"/>
<path d="M44,34 C54,24 68,14 86,6 L86,-3 L60,-3 C52,8 46,20 44,34 Z" fill="#6fcc38" opacity="0.75"/>
<path d="M24,62 C36,48 58,32 86,17 L86,62 Z" fill="#2b7a1a"/>
<path d="M50,62 C60,52 74,44 86,38 L86,62 Z" fill="#236c14" opacity="0.8"/>
<path d="M-3,-3 L30,-3 C20,14 12,36 8,62 L-3,62 Z" fill="#2d801b"/>
<path d="M-3,-3 L20,-3 L-3,18 Z" fill="#1f6612" opacity="0.8"/>
<path d="M-3,62 L-3,40 L10,62 Z" fill="#1f6612" opacity="0.7"/>
<path d="M-1,4 L14,-2 M-1,9 L22,-2 M-1,14 L12,4" stroke="#a6de70" stroke-width="0.8" opacity="0.75"/>
<path d="M14,62 C28,46 54,29 86,13" stroke="#8fdc4c" stroke-width="4.2" fill="none" opacity="0.55"/>
<path d="M16,61 C30,45 55,29 86,13.5" stroke="#c8f29a" stroke-width="1.5" fill="none" opacity="0.95"/>
<path d="M24,50 C26,32 36,12 52,-3" stroke="#86d84e" stroke-width="1.1" fill="none" opacity="0.8"/>
<path d="M34,42 C40,26 52,10 68,-3" stroke="#86d84e" stroke-width="1.0" fill="none" opacity="0.7"/>
<path d="M46,34 C54,22 66,10 82,-1" stroke="#92e058" stroke-width="0.9" fill="none" opacity="0.7"/>
<path d="M16,58 C16,40 22,18 34,-3" stroke="#6fc840" stroke-width="1.0" fill="none" opacity="0.7"/>
<path d="M40,40 C54,44 70,50 86,52" stroke="#7fd048" stroke-width="1.1" fill="none" opacity="0.75"/>
<path d="M56,30 C66,32 78,34 86,34" stroke="#7fd048" stroke-width="0.9" fill="none" opacity="0.65"/>
<path d="M28,50 C38,54 48,58 56,62" stroke="#6cc040" stroke-width="0.9" fill="none" opacity="0.6"/>
</g>
</g>
<text x="178" y="36.7" font-size="12.45" class="b" text-anchor="middle" style="fill:#fff">Net primary</text>
<text x="178" y="51.9" font-size="12.45" class="b" text-anchor="middle" style="fill:#fff">productivity</text>
<text x="178" y="67.1" font-size="12.45" class="b" text-anchor="middle" style="fill:#fff">(NPP)</text>
<g transform="translate(263.3,76.1)" clip-path="url(#cpBio)">
<rect width="82.5" height="59.9" fill="#9ccc55"/>
<rect width="82.5" height="13" fill="url(#gSky)"/>
<path d="M0,6.5 C6,5 12,7 20,10.5 L0,11.5 Z" fill="#a3bcc2"/>
<path d="M19,11 C28,8 38,2.2 49,0.6 C58,2 70,7 82.5,10 L82.5,14 L19,14 Z" fill="#6c9196"/>
<path d="M49,0.6 C58,2 70,7 82.5,10 L82.5,8.6 C72,5.5 62,2.6 49,0.6Z" fill="#9fb9bd" opacity="0.7"/>
<path d="M0,10.5 C3,8.5 5,9.5 7,9 C10,8 12,10 15,9.5 C18,8.5 20,10.5 23,10 C27,9.5 30,11 34,10.5 C38,10 42,11.5 46,11 C50,10.5 54,12 58,11.5 C62,11 66,12 70,11.5 C74,11 78,12 82.5,11.5 L82.5,18 L0,18 Z" fill="#4a8a4c"/>
<path d="M0,13.5 C10,12.5 20,14.5 30,14 C45,13.5 60,15 82.5,14.5 L82.5,18.5 L0,18.5Z" fill="#5c9e4e"/>
<rect y="17.3" width="82.5" height="17" fill="#9fd05a"/>
<path d="M28.5,18.6 L39.7,18.6 L40.3,21.7 L37.8,24.2 L39.7,26.7 C48,27 56,27 63.3,27.3 L63.3,34.7 L82.5,34.7 L82.5,53.5 C76,53 72,52.5 68.2,52.1 C62,51 56,49.5 50.9,48.4 L40.9,47.8 C43,45 43,43 42.2,41.6 C41,39 39,37 36,36 C28,35 20,34 14.9,33.5 L14.9,26.7 C20,26.5 25,26 28.5,25.4 L29.8,21.7 Z" fill="url(#gRiver)"/>
<path d="M63.3,34.7 L82.5,34.7 L82.5,40.5 C76,41 68,40 63.3,37Z" fill="#5d7f5a" opacity="0.75"/>
<path d="M6,18 C10,16.5 20,17 28,18.5 C29,21.5 28.5,24 27.5,25.6 C20,26.5 12,27 6,26 Z" fill="#b9cd72"/>
<path d="M0,17.5 L6,18 L6,26 L14.9,26.7 L14.9,33.5 L0,32.9Z" fill="#8cc840"/>
<path d="M57,18.5 C64,17 74,17.5 82.5,18 L82.5,34.7 L63.3,34.7 L63.3,27.3 C60,26 57.5,24 57,18.5Z" fill="#c6dd8e"/>
<path d="M38.5,20 C46,19.5 52,20 58,21 C60,24 61,26 63.3,27.3 C55,27.2 46,27 39.7,26.7 L37.8,24.2 L40.3,21.7Z" fill="#8cc840"/>
<path d="M0,32.9 L14.9,33.5 C22,34.2 30,35 36,36 C39.5,37.2 42,39 42.8,40.3 L42.2,42.2 C32,42.6 20,42.7 11.2,42.8 C6,43.5 2,44 0,44.7 Z" fill="#8ac838"/>
<path d="M11.2,42.5 C20,42.2 32,42.3 42.2,42.2 C42.8,44 42,46 40.9,47.1 C32,47 22,46.8 13.6,46.5 Z" fill="#35562a"/>
<path d="M0,44.7 C4,44 8,43.2 11.2,42.8 L13.6,46.5 C22,46.8 32,47 40.9,47.5 C50,48.4 60,51 68.2,52.1 C74,52.8 78,54 82.5,55 L82.5,59.9 L0,59.9Z" fill="#7cc038"/>
<path d="M0,44.7 C6,45 12,47 16,50 C19,53 20,57 20,59.9 L0,59.9Z" fill="#56962d"/>
<path d="M33,49.5 C46,48.5 62,52 73,55.5 C62,58.5 46,59 33,58Z" fill="#a6da52" opacity="0.85"/>
<ellipse cx="26.2" cy="50.3" rx="6.6" ry="3.7" fill="#15151d" transform="rotate(20 26.2 50.3)"/>
<path d="M19.2,44.4 C20.7,43.4 22.7,44.4 23.2,46.4 L22.2,49.4 L19.7,47.4Z" fill="#3a2622"/>
<path d="M32.5,53.8 l1.3,0.4 l-1.2,0.6z" fill="#d83a2a"/>
<path d="M23.5,53.5 l-2.6,6 M27.5,54.6 l-0.5,5" stroke="#b9772a" stroke-width="0.5"/>
<path d="M1.6,47 l2.6,-4.5 M0.8,58.5 l3.8,-3.5" stroke="#d0672a" stroke-width="1"/>
<ellipse cx="75" cy="51.6" rx="3.7" ry="2.5" fill="#4a8a3a"/>
<ellipse cx="81" cy="55.8" rx="3" ry="2.8" fill="#4a8a3a"/>
<path d="M70.5,19 C71,15.5 74,13.6 76.4,15.2 C76,18.5 73.5,20.6 71,20.6Z" fill="#454a5e"/>
<path d="M76,14.3 L82.5,13.8 L82.5,16.6 L77,16.6Z" fill="#7c7c76" opacity="0.85"/>
<path d="M29.8,6.8 l1.5,0.6 l1.8,-0.9 l-0.5,3.4 l-1.7,1.3 l-1.2,-1.8z" fill="#7a4f32"/>
<path d="M34.8,14 l0.4,6 M12,20.5 l0.2,5" stroke="#e9e9e9" stroke-width="0.55" opacity="0.85"/>
<path d="M39.2,17.5 l1.6,2.4 l-2.2,0.3z" fill="#44484f"/>
</g>
<text x="303.7" y="108.7" font-size="12.5" class="b" text-anchor="middle" style="fill:#fff">Biodiversity</text>
<path d="M69,68.8 V47.5 H131" fill="none" stroke="#4470dc" stroke-width="1.4"/>
<path d="M136,47.5 l-6.9,-3.3 v6.6 z" fill="#4470dc"/>
<path d="M221.5,48.8 H302.8 V69" fill="none" stroke="#d12a2a" stroke-width="1.9"/>
<path d="M302.7,76 l-4.2,-9 h8.4 z" fill="#d12a2a"/>
<path d="M105.5,105.7 H257" fill="none" stroke="#4470dc" stroke-width="1" stroke-dasharray="6.3 3.5"/>
<path d="M262.3,105.7 l-6.3,-2.9 v5.8 z" fill="#4470dc"/>
<text x="82" y="46.5" font-size="11.55">-0.084</text><text x="115.6" y="41.5" font-size="7">***</text>
<text x="246" y="46.5" font-size="11.55">0.124</text><text x="275.6" y="41.3" font-size="7">***</text>
<text x="167.8" y="117.3" font-size="11.4">-0.012</text>
<text x="50" y="160.2" font-size="9.57">SRMR=0.000, CFI=1.000, TLI=1.000, RMSEA=0.000, *** <tspan font-style="italic">P</tspan>&lt;0.01</text>
<rect x="108.9" y="178" width="12.5" height="45.8" fill="#4573d8"/>
<rect x="139.2" y="178" width="12.4" height="39.6" fill="#4573d8"/>
<rect x="169.2" y="178" width="12.5" height="82.8" fill="#4573d8"/>
<path d="M92.6,177.9 V268 M85.9,177.9 H191.8 M85.9,268 H191.8 M85.9,223.6 H92.6 M115.1,268 v4.4 M145.4,268 v4.4 M175.4,268 v4.4" stroke="#111" stroke-width="0.9" fill="none"/>
<text x="84.2" y="183.3" font-size="10.2" text-anchor="end">0</text>
<text x="84.2" y="227.2" font-size="10.2" text-anchor="end">-0.012</text>
<text x="84.2" y="274.3" font-size="10.2" text-anchor="end">-0.024</text>
<text x="115.1" y="283.6" font-size="10.2" text-anchor="middle">a</text>
<text x="145.4" y="283.6" font-size="10.2" text-anchor="middle">b</text>
<text x="175.4" y="283.6" font-size="10.2" text-anchor="middle">TE</text>
<text transform="translate(49.2,226.4) rotate(-90)" font-size="12.5" text-anchor="middle">Path effect</text>
<text x="197" y="219.2" font-size="10.5" class="b">a:</text><text x="210.6" y="219.2" font-size="10.5">Cropland</text><text x="264.3" y="219.2" font-size="10.5">Biodiversity</text>
<path d="M254.3,215.7 H261.0" stroke="#111" stroke-width="0.75"/><path d="M263.5,215.7 l-3.6,-1.7 v3.4z" fill="#111"/>
<text x="197" y="240.2" font-size="10.5" class="b">b:</text><text x="211.3" y="240.2" font-size="10.5">Cropland</text><text x="264.8" y="240.2" font-size="10.5">NPP</text><text x="297.5" y="240.2" font-size="10.5">Biodiversity</text>
<path d="M254.6,236.7 H261.3" stroke="#111" stroke-width="0.75"/><path d="M263.8,236.7 l-3.6,-1.7 v3.4z" fill="#111"/>
<path d="M287.0,236.7 H293.7" stroke="#111" stroke-width="0.75"/><path d="M296.2,236.7 l-3.6,-1.7 v3.4z" fill="#111"/>
<text x="197" y="260" font-size="10.5" class="b">TE:</text><text x="217.6" y="260" font-size="10.5">Total Effect</text>
</g>
<g id="panelB">
<text x="351.5" y="16" font-size="19.5" class="b">B</text>
<path d="M398.30,39.70 V107.20" stroke="#5a4444" stroke-width="0.75" fill="none"/>
<path d="M406.93,43.40 V107.20" stroke="#7a6a66" stroke-width="0.75" fill="none"/>
<path d="M415.55,42.20 V107.20" stroke="#5c5c5c" stroke-width="0.75" fill="none"/>
<path d="M424.18,42.20 V107.20" stroke="#9db3ba" stroke-width="0.75" fill="none"/>
<path d="M432.80,41.00 V107.20" stroke="#44597a" stroke-width="0.75" fill="none"/>
<path d="M441.43,41.70 V107.20" stroke="#4a4f55" stroke-width="0.75" fill="none"/>
<path d="M450.05,39.70 V107.20" stroke="#b3c1c4" stroke-width="0.80" fill="none"/>
<path d="M458.68,39.20 V107.20" stroke="#8a8a8a" stroke-width="0.80" fill="none"/>
<path d="M467.30,28.50 V107.20" stroke="#bbbbbb" stroke-width="0.80" fill="none"/>
<path d="M475.93,51.40 V107.20" stroke="#cccccc" stroke-width="0.80" fill="none"/>
<path d="M484.55,55.80 V107.20" stroke="#cccccc" stroke-width="0.80" fill="none"/>
<path d="M493.18,42.70 V107.20" stroke="#aaaaaa" stroke-width="0.80" fill="none"/>
<path d="M501.80,53.80 V107.20" stroke="#a4a4a4" stroke-width="0.80" fill="none"/>
<path d="M398.16,68.39 L398.13,69.23 L398.09,70.08 L398.06,70.92 L398.02,71.76 L397.98,72.61 L397.94,73.45 L397.90,74.29 L397.86,75.14 L397.83,75.98 L397.80,76.83 L397.77,77.67 L397.75,78.51 L397.73,79.36 L397.70,80.20 L397.67,81.04 L397.63,81.89 L397.58,82.73 L397.50,83.58 L397.38,84.42 L397.23,85.26 L397.04,86.11 L396.83,86.95 L396.59,87.79 L396.36,88.64 L396.15,89.48 L395.98,90.33 L395.89,91.17 L395.87,92.01 L395.92,92.86 L396.00,93.70 L396.11,94.54 L396.25,95.39 L396.42,96.23 L396.60,97.08 L396.79,97.92 L396.98,98.76 L397.16,99.61 L397.34,100.45 L397.50,101.29 L397.65,102.14 L397.78,102.98 L397.89,103.83 L397.98,104.67 L398.06,105.51 L398.12,106.36 L398.17,107.20 L398.43,107.20 L398.48,106.36 L398.54,105.51 L398.62,104.67 L398.71,103.83 L398.82,102.98 L398.95,102.14 L399.10,101.29 L399.26,100.45 L399.44,99.61 L399.62,98.76 L399.81,97.92 L400.00,97.08 L400.18,96.23 L400.35,95.39 L400.49,94.54 L400.60,93.70 L400.68,92.86 L400.73,92.01 L400.71,91.17 L400.62,90.33 L400.45,89.48 L400.24,88.64 L400.01,87.79 L399.77,86.95 L399.56,86.11 L399.37,85.26 L399.22,84.42 L399.10,83.58 L399.02,82.73 L398.97,81.89 L398.93,81.04 L398.90,80.20 L398.87,79.36 L398.85,78.51 L398.83,77.67 L398.80,76.83 L398.77,75.98 L398.74,75.14 L398.70,74.29 L398.66,73.45 L398.62,72.61 L398.58,71.76 L398.54,70.92 L398.51,70.08 L398.47,69.23 L398.44,68.39Z" fill="#b5443f" stroke="#7e2a28" stroke-width="0.45"/>
<path d="M406.78,71.31 L406.75,72.11 L406.71,72.91 L406.67,73.70 L406.62,74.50 L406.58,75.30 L406.53,76.10 L406.48,76.90 L406.43,77.69 L406.38,78.49 L406.33,79.29 L406.28,80.09 L406.22,80.88 L406.16,81.68 L406.08,82.48 L405.99,83.28 L405.87,84.07 L405.72,84.87 L405.54,85.67 L405.32,86.47 L405.07,87.26 L404.79,88.06 L404.48,88.86 L404.17,89.66 L403.87,90.45 L403.60,91.25 L403.38,92.05 L403.23,92.84 L403.16,93.64 L403.18,94.44 L403.26,95.24 L403.38,96.03 L403.55,96.83 L403.77,97.63 L404.01,98.43 L404.28,99.22 L404.56,100.02 L404.84,100.82 L405.12,101.62 L405.38,102.42 L405.63,103.21 L405.85,104.01 L406.05,104.81 L406.22,105.61 L406.37,106.40 L406.49,107.20 L407.36,107.20 L407.48,106.40 L407.63,105.61 L407.80,104.81 L408.00,104.01 L408.22,103.21 L408.47,102.42 L408.73,101.62 L409.01,100.82 L409.29,100.02 L409.57,99.22 L409.84,98.43 L410.08,97.63 L410.30,96.83 L410.47,96.03 L410.59,95.24 L410.67,94.44 L410.69,93.64 L410.62,92.84 L410.47,92.05 L410.25,91.25 L409.98,90.45 L409.68,89.66 L409.37,88.86 L409.06,88.06 L408.78,87.26 L408.53,86.47 L408.31,85.67 L408.13,84.87 L407.98,84.07 L407.86,83.28 L407.77,82.48 L407.69,81.68 L407.63,80.88 L407.57,80.09 L407.52,79.29 L407.47,78.49 L407.42,77.69 L407.37,76.90 L407.32,76.10 L407.27,75.30 L407.23,74.50 L407.18,73.70 L407.14,72.91 L407.10,72.11 L407.07,71.31Z" fill="#e8b9a8" stroke="#b98c7e" stroke-width="0.45"/>
<path d="M415.38,86.89 L415.30,87.70 L415.19,88.51 L415.06,89.33 L414.90,90.14 L414.71,90.95 L414.52,91.76 L414.32,92.58 L414.14,93.39 L414.00,94.20 L413.90,95.01 L413.85,95.83 L413.86,96.64 L413.90,97.45 L413.98,98.26 L414.08,99.08 L414.21,99.89 L414.35,100.70 L414.49,101.51 L414.64,102.33 L414.78,103.14 L414.92,103.95 L415.04,104.76 L415.14,105.58 L415.24,106.39 L415.31,107.20 L415.79,107.20 L415.86,106.39 L415.96,105.58 L416.06,104.76 L416.18,103.95 L416.32,103.14 L416.46,102.33 L416.61,101.51 L416.75,100.70 L416.89,99.89 L417.02,99.08 L417.12,98.26 L417.20,97.45 L417.24,96.64 L417.25,95.83 L417.20,95.01 L417.10,94.20 L416.96,93.39 L416.78,92.58 L416.58,91.76 L416.39,90.95 L416.20,90.14 L416.04,89.33 L415.91,88.51 L415.80,87.70 L415.72,86.89Z" fill="#dcdcdc" stroke="#8a8a8a" stroke-width="0.45"/>
<path d="M424.02,83.64 L423.98,84.45 L423.93,85.26 L423.88,86.08 L423.82,86.89 L423.75,87.70 L423.67,88.51 L423.60,89.33 L423.52,90.14 L423.45,90.95 L423.37,91.76 L423.31,92.58 L423.26,93.39 L423.21,94.20 L423.19,95.01 L423.18,95.83 L423.18,96.64 L423.21,97.45 L423.25,98.26 L423.31,99.08 L423.39,99.89 L423.47,100.70 L423.55,101.51 L423.64,102.33 L423.72,103.14 L423.80,103.95 L423.87,104.76 L423.94,105.58 L423.99,106.39 L424.03,107.20 L424.32,107.20 L424.36,106.39 L424.41,105.58 L424.48,104.76 L424.55,103.95 L424.63,103.14 L424.71,102.33 L424.80,101.51 L424.88,100.70 L424.96,99.89 L425.04,99.08 L425.10,98.26 L425.14,97.45 L425.17,96.64 L425.17,95.83 L425.16,95.01 L425.14,94.20 L425.09,93.39 L425.04,92.58 L424.98,91.76 L424.90,90.95 L424.83,90.14 L424.75,89.33 L424.68,88.51 L424.60,87.70 L424.53,86.89 L424.47,86.08 L424.42,85.26 L424.37,84.45 L424.33,83.64Z" fill="#b9d0d8" stroke="#8fa8b2" stroke-width="0.45"/>
<path d="M432.65,83.20 L432.62,84.03 L432.58,84.86 L432.54,85.69 L432.50,86.51 L432.45,87.34 L432.39,88.17 L432.34,89.00 L432.29,89.82 L432.24,90.65 L432.19,91.48 L432.15,92.31 L432.11,93.13 L432.08,93.96 L432.06,94.79 L432.05,95.61 L432.05,96.44 L432.07,97.27 L432.10,98.10 L432.14,98.92 L432.20,99.75 L432.26,100.58 L432.33,101.41 L432.39,102.23 L432.46,103.06 L432.52,103.89 L432.57,104.72 L432.62,105.55 L432.66,106.37 L432.94,106.37 L432.98,105.55 L433.03,104.72 L433.08,103.89 L433.14,103.06 L433.21,102.23 L433.27,101.41 L433.34,100.58 L433.40,99.75 L433.46,98.92 L433.50,98.10 L433.53,97.27 L433.55,96.44 L433.55,95.61 L433.54,94.79 L433.52,93.96 L433.49,93.13 L433.45,92.31 L433.41,91.48 L433.36,90.65 L433.31,89.82 L433.26,89.00 L433.21,88.17 L433.15,87.34 L433.10,86.51 L433.06,85.69 L433.02,84.86 L432.98,84.03 L432.95,83.20Z" fill="#5d7fa3" stroke="#3a5878" stroke-width="0.45"/>
<path d="M441.29,85.09 L441.27,85.91 L441.25,86.73 L441.22,87.55 L441.20,88.37 L441.18,89.19 L441.15,90.01 L441.13,90.83 L441.11,91.64 L441.10,92.46 L441.09,93.28 L441.08,94.10 L441.08,94.92 L441.08,95.74 L441.09,96.56 L441.10,97.38 L441.13,98.19 L441.15,99.01 L441.18,99.83 L441.21,100.65 L441.24,101.47 L441.27,102.29 L441.30,103.11 L441.55,103.11 L441.58,102.29 L441.61,101.47 L441.64,100.65 L441.67,99.83 L441.70,99.01 L441.72,98.19 L441.75,97.38 L441.76,96.56 L441.77,95.74 L441.77,94.92 L441.77,94.10 L441.76,93.28 L441.75,92.46 L441.74,91.64 L441.72,90.83 L441.70,90.01 L441.67,89.19 L441.65,88.37 L441.63,87.55 L441.60,86.73 L441.58,85.91 L441.56,85.09Z" fill="#7d8a94" stroke="#4a4f55" stroke-width="0.45"/>
<path d="M449.93,78.51 L449.91,79.36 L449.89,80.20 L449.86,81.04 L449.84,81.89 L449.82,82.73 L449.79,83.58 L449.77,84.42 L449.74,85.26 L449.72,86.11 L449.69,86.95 L449.67,87.79 L449.64,88.64 L449.62,89.48 L449.60,90.33 L449.59,91.17 L449.57,92.01 L449.56,92.86 L449.55,93.70 L449.55,94.54 L449.55,95.39 L449.56,96.23 L449.58,97.08 L449.61,97.92 L449.65,98.76 L449.69,99.61 L449.74,100.45 L449.78,101.29 L449.82,102.14 L449.87,102.98 L449.90,103.83 L450.20,103.83 L450.23,102.98 L450.28,102.14 L450.32,101.29 L450.36,100.45 L450.41,99.61 L450.45,98.76 L450.49,97.92 L450.52,97.08 L450.54,96.23 L450.55,95.39 L450.55,94.54 L450.55,93.70 L450.54,92.86 L450.53,92.01 L450.51,91.17 L450.50,90.33 L450.48,89.48 L450.46,88.64 L450.43,87.79 L450.41,86.95 L450.38,86.11 L450.36,85.26 L450.33,84.42 L450.31,83.58 L450.28,82.73 L450.26,81.89 L450.24,81.04 L450.21,80.20 L450.19,79.36 L450.17,78.51Z" fill="#c3cfd2" stroke="#a9b5b8" stroke-width="0.45"/>
<path d="M405.12,84.00 h3.6 M405.12,101.00 h3.6" stroke="#555" stroke-width="0.5" fill="none"/>
<path d="M413.75,86.50 h3.6 M413.75,100.20 h3.6" stroke="#555" stroke-width="0.5" fill="none"/>
<path d="M422.38,85.40 h3.6 M422.38,100.70 h3.6" stroke="#555" stroke-width="0.5" fill="none"/>
<path d="M431.00,82.30 h3.6 M431.00,100.70 h3.6" stroke="#555" stroke-width="0.5" fill="none"/>
<path d="M439.62,80.50 h3.6 M439.62,100.70 h3.6" stroke="#555" stroke-width="0.5" fill="none"/>
<path d="M448.25,84.10 h3.6 M448.25,102.70 h3.6" stroke="#555" stroke-width="0.5" fill="none"/>
<path d="M456.88,79.40 h3.6 M456.88,102.20 h3.6" stroke="#555" stroke-width="0.5" fill="none"/>
<path d="M465.50,81.90 h3.6 M465.50,103.70 h3.6" stroke="#8a8a8a" stroke-width="0.5" fill="none"/>
<path d="M474.12,84.40 h3.6 M474.12,103.00 h3.6" stroke="#8a8a8a" stroke-width="0.5" fill="none"/>
<path d="M482.75,90.80 h3.6 M482.75,100.50 h3.6" stroke="#8a8a8a" stroke-width="0.5" fill="none"/>
<path d="M491.38,76.90 h3.6 M491.38,104.20 h3.6" stroke="#8a8a8a" stroke-width="0.5" fill="none"/>
<path d="M500.00,76.40 h3.6 M500.00,99.30 h3.6" stroke="#8a8a8a" stroke-width="0.5" fill="none"/>
<path d="M398.30,89.70 L406.93,90.40 L415.55,90.90 L424.18,91.00 L432.80,91.20 L441.43,91.20 L450.05,92.80 L458.68,91.80 L467.30,93.80 L475.93,93.50 L484.55,95.00 L493.18,91.30 L501.80,86.10" stroke="#333" stroke-width="0.7" fill="none"/>
<circle cx="398.30" cy="89.70" r="1.25" fill="#fff" stroke="#444" stroke-width="0.45"/>
<circle cx="406.93" cy="90.40" r="1.25" fill="#fff" stroke="#444" stroke-width="0.45"/>
<circle cx="415.55" cy="90.90" r="1.25" fill="#fff" stroke="#444" stroke-width="0.45"/>
<circle cx="424.18" cy="91.00" r="1.25" fill="#fff" stroke="#444" stroke-width="0.45"/>
<circle cx="432.80" cy="91.20" r="1.25" fill="#fff" stroke="#444" stroke-width="0.45"/>
<circle cx="441.43" cy="91.20" r="1.25" fill="#fff" stroke="#444" stroke-width="0.45"/>
<circle cx="450.05" cy="92.80" r="1.25" fill="#fff" stroke="#444" stroke-width="0.45"/>
<circle cx="458.68" cy="91.80" r="1.25" fill="#fff" stroke="#444" stroke-width="0.45"/>
<circle cx="467.30" cy="93.80" r="1.25" fill="#fff" stroke="#444" stroke-width="0.45"/>
<circle cx="475.93" cy="93.50" r="1.25" fill="#fff" stroke="#444" stroke-width="0.45"/>
<circle cx="484.55" cy="95.00" r="1.25" fill="#fff" stroke="#444" stroke-width="0.45"/>
<circle cx="493.18" cy="91.30" r="1.25" fill="#fff" stroke="#444" stroke-width="0.45"/>
<circle cx="501.80" cy="86.10" r="1.25" fill="#fff" stroke="#444" stroke-width="0.45"/>
<rect x="393.90" y="20.20" width="111.90" height="100.10" fill="none" stroke="#111" stroke-width="1.15"/>
<path d="M393.90,32.40 h-3.6" stroke="#111" stroke-width="0.9"/>
<text x="387.60" y="35.60" font-size="9" text-anchor="end">60</text>
<path d="M393.90,70.00 h-3.6" stroke="#111" stroke-width="0.9"/>
<text x="387.60" y="73.20" font-size="9" text-anchor="end">30</text>
<path d="M393.90,107.40 h-3.6" stroke="#111" stroke-width="0.9"/>
<text x="387.60" y="110.60" font-size="9" text-anchor="end">0</text>
<path d="M415.30,120.30 v3.4" stroke="#111" stroke-width="0.9"/>
<text x="415.30" y="133.60" font-size="9" text-anchor="middle">1</text>
<path d="M449.50,120.30 v3.4" stroke="#111" stroke-width="0.9"/>
<text x="449.50" y="133.60" font-size="9" text-anchor="middle">3</text>
<path d="M483.70,120.30 v3.4" stroke="#111" stroke-width="0.9"/>
<text x="483.70" y="133.60" font-size="9" text-anchor="middle">5</text>
<text x="399.00" y="116.80" font-size="7.4" style="fill:#222">Slope= -0.42&#160; R<tspan dy="-2.6" font-size="4.8">2</tspan><tspan dy="2.6">=0.04&#160; P&lt;0.01</tspan></text>
<text transform="translate(371.80,66.50) rotate(-90)" font-size="8.5" text-anchor="middle">Amphibians</text>
<text x="393.20" y="10.60" font-size="11.7" class="serif">(i)</text>
<path d="M571.70,32.00 V105.70" stroke="#4f4444" stroke-width="0.75" fill="none"/>
<path d="M580.34,36.40 V108.80" stroke="#6e5f5c" stroke-width="0.75" fill="none"/>
<path d="M588.98,33.40 V106.50" stroke="#5a5a5a" stroke-width="0.75" fill="none"/>
<path d="M597.62,31.20 V109.10" stroke="#55626a" stroke-width="0.75" fill="none"/>
<path d="M606.26,35.50 V108.20" stroke="#4a5360" stroke-width="0.75" fill="none"/>
<path d="M614.90,37.30 V109.10" stroke="#4a4f55" stroke-width="0.75" fill="none"/>
<path d="M623.54,40.80 V111.70" stroke="#555555" stroke-width="0.80" fill="none"/>
<path d="M632.18,24.10 V107.40" stroke="#cccccc" stroke-width="0.80" fill="none"/>
<path d="M640.82,35.00 V105.60" stroke="#555555" stroke-width="0.80" fill="none"/>
<path d="M649.46,46.00 V104.70" stroke="#999999" stroke-width="0.80" fill="none"/>
<path d="M658.10,49.20 V103.90" stroke="#cccccc" stroke-width="0.80" fill="none"/>
<path d="M666.74,43.40 V103.00" stroke="#999999" stroke-width="0.80" fill="none"/>
<path d="M675.38,53.40 V103.00" stroke="#888888" stroke-width="0.80" fill="none"/>
<path d="M571.58,60.56 L571.51,61.48 L571.43,62.40 L571.33,63.32 L571.22,64.24 L571.10,65.17 L570.99,66.09 L570.89,67.01 L570.83,67.93 L570.80,68.85 L570.81,69.77 L570.85,70.69 L570.92,71.61 L571.00,72.53 L571.10,73.46 L571.20,74.38 L571.30,75.30 L571.39,76.22 L571.47,77.14 L571.53,78.06 L571.58,78.98 L571.52,83.59 L571.40,84.51 L571.22,85.43 L570.97,86.35 L570.66,87.28 L570.32,88.20 L569.98,89.12 L569.70,90.04 L569.54,90.96 L569.51,91.88 L569.62,92.80 L569.86,93.72 L570.18,94.65 L570.53,95.57 L570.85,96.49 L571.13,97.41 L571.34,98.33 L571.49,99.25 L571.91,99.25 L572.06,98.33 L572.27,97.41 L572.55,96.49 L572.87,95.57 L573.22,94.65 L573.54,93.72 L573.78,92.80 L573.89,91.88 L573.86,90.96 L573.70,90.04 L573.42,89.12 L573.08,88.20 L572.74,87.28 L572.43,86.35 L572.18,85.43 L572.00,84.51 L571.88,83.59 L571.82,78.98 L571.87,78.06 L571.93,77.14 L572.01,76.22 L572.10,75.30 L572.20,74.38 L572.30,73.46 L572.40,72.53 L572.48,71.61 L572.55,70.69 L572.59,69.77 L572.60,68.85 L572.57,67.93 L572.51,67.01 L572.41,66.09 L572.30,65.17 L572.18,64.24 L572.07,63.32 L571.97,62.40 L571.89,61.48 L571.82,60.56Z" fill="#b5443f" stroke="#7e2a28" stroke-width="0.45"/>
<path d="M580.18,60.84 L580.11,61.74 L580.01,62.65 L579.90,63.55 L579.78,64.45 L579.65,65.36 L579.53,66.27 L579.43,67.17 L579.36,68.08 L579.34,68.98 L579.36,69.88 L579.40,70.79 L579.48,71.69 L579.57,72.60 L579.68,73.50 L579.79,74.41 L579.90,75.31 L579.99,76.22 L580.08,77.12 L580.15,78.03 L580.21,78.94 L580.19,83.46 L580.07,84.37 L579.85,85.27 L579.52,86.18 L579.06,87.08 L578.50,87.98 L577.90,88.89 L577.36,89.80 L576.98,90.70 L576.84,91.61 L576.96,92.51 L577.31,93.42 L577.80,94.32 L578.36,95.22 L578.90,96.13 L579.37,97.03 L579.73,97.94 L579.98,98.84 L580.14,99.75 L580.54,99.75 L580.70,98.84 L580.95,97.94 L581.31,97.03 L581.78,96.13 L582.32,95.22 L582.88,94.32 L583.37,93.42 L583.72,92.51 L583.84,91.61 L583.70,90.70 L583.32,89.80 L582.78,88.89 L582.18,87.98 L581.62,87.08 L581.16,86.18 L580.83,85.27 L580.61,84.37 L580.49,83.46 L580.47,78.94 L580.53,78.03 L580.60,77.12 L580.69,76.22 L580.78,75.31 L580.89,74.41 L581.00,73.50 L581.11,72.60 L581.20,71.69 L581.28,70.79 L581.32,69.88 L581.34,68.98 L581.32,68.08 L581.25,67.17 L581.15,66.27 L581.03,65.36 L580.90,64.45 L580.78,63.55 L580.67,62.65 L580.57,61.74 L580.50,60.84Z" fill="#e8b9a8" stroke="#b98c7e" stroke-width="0.45"/>
<path d="M588.85,61.73 L588.80,62.64 L588.74,63.55 L588.67,64.47 L588.60,65.38 L588.53,66.29 L588.48,67.21 L588.44,68.12 L588.43,69.04 L588.44,69.95 L588.47,70.86 L588.51,71.78 L588.56,72.69 L588.62,73.60 L588.68,74.52 L588.74,75.43 L588.80,76.35 L588.84,77.26 L588.79,85.48 L588.63,86.40 L588.38,87.31 L588.05,88.22 L587.68,89.14 L587.34,90.05 L587.13,90.97 L587.09,91.88 L587.24,92.79 L587.54,93.71 L587.91,94.62 L588.26,95.53 L588.54,96.45 L588.74,97.36 L589.22,97.36 L589.42,96.45 L589.70,95.53 L590.05,94.62 L590.42,93.71 L590.72,92.79 L590.87,91.88 L590.83,90.97 L590.62,90.05 L590.28,89.14 L589.91,88.22 L589.58,87.31 L589.33,86.40 L589.17,85.48 L589.12,77.26 L589.16,76.35 L589.22,75.43 L589.28,74.52 L589.34,73.60 L589.40,72.69 L589.45,71.78 L589.49,70.86 L589.52,69.95 L589.53,69.04 L589.52,68.12 L589.48,67.21 L589.43,66.29 L589.36,65.38 L589.29,64.47 L589.22,63.55 L589.16,62.64 L589.11,61.73Z" fill="#dcdcdc" stroke="#8a8a8a" stroke-width="0.45"/>
<path d="M597.48,61.39 L597.41,62.36 L597.33,63.33 L597.24,64.31 L597.14,65.28 L597.05,66.25 L596.98,67.23 L596.93,68.20 L596.92,69.18 L596.94,70.15 L596.98,71.12 L597.04,72.10 L597.12,73.07 L597.20,74.04 L597.29,75.02 L597.36,75.99 L597.43,76.97 L597.48,77.94 L597.47,83.78 L597.38,84.76 L597.26,85.73 L597.09,86.70 L596.91,87.68 L596.74,88.65 L596.60,89.62 L596.53,90.60 L596.53,91.57 L596.62,92.55 L596.77,93.52 L596.94,94.49 L597.12,95.47 L597.28,96.44 L597.41,97.42 L597.50,98.39 L597.74,98.39 L597.83,97.42 L597.96,96.44 L598.12,95.47 L598.30,94.49 L598.47,93.52 L598.62,92.55 L598.71,91.57 L598.71,90.60 L598.64,89.62 L598.50,88.65 L598.33,87.68 L598.15,86.70 L597.98,85.73 L597.86,84.76 L597.77,83.78 L597.76,77.94 L597.81,76.97 L597.88,75.99 L597.95,75.02 L598.04,74.04 L598.12,73.07 L598.20,72.10 L598.26,71.12 L598.30,70.15 L598.32,69.18 L598.31,68.20 L598.26,67.23 L598.19,66.25 L598.10,65.28 L598.00,64.31 L597.91,63.33 L597.83,62.36 L597.76,61.39Z" fill="#b9d0d8" stroke="#8fa8b2" stroke-width="0.45"/>
<path d="M606.11,61.85 L606.06,62.76 L605.99,63.67 L605.91,64.58 L605.83,65.49 L605.76,66.40 L605.71,67.31 L605.67,68.22 L605.66,69.12 L605.67,70.03 L605.70,70.94 L605.75,71.85 L605.81,72.76 L605.88,73.67 L605.94,74.58 L606.01,75.48 L606.06,76.39 L606.11,77.30 L606.11,84.57 L606.04,85.48 L605.94,86.39 L605.83,87.30 L605.71,88.21 L605.61,89.12 L605.54,90.03 L605.51,90.93 L605.53,91.84 L605.60,92.75 L605.69,93.66 L605.81,94.57 L605.92,95.48 L606.02,96.39 L606.11,97.30 L606.41,97.30 L606.50,96.39 L606.60,95.48 L606.71,94.57 L606.83,93.66 L606.92,92.75 L606.99,91.84 L607.01,90.93 L606.98,90.03 L606.91,89.12 L606.81,88.21 L606.69,87.30 L606.58,86.39 L606.48,85.48 L606.41,84.57 L606.41,77.30 L606.46,76.39 L606.51,75.48 L606.58,74.58 L606.64,73.67 L606.71,72.76 L606.77,71.85 L606.82,70.94 L606.85,70.03 L606.86,69.12 L606.85,68.22 L606.81,67.31 L606.76,66.40 L606.69,65.49 L606.61,64.58 L606.53,63.67 L606.46,62.76 L606.41,61.85Z" fill="#5d7fa3" stroke="#3a5878" stroke-width="0.45"/>
<path d="M614.78,67.81 L614.76,68.71 L614.73,69.61 L614.71,70.51 L614.69,71.41 L614.67,72.30 L614.65,73.20 L614.63,74.10 L614.61,75.00 L614.59,75.89 L614.57,76.79 L614.56,77.69 L614.55,78.58 L614.55,79.48 L614.55,80.38 L614.55,81.28 L614.56,82.17 L614.57,83.07 L614.59,83.97 L614.60,84.87 L614.62,85.76 L614.64,86.66 L614.66,87.56 L614.69,88.46 L614.71,89.35 L614.73,90.25 L614.75,91.15 L614.77,92.05 L615.03,92.05 L615.05,91.15 L615.07,90.25 L615.09,89.35 L615.11,88.46 L615.14,87.56 L615.16,86.66 L615.18,85.76 L615.20,84.87 L615.21,83.97 L615.23,83.07 L615.24,82.17 L615.25,81.28 L615.25,80.38 L615.25,79.48 L615.25,78.58 L615.24,77.69 L615.23,76.79 L615.21,75.89 L615.19,75.00 L615.17,74.10 L615.15,73.20 L615.13,72.30 L615.11,71.41 L615.09,70.51 L615.07,69.61 L615.04,68.71 L615.02,67.81Z" fill="#7d8a94" stroke="#4a4f55" stroke-width="0.45"/>
<path d="M578.54,70.00 h3.6 M578.54,90.20 h3.6" stroke="#555" stroke-width="0.5" fill="none"/>
<path d="M587.18,70.00 h3.6 M587.18,90.20 h3.6" stroke="#555" stroke-width="0.5" fill="none"/>
<path d="M595.82,70.00 h3.6 M595.82,90.20 h3.6" stroke="#555" stroke-width="0.5" fill="none"/>
<path d="M604.46,70.00 h3.6 M604.46,90.20 h3.6" stroke="#555" stroke-width="0.5" fill="none"/>
<path d="M613.10,70.00 h3.6 M613.10,90.20 h3.6" stroke="#555" stroke-width="0.5" fill="none"/>
<path d="M621.74,70.00 h3.6 M621.74,90.20 h3.6" stroke="#555" stroke-width="0.5" fill="none"/>
<path d="M630.38,70.00 h3.6 M630.38,90.20 h3.6" stroke="#555" stroke-width="0.5" fill="none"/>
<path d="M639.02,70.00 h3.6 M639.02,90.20 h3.6" stroke="#8a8a8a" stroke-width="0.5" fill="none"/>
<path d="M647.66,70.00 h3.6 M647.66,90.20 h3.6" stroke="#8a8a8a" stroke-width="0.5" fill="none"/>
<path d="M656.30,70.00 h3.6 M656.30,90.20 h3.6" stroke="#8a8a8a" stroke-width="0.5" fill="none"/>
<path d="M664.94,70.00 h3.6 M664.94,90.20 h3.6" stroke="#8a8a8a" stroke-width="0.5" fill="none"/>
<path d="M673.58,68.50 h3.6 M673.58,75.80 h3.6" stroke="#8a8a8a" stroke-width="0.5" fill="none"/>
<path d="M571.70,81.10 L580.34,82.80 L588.98,81.10 L597.62,80.20 L606.26,79.30 L614.90,79.30 L623.54,79.30 L632.18,78.10 L640.82,80.20 L649.46,78.80 L658.10,80.50 L666.74,79.30 L675.38,74.60" stroke="#333" stroke-width="0.7" fill="none"/>
<circle cx="571.70" cy="81.10" r="1.25" fill="#fff" stroke="#444" stroke-width="0.45"/>
<circle cx="580.34" cy="82.80" r="1.25" fill="#fff" stroke="#444" stroke-width="0.45"/>
<circle cx="588.98" cy="81.10" r="1.25" fill="#fff" stroke="#444" stroke-width="0.45"/>
<circle cx="597.62" cy="80.20" r="1.25" fill="#fff" stroke="#444" stroke-width="0.45"/>
<circle cx="606.26" cy="79.30" r="1.25" fill="#fff" stroke="#444" stroke-width="0.45"/>
<circle cx="614.90" cy="79.30" r="1.25" fill="#fff" stroke="#444" stroke-width="0.45"/>
<circle cx="623.54" cy="79.30" r="1.25" fill="#fff" stroke="#444" stroke-width="0.45"/>
<circle cx="632.18" cy="78.10" r="1.25" fill="#fff" stroke="#444" stroke-width="0.45"/>
<circle cx="640.82" cy="80.20" r="1.25" fill="#fff" stroke="#444" stroke-width="0.45"/>
<circle cx="649.46" cy="78.80" r="1.25" fill="#fff" stroke="#444" stroke-width="0.45"/>
<circle cx="658.10" cy="80.50" r="1.25" fill="#fff" stroke="#444" stroke-width="0.45"/>
<circle cx="666.74" cy="79.30" r="1.25" fill="#fff" stroke="#444" stroke-width="0.45"/>
<circle cx="675.38" cy="74.60" r="1.25" fill="#fff" stroke="#444" stroke-width="0.45"/>
<rect x="567.60" y="20.20" width="112.20" height="100.10" fill="none" stroke="#111" stroke-width="1.15"/>
<path d="M567.60,26.80 h-3.6" stroke="#111" stroke-width="0.9"/>
<text x="561.30" y="30.00" font-size="9" text-anchor="end">600</text>
<path d="M567.60,72.20 h-3.6" stroke="#111" stroke-width="0.9"/>
<text x="561.30" y="75.40" font-size="9" text-anchor="end">300</text>
<path d="M567.60,116.60 h-3.6" stroke="#111" stroke-width="0.9"/>
<text x="561.30" y="119.80" font-size="9" text-anchor="end">0</text>
<path d="M588.70,120.30 v3.4" stroke="#111" stroke-width="0.9"/>
<text x="588.70" y="133.60" font-size="9" text-anchor="middle">1</text>
<path d="M623.20,120.30 v3.4" stroke="#111" stroke-width="0.9"/>
<text x="623.20" y="133.60" font-size="9" text-anchor="middle">3</text>
<path d="M657.40,120.30 v3.4" stroke="#111" stroke-width="0.9"/>
<text x="657.40" y="133.60" font-size="9" text-anchor="middle">5</text>
<text x="575.50" y="116.80" font-size="7.4" style="fill:#222">Slope= 0.21 R<tspan dy="-2.6" font-size="4.8">2</tspan><tspan dy="2.6">=0.51&#160; P&lt;0.01</tspan></text>
<text transform="translate(542.00,69.60) rotate(-90)" font-size="8.5" text-anchor="middle">Birds</text>
<text x="564.60" y="10.60" font-size="11.7" class="serif">(ii)</text>
<path d="M398.20,164.00 V242.60" stroke="#4f4444" stroke-width="0.75" fill="none"/>
<path d="M406.83,174.20 V243.00" stroke="#6e5f5c" stroke-width="0.75" fill="none"/>
<path d="M415.46,169.30 V243.90" stroke="#555555" stroke-width="0.75" fill="none"/>
<path d="M424.09,165.40 V243.90" stroke="#999999" stroke-width="0.75" fill="none"/>
<path d="M432.72,175.00 V243.00" stroke="#44597a" stroke-width="0.75" fill="none"/>
<path d="M441.35,178.90 V242.00" stroke="#4a4f55" stroke-width="0.75" fill="none"/>
<path d="M449.98,172.80 V243.00" stroke="#b5c5c8" stroke-width="0.80" fill="none"/>
<path d="M458.61,160.90 V243.90" stroke="#666666" stroke-width="0.80" fill="none"/>
<path d="M467.24,175.40 V243.90" stroke="#888888" stroke-width="0.80" fill="none"/>
<path d="M475.87,184.20 V243.90" stroke="#cccccc" stroke-width="0.80" fill="none"/>
<path d="M484.50,184.20 V243.90" stroke="#aaaaaa" stroke-width="0.80" fill="none"/>
<path d="M493.13,167.50 V243.90" stroke="#bbbbbb" stroke-width="0.80" fill="none"/>
<path d="M501.76,192.60 V241.60" stroke="#bbbbbb" stroke-width="0.80" fill="none"/>
<path d="M398.06,191.51 L398.03,192.49 L398.00,193.47 L397.97,194.46 L397.93,195.44 L397.90,196.42 L397.87,197.41 L397.83,198.39 L397.80,199.37 L397.77,200.35 L397.74,201.33 L397.72,202.32 L397.71,203.30 L397.70,204.28 L397.70,205.26 L397.71,206.25 L397.72,207.23 L397.74,208.21 L397.76,209.19 L397.77,210.18 L397.77,211.16 L397.75,212.14 L397.68,213.12 L397.57,214.11 L397.41,215.09 L397.19,216.07 L396.92,217.06 L396.62,218.04 L396.33,219.02 L396.09,220.00 L395.93,220.98 L395.87,221.97 L395.95,222.95 L396.15,223.93 L396.45,224.91 L396.80,225.90 L397.15,226.88 L397.46,227.86 L397.71,228.84 L397.90,229.83 L398.02,230.81 L398.38,230.81 L398.50,229.83 L398.69,228.84 L398.94,227.86 L399.25,226.88 L399.60,225.90 L399.95,224.91 L400.25,223.93 L400.45,222.95 L400.53,221.97 L400.47,220.98 L400.31,220.00 L400.07,219.02 L399.78,218.04 L399.48,217.06 L399.21,216.07 L398.99,215.09 L398.83,214.11 L398.72,213.12 L398.65,212.14 L398.63,211.16 L398.63,210.18 L398.64,209.19 L398.66,208.21 L398.68,207.23 L398.69,206.25 L398.70,205.26 L398.70,204.28 L398.69,203.30 L398.68,202.32 L398.66,201.33 L398.63,200.35 L398.60,199.37 L398.57,198.39 L398.53,197.41 L398.50,196.42 L398.47,195.44 L398.43,194.46 L398.40,193.47 L398.37,192.49 L398.34,191.51Z" fill="#b5443f" stroke="#7e2a28" stroke-width="0.45"/>
<path d="M406.71,195.70 L406.68,196.56 L406.65,197.42 L406.62,198.28 L406.58,199.14 L406.54,200.00 L406.50,200.86 L406.46,201.72 L406.42,202.58 L406.38,203.44 L406.35,204.30 L406.32,205.16 L406.30,206.02 L406.29,206.88 L406.28,207.74 L406.28,208.60 L406.30,209.46 L406.32,210.32 L406.35,211.18 L406.38,212.04 L406.40,212.90 L406.40,213.76 L406.34,214.62 L406.21,215.48 L405.97,216.34 L405.60,217.20 L405.11,218.06 L404.53,218.92 L403.92,219.78 L403.38,220.64 L403.02,221.50 L402.91,222.36 L403.02,223.22 L403.31,224.08 L403.73,224.94 L404.22,225.80 L404.75,226.66 L405.24,227.52 L405.68,228.38 L406.04,229.24 L406.31,230.10 L406.50,230.96 L406.63,231.82 L407.03,231.82 L407.16,230.96 L407.35,230.10 L407.62,229.24 L407.98,228.38 L408.42,227.52 L408.91,226.66 L409.44,225.80 L409.93,224.94 L410.35,224.08 L410.64,223.22 L410.75,222.36 L410.64,221.50 L410.28,220.64 L409.74,219.78 L409.13,218.92 L408.55,218.06 L408.06,217.20 L407.69,216.34 L407.45,215.48 L407.32,214.62 L407.26,213.76 L407.26,212.90 L407.28,212.04 L407.31,211.18 L407.34,210.32 L407.36,209.46 L407.38,208.60 L407.38,207.74 L407.37,206.88 L407.36,206.02 L407.34,205.16 L407.31,204.30 L407.28,203.44 L407.24,202.58 L407.20,201.72 L407.16,200.86 L407.12,200.00 L407.08,199.14 L407.04,198.28 L407.01,197.42 L406.98,196.56 L406.95,195.70Z" fill="#e8b9a8" stroke="#b98c7e" stroke-width="0.45"/>
<path d="M415.31,214.99 L415.20,215.93 L415.05,216.86 L414.84,217.79 L414.59,218.72 L414.32,219.66 L414.06,220.59 L413.87,221.52 L413.77,222.45 L413.78,223.38 L413.88,224.32 L414.07,225.25 L414.30,226.18 L414.54,227.12 L414.78,228.05 L414.98,228.98 L415.14,229.91 L415.26,230.84 L415.66,230.84 L415.78,229.91 L415.94,228.98 L416.14,228.05 L416.38,227.12 L416.62,226.18 L416.85,225.25 L417.04,224.32 L417.14,223.38 L417.15,222.45 L417.05,221.52 L416.86,220.59 L416.60,219.66 L416.33,218.72 L416.08,217.79 L415.87,216.86 L415.72,215.93 L415.61,214.99Z" fill="#dcdcdc" stroke="#8a8a8a" stroke-width="0.45"/>
<path d="M423.92,212.50 L423.84,213.48 L423.74,214.46 L423.63,215.44 L423.51,216.43 L423.37,217.41 L423.25,218.39 L423.13,219.37 L423.05,220.35 L423.00,221.33 L422.99,222.31 L423.03,223.29 L423.10,224.28 L423.20,225.26 L423.33,226.24 L423.46,227.22 L423.59,228.20 L423.71,229.18 L423.81,230.16 L423.89,231.14 L423.95,232.12 L424.23,232.12 L424.29,231.14 L424.37,230.16 L424.47,229.18 L424.59,228.20 L424.72,227.22 L424.85,226.24 L424.98,225.26 L425.08,224.28 L425.15,223.29 L425.19,222.31 L425.18,221.33 L425.13,220.35 L425.05,219.37 L424.93,218.39 L424.81,217.41 L424.67,216.43 L424.55,215.44 L424.44,214.46 L424.34,213.48 L424.26,212.50Z" fill="#b9d0d8" stroke="#8fa8b2" stroke-width="0.45"/>
<path d="M432.57,209.85 L432.53,210.70 L432.49,211.55 L432.44,212.40 L432.39,213.25 L432.33,214.10 L432.27,214.95 L432.22,215.80 L432.17,216.65 L432.12,217.50 L432.08,218.35 L432.05,219.20 L432.03,220.05 L432.02,220.90 L432.03,221.75 L432.06,222.60 L432.10,223.45 L432.16,224.30 L432.23,225.15 L432.30,226.00 L432.37,226.85 L432.44,227.70 L432.50,228.55 L432.55,229.40 L432.60,230.25 L432.84,230.25 L432.89,229.40 L432.94,228.55 L433.00,227.70 L433.07,226.85 L433.14,226.00 L433.21,225.15 L433.28,224.30 L433.34,223.45 L433.38,222.60 L433.41,221.75 L433.42,220.90 L433.41,220.05 L433.39,219.20 L433.36,218.35 L433.32,217.50 L433.27,216.65 L433.22,215.80 L433.17,214.95 L433.11,214.10 L433.05,213.25 L433.00,212.40 L432.95,211.55 L432.91,210.70 L432.87,209.85Z" fill="#5d7fa3" stroke="#3a5878" stroke-width="0.45"/>
<path d="M441.23,209.66 L441.21,210.45 L441.19,211.24 L441.16,212.03 L441.14,212.82 L441.12,213.61 L441.09,214.39 L441.07,215.18 L441.05,215.97 L441.03,216.76 L441.02,217.55 L441.01,218.34 L441.00,219.13 L441.00,219.92 L441.00,220.70 L441.01,221.49 L441.03,222.28 L441.05,223.07 L441.07,223.86 L441.10,224.65 L441.13,225.44 L441.16,226.22 L441.19,227.01 L441.21,227.80 L441.49,227.80 L441.51,227.01 L441.54,226.22 L441.57,225.44 L441.60,224.65 L441.63,223.86 L441.65,223.07 L441.67,222.28 L441.69,221.49 L441.70,220.70 L441.70,219.92 L441.70,219.13 L441.69,218.34 L441.68,217.55 L441.67,216.76 L441.65,215.97 L441.63,215.18 L441.61,214.39 L441.58,213.61 L441.56,212.82 L441.54,212.03 L441.51,211.24 L441.49,210.45 L441.47,209.66Z" fill="#7d8a94" stroke="#4a4f55" stroke-width="0.45"/>
<path d="M449.84,207.02 L449.82,207.90 L449.79,208.78 L449.77,209.66 L449.74,210.53 L449.71,211.41 L449.68,212.29 L449.65,213.17 L449.63,214.04 L449.60,214.92 L449.58,215.80 L449.56,216.68 L449.55,217.55 L449.54,218.43 L449.53,219.31 L449.53,220.19 L449.54,221.06 L449.56,221.94 L449.58,222.82 L449.62,223.69 L449.66,224.57 L449.70,225.45 L449.74,226.33 L449.78,227.21 L449.82,228.08 L449.85,228.96 L450.11,228.96 L450.14,228.08 L450.18,227.21 L450.22,226.33 L450.26,225.45 L450.30,224.57 L450.34,223.69 L450.38,222.82 L450.40,221.94 L450.42,221.06 L450.43,220.19 L450.43,219.31 L450.42,218.43 L450.41,217.55 L450.40,216.68 L450.38,215.80 L450.36,214.92 L450.33,214.04 L450.31,213.17 L450.28,212.29 L450.25,211.41 L450.22,210.53 L450.19,209.66 L450.17,208.78 L450.14,207.90 L450.12,207.02Z" fill="#c3cfd2" stroke="#a9b5b8" stroke-width="0.45"/>
<path d="M405.03,212.30 h3.6 M405.03,227.20 h3.6" stroke="#555" stroke-width="0.5" fill="none"/>
<path d="M413.66,212.30 h3.6 M413.66,227.20 h3.6" stroke="#555" stroke-width="0.5" fill="none"/>
<path d="M422.29,212.30 h3.6 M422.29,227.20 h3.6" stroke="#555" stroke-width="0.5" fill="none"/>
<path d="M430.92,212.30 h3.6 M430.92,227.20 h3.6" stroke="#555" stroke-width="0.5" fill="none"/>
<path d="M439.55,212.30 h3.6 M439.55,227.20 h3.6" stroke="#555" stroke-width="0.5" fill="none"/>
<path d="M448.18,212.30 h3.6 M448.18,227.20 h3.6" stroke="#555" stroke-width="0.5" fill="none"/>
<path d="M456.81,207.90 h3.6 M456.81,227.20 h3.6" stroke="#555" stroke-width="0.5" fill="none"/>
<path d="M465.44,211.00 h3.6 M465.44,227.20 h3.6" stroke="#8a8a8a" stroke-width="0.5" fill="none"/>
<path d="M474.07,211.50 h3.6 M474.07,227.20 h3.6" stroke="#8a8a8a" stroke-width="0.5" fill="none"/>
<path d="M482.70,213.00 h3.6 M482.70,227.20 h3.6" stroke="#8a8a8a" stroke-width="0.5" fill="none"/>
<path d="M491.33,206.50 h3.6 M491.33,227.20 h3.6" stroke="#8a8a8a" stroke-width="0.5" fill="none"/>
<path d="M499.96,207.40 h3.6 M499.96,218.40 h3.6" stroke="#8a8a8a" stroke-width="0.5" fill="none"/>
<path d="M398.20,217.20 L406.83,218.80 L415.46,218.00 L424.09,218.00 L432.72,217.90 L441.35,218.40 L449.98,218.40 L458.61,217.20 L467.24,218.90 L475.87,218.90 L484.50,220.50 L493.13,217.50 L501.76,213.50" stroke="#333" stroke-width="0.7" fill="none"/>
<circle cx="398.20" cy="217.20" r="1.25" fill="#fff" stroke="#444" stroke-width="0.45"/>
<circle cx="406.83" cy="218.80" r="1.25" fill="#fff" stroke="#444" stroke-width="0.45"/>
<circle cx="415.46" cy="218.00" r="1.25" fill="#fff" stroke="#444" stroke-width="0.45"/>
<circle cx="424.09" cy="218.00" r="1.25" fill="#fff" stroke="#444" stroke-width="0.45"/>
<circle cx="432.72" cy="217.90" r="1.25" fill="#fff" stroke="#444" stroke-width="0.45"/>
<circle cx="441.35" cy="218.40" r="1.25" fill="#fff" stroke="#444" stroke-width="0.45"/>
<circle cx="449.98" cy="218.40" r="1.25" fill="#fff" stroke="#444" stroke-width="0.45"/>
<circle cx="458.61" cy="217.20" r="1.25" fill="#fff" stroke="#444" stroke-width="0.45"/>
<circle cx="467.24" cy="218.90" r="1.25" fill="#fff" stroke="#444" stroke-width="0.45"/>
<circle cx="475.87" cy="218.90" r="1.25" fill="#fff" stroke="#444" stroke-width="0.45"/>
<circle cx="484.50" cy="220.50" r="1.25" fill="#fff" stroke="#444" stroke-width="0.45"/>
<circle cx="493.13" cy="217.50" r="1.25" fill="#fff" stroke="#444" stroke-width="0.45"/>
<circle cx="501.76" cy="213.50" r="1.25" fill="#fff" stroke="#444" stroke-width="0.45"/>
<rect x="393.90" y="154.30" width="112.30" height="100.20" fill="none" stroke="#111" stroke-width="1.15"/>
<path d="M393.90,154.30 h-3.6" stroke="#111" stroke-width="0.9"/>
<text x="387.60" y="157.50" font-size="9" text-anchor="end">200</text>
<path d="M393.90,202.00 h-3.6" stroke="#111" stroke-width="0.9"/>
<text x="387.60" y="205.20" font-size="9" text-anchor="end">100</text>
<path d="M393.90,249.40 h-3.6" stroke="#111" stroke-width="0.9"/>
<text x="387.60" y="252.60" font-size="9" text-anchor="end">0</text>
<path d="M415.30,254.50 v3.4" stroke="#111" stroke-width="0.9"/>
<text x="415.30" y="267.80" font-size="9" text-anchor="middle">1</text>
<path d="M449.50,254.50 v3.4" stroke="#111" stroke-width="0.9"/>
<text x="449.50" y="267.80" font-size="9" text-anchor="middle">3</text>
<path d="M483.70,254.50 v3.4" stroke="#111" stroke-width="0.9"/>
<text x="483.70" y="267.80" font-size="9" text-anchor="middle">5</text>
<text x="402.00" y="251.00" font-size="7.4" style="fill:#222">Slope= 0.24 R<tspan dy="-2.6" font-size="4.8">2</tspan><tspan dy="2.6">=0.04&#160; P=0.50</tspan></text>
<text transform="translate(369.90,202.20) rotate(-90)" font-size="8.5" text-anchor="middle">Mammals</text>
<text x="392.50" y="145.60" font-size="11.7" class="serif">(iii)</text>
<path d="M569.90,168.90 V242.60" stroke="#4f4444" stroke-width="0.75" fill="none"/>
<path d="M578.53,169.30 V243.90" stroke="#6e5f5c" stroke-width="0.75" fill="none"/>
<path d="M587.16,171.00 V240.30" stroke="#888888" stroke-width="0.75" fill="none"/>
<path d="M595.79,170.70 V240.30" stroke="#55626a" stroke-width="0.75" fill="none"/>
<path d="M604.42,171.00 V240.30" stroke="#4a5360" stroke-width="0.75" fill="none"/>
<path d="M613.05,169.80 V238.60" stroke="#999999" stroke-width="0.75" fill="none"/>
<path d="M621.68,171.00 V241.20" stroke="#555555" stroke-width="0.80" fill="none"/>
<path d="M630.31,169.60 V243.00" stroke="#888888" stroke-width="0.80" fill="none"/>
<path d="M638.94,170.20 V243.90" stroke="#aebfc3" stroke-width="0.80" fill="none"/>
<path d="M647.57,176.30 V243.00" stroke="#999999" stroke-width="0.80" fill="none"/>
<path d="M656.20,175.10 V244.70" stroke="#aaaaaa" stroke-width="0.80" fill="none"/>
<path d="M664.83,174.60 V239.50" stroke="#bbbbbb" stroke-width="0.80" fill="none"/>
<path d="M673.46,175.10 V236.00" stroke="#888888" stroke-width="0.80" fill="none"/>
<path d="M569.77,181.80 L569.74,182.72 L569.70,183.64 L569.66,184.56 L569.61,185.48 L569.55,186.40 L569.48,187.32 L569.40,188.25 L569.31,189.17 L569.21,190.09 L569.11,191.01 L568.99,191.93 L568.87,192.85 L568.73,193.77 L568.60,194.69 L568.46,195.62 L568.32,196.54 L568.18,197.46 L568.04,198.38 L567.91,199.30 L567.79,200.22 L567.68,201.14 L567.59,202.06 L567.51,202.99 L567.46,203.91 L567.42,204.83 L567.40,205.75 L567.41,206.67 L567.43,207.59 L567.47,208.51 L567.53,209.44 L567.60,210.36 L567.69,211.28 L567.79,212.20 L567.90,213.12 L568.02,214.04 L568.15,214.96 L568.28,215.88 L568.41,216.81 L568.54,217.73 L568.67,218.65 L568.80,219.57 L568.92,220.49 L569.03,221.41 L569.14,222.33 L569.23,223.25 L569.32,224.18 L569.41,225.10 L569.48,226.02 L569.54,226.94 L569.60,227.86 L569.65,228.78 L569.69,229.70 L569.73,230.62 L569.76,231.55 L570.04,231.55 L570.07,230.62 L570.11,229.70 L570.15,228.78 L570.20,227.86 L570.26,226.94 L570.32,226.02 L570.39,225.10 L570.48,224.18 L570.57,223.25 L570.66,222.33 L570.77,221.41 L570.88,220.49 L571.00,219.57 L571.13,218.65 L571.26,217.73 L571.39,216.81 L571.52,215.88 L571.65,214.96 L571.78,214.04 L571.90,213.12 L572.01,212.20 L572.11,211.28 L572.20,210.36 L572.27,209.44 L572.33,208.51 L572.37,207.59 L572.39,206.67 L572.40,205.75 L572.38,204.83 L572.34,203.91 L572.29,202.99 L572.21,202.06 L572.12,201.14 L572.01,200.22 L571.89,199.30 L571.76,198.38 L571.62,197.46 L571.48,196.54 L571.34,195.62 L571.20,194.69 L571.07,193.77 L570.93,192.85 L570.81,191.93 L570.69,191.01 L570.59,190.09 L570.49,189.17 L570.40,188.25 L570.32,187.32 L570.25,186.40 L570.19,185.48 L570.14,184.56 L570.10,183.64 L570.06,182.72 L570.03,181.80Z" fill="#b5443f" stroke="#7e2a28" stroke-width="0.45"/>
<path d="M578.40,181.42 L578.37,182.36 L578.33,183.29 L578.28,184.22 L578.21,185.15 L578.14,186.09 L578.06,187.02 L577.96,187.95 L577.86,188.88 L577.73,189.81 L577.59,190.75 L577.44,191.68 L577.28,192.61 L577.10,193.55 L576.91,194.48 L576.72,195.41 L576.51,196.34 L576.31,197.28 L576.10,198.21 L575.90,199.14 L575.71,200.07 L575.53,201.00 L575.37,201.94 L575.23,202.87 L575.11,203.80 L575.02,204.74 L574.96,205.67 L574.93,206.60 L574.93,207.53 L574.96,208.47 L575.01,209.40 L575.08,210.33 L575.18,211.26 L575.29,212.19 L575.42,213.13 L575.57,214.06 L575.73,214.99 L575.89,215.93 L576.07,216.86 L576.25,217.79 L576.43,218.72 L576.60,219.66 L576.78,220.59 L576.95,221.52 L577.11,222.45 L577.27,223.38 L577.41,224.32 L577.55,225.25 L577.67,226.18 L577.79,227.12 L577.89,228.05 L577.98,228.98 L578.07,229.91 L578.14,230.84 L578.20,231.78 L578.26,232.71 L578.31,233.64 L578.35,234.58 L578.38,235.51 L578.41,236.44 L578.65,236.44 L578.68,235.51 L578.71,234.58 L578.75,233.64 L578.80,232.71 L578.86,231.78 L578.92,230.84 L578.99,229.91 L579.08,228.98 L579.17,228.05 L579.27,227.12 L579.39,226.18 L579.51,225.25 L579.65,224.32 L579.79,223.38 L579.95,222.45 L580.11,221.52 L580.28,220.59 L580.46,219.66 L580.63,218.72 L580.81,217.79 L580.99,216.86 L581.17,215.93 L581.33,214.99 L581.49,214.06 L581.64,213.13 L581.77,212.19 L581.88,211.26 L581.98,210.33 L582.05,209.40 L582.10,208.47 L582.13,207.53 L582.13,206.60 L582.10,205.67 L582.04,204.74 L581.95,203.80 L581.83,202.87 L581.69,201.94 L581.53,201.00 L581.35,200.07 L581.16,199.14 L580.96,198.21 L580.75,197.28 L580.55,196.34 L580.34,195.41 L580.15,194.48 L579.96,193.55 L579.78,192.61 L579.62,191.68 L579.47,190.75 L579.33,189.81 L579.20,188.88 L579.10,187.95 L579.00,187.02 L578.92,186.09 L578.85,185.15 L578.78,184.22 L578.73,183.29 L578.69,182.36 L578.66,181.42Z" fill="#e8b9a8" stroke="#b98c7e" stroke-width="0.45"/>
<path d="M587.03,184.86 L586.99,185.73 L586.95,186.59 L586.91,187.46 L586.85,188.32 L586.79,189.19 L586.72,190.06 L586.64,190.92 L586.56,191.79 L586.46,192.66 L586.37,193.52 L586.26,194.39 L586.16,195.25 L586.06,196.12 L585.95,196.99 L585.85,197.85 L585.76,198.72 L585.68,199.59 L585.60,200.45 L585.54,201.32 L585.50,202.19 L585.47,203.05 L585.46,203.92 L585.47,204.78 L585.49,205.65 L585.52,206.52 L585.57,207.38 L585.63,208.25 L585.70,209.12 L585.78,209.98 L585.87,210.85 L585.96,211.71 L586.06,212.58 L586.16,213.45 L586.25,214.31 L586.35,215.18 L586.44,216.05 L586.53,216.91 L586.61,217.78 L586.68,218.64 L586.75,219.51 L586.81,220.38 L586.87,221.24 L586.92,222.11 L586.96,222.98 L586.99,223.84 L587.03,224.71 L587.29,224.71 L587.33,223.84 L587.36,222.98 L587.40,222.11 L587.45,221.24 L587.51,220.38 L587.57,219.51 L587.64,218.64 L587.71,217.78 L587.79,216.91 L587.88,216.05 L587.97,215.18 L588.07,214.31 L588.16,213.45 L588.26,212.58 L588.36,211.71 L588.45,210.85 L588.54,209.98 L588.62,209.12 L588.69,208.25 L588.75,207.38 L588.80,206.52 L588.83,205.65 L588.85,204.78 L588.86,203.92 L588.85,203.05 L588.82,202.19 L588.78,201.32 L588.72,200.45 L588.64,199.59 L588.56,198.72 L588.47,197.85 L588.37,196.99 L588.26,196.12 L588.16,195.25 L588.06,194.39 L587.95,193.52 L587.86,192.66 L587.76,191.79 L587.68,190.92 L587.60,190.06 L587.53,189.19 L587.47,188.32 L587.41,187.46 L587.37,186.59 L587.33,185.73 L587.29,184.86Z" fill="#dcdcdc" stroke="#8a8a8a" stroke-width="0.45"/>
<path d="M595.66,186.36 L595.62,187.23 L595.58,188.10 L595.53,188.97 L595.48,189.84 L595.42,190.71 L595.35,191.58 L595.27,192.45 L595.19,193.32 L595.11,194.19 L595.02,195.06 L594.93,195.93 L594.84,196.80 L594.76,197.67 L594.69,198.54 L594.62,199.41 L594.57,200.28 L594.53,201.15 L594.50,202.02 L594.49,202.89 L594.50,203.76 L594.52,204.63 L594.56,205.50 L594.61,206.37 L594.67,207.24 L594.74,208.11 L594.82,208.98 L594.91,209.85 L595.00,210.72 L595.08,211.59 L595.17,212.46 L595.25,213.33 L595.33,214.20 L595.40,215.07 L595.46,215.94 L595.52,216.81 L595.57,217.68 L595.61,218.55 L595.65,219.42 L595.93,219.42 L595.97,218.55 L596.01,217.68 L596.06,216.81 L596.12,215.94 L596.18,215.07 L596.25,214.20 L596.33,213.33 L596.41,212.46 L596.50,211.59 L596.58,210.72 L596.67,209.85 L596.76,208.98 L596.84,208.11 L596.91,207.24 L596.97,206.37 L597.02,205.50 L597.06,204.63 L597.08,203.76 L597.09,202.89 L597.08,202.02 L597.05,201.15 L597.01,200.28 L596.96,199.41 L596.89,198.54 L596.82,197.67 L596.74,196.80 L596.65,195.93 L596.56,195.06 L596.47,194.19 L596.39,193.32 L596.31,192.45 L596.23,191.58 L596.16,190.71 L596.10,189.84 L596.05,188.97 L596.00,188.10 L595.96,187.23 L595.92,186.36Z" fill="#b9d0d8" stroke="#8fa8b2" stroke-width="0.45"/>
<path d="M604.29,189.19 L604.26,190.06 L604.23,190.92 L604.19,191.79 L604.15,192.66 L604.11,193.52 L604.07,194.39 L604.02,195.25 L603.98,196.12 L603.94,196.99 L603.90,197.85 L603.86,198.72 L603.83,199.59 L603.80,200.45 L603.79,201.32 L603.77,202.19 L603.77,203.05 L603.77,203.92 L603.79,204.78 L603.81,205.65 L603.83,206.52 L603.87,207.38 L603.90,208.25 L603.94,209.12 L603.99,209.98 L604.03,210.85 L604.07,211.71 L604.12,212.58 L604.16,213.45 L604.19,214.31 L604.23,215.18 L604.26,216.05 L604.29,216.91 L604.55,216.91 L604.58,216.05 L604.61,215.18 L604.65,214.31 L604.68,213.45 L604.72,212.58 L604.77,211.71 L604.81,210.85 L604.85,209.98 L604.90,209.12 L604.94,208.25 L604.97,207.38 L605.01,206.52 L605.03,205.65 L605.05,204.78 L605.07,203.92 L605.07,203.05 L605.07,202.19 L605.05,201.32 L605.04,200.45 L605.01,199.59 L604.98,198.72 L604.94,197.85 L604.90,196.99 L604.86,196.12 L604.82,195.25 L604.77,194.39 L604.73,193.52 L604.69,192.66 L604.65,191.79 L604.61,190.92 L604.58,190.06 L604.55,189.19Z" fill="#5d7fa3" stroke="#3a5878" stroke-width="0.45"/>
<path d="M612.91,190.44 L612.89,191.30 L612.86,192.16 L612.83,193.02 L612.80,193.88 L612.77,194.74 L612.73,195.60 L612.70,196.46 L612.67,197.32 L612.64,198.18 L612.61,199.04 L612.59,199.90 L612.57,200.76 L612.56,201.62 L612.55,202.48 L612.55,203.34 L612.56,204.20 L612.57,205.06 L612.58,205.92 L612.61,206.78 L612.63,207.64 L612.66,208.50 L612.69,209.36 L612.73,210.22 L612.76,211.08 L612.79,211.94 L612.82,212.80 L612.85,213.66 L612.88,214.52 L612.91,215.38 L613.19,215.38 L613.22,214.52 L613.25,213.66 L613.28,212.80 L613.31,211.94 L613.34,211.08 L613.37,210.22 L613.41,209.36 L613.44,208.50 L613.47,207.64 L613.49,206.78 L613.52,205.92 L613.53,205.06 L613.54,204.20 L613.55,203.34 L613.55,202.48 L613.54,201.62 L613.53,200.76 L613.51,199.90 L613.49,199.04 L613.46,198.18 L613.43,197.32 L613.40,196.46 L613.37,195.60 L613.33,194.74 L613.30,193.88 L613.27,193.02 L613.24,192.16 L613.21,191.30 L613.19,190.44Z" fill="#7d8a94" stroke="#4a4f55" stroke-width="0.45"/>
<path d="M621.55,191.18 L621.53,192.06 L621.51,192.94 L621.48,193.81 L621.45,194.69 L621.43,195.57 L621.40,196.45 L621.37,197.32 L621.35,198.20 L621.33,199.08 L621.31,199.96 L621.30,200.84 L621.29,201.71 L621.28,202.59 L621.28,203.47 L621.29,204.34 L621.30,205.22 L621.31,206.10 L621.33,206.98 L621.35,207.85 L621.38,208.73 L621.40,209.61 L621.43,210.49 L621.46,211.37 L621.48,212.24 L621.51,213.12 L621.53,214.00 L621.56,214.88 L621.80,214.88 L621.83,214.00 L621.85,213.12 L621.88,212.24 L621.90,211.37 L621.93,210.49 L621.96,209.61 L621.98,208.73 L622.01,207.85 L622.03,206.98 L622.05,206.10 L622.06,205.22 L622.07,204.34 L622.08,203.47 L622.08,202.59 L622.07,201.71 L622.06,200.84 L622.05,199.96 L622.03,199.08 L622.01,198.20 L621.99,197.32 L621.96,196.45 L621.93,195.57 L621.91,194.69 L621.88,193.81 L621.85,192.94 L621.83,192.06 L621.81,191.18Z" fill="#c3cfd2" stroke="#a9b5b8" stroke-width="0.45"/>
<path d="M638.79,184.94 L638.76,185.86 L638.73,186.78 L638.69,187.70 L638.65,188.62 L638.61,189.55 L638.57,190.47 L638.54,191.39 L638.50,192.31 L638.48,193.23 L638.46,194.15 L638.44,195.07 L638.44,196.00 L638.45,196.92 L638.47,197.84 L638.50,198.76 L638.54,199.68 L638.58,200.60 L638.63,201.52 L638.68,202.44 L638.73,203.37 L638.77,204.29 L638.81,205.21 L639.07,205.21 L639.11,204.29 L639.15,203.37 L639.20,202.44 L639.25,201.52 L639.30,200.60 L639.34,199.68 L639.38,198.76 L639.41,197.84 L639.43,196.92 L639.44,196.00 L639.44,195.07 L639.42,194.15 L639.40,193.23 L639.38,192.31 L639.34,191.39 L639.31,190.47 L639.27,189.55 L639.23,188.62 L639.19,187.70 L639.15,186.78 L639.12,185.86 L639.09,184.94Z" fill="#c4c8c8" stroke="#a2a6a6" stroke-width="0.45"/>
<path d="M576.73,197.70 h3.6 M576.73,217.20 h3.6" stroke="#555" stroke-width="0.5" fill="none"/>
<path d="M585.36,196.00 h3.6 M585.36,217.20 h3.6" stroke="#555" stroke-width="0.5" fill="none"/>
<path d="M593.99,196.00 h3.6 M593.99,217.20 h3.6" stroke="#555" stroke-width="0.5" fill="none"/>
<path d="M602.62,196.00 h3.6 M602.62,217.20 h3.6" stroke="#555" stroke-width="0.5" fill="none"/>
<path d="M611.25,195.50 h3.6 M611.25,217.20 h3.6" stroke="#555" stroke-width="0.5" fill="none"/>
<path d="M619.88,195.50 h3.6 M619.88,217.20 h3.6" stroke="#555" stroke-width="0.5" fill="none"/>
<path d="M628.51,194.50 h3.6 M628.51,217.20 h3.6" stroke="#555" stroke-width="0.5" fill="none"/>
<path d="M637.14,192.10 h3.6 M637.14,215.30 h3.6" stroke="#8a8a8a" stroke-width="0.5" fill="none"/>
<path d="M645.77,192.30 h3.6 M645.77,218.00 h3.6" stroke="#8a8a8a" stroke-width="0.5" fill="none"/>
<path d="M654.40,192.30 h3.6 M654.40,216.50 h3.6" stroke="#8a8a8a" stroke-width="0.5" fill="none"/>
<path d="M663.03,192.60 h3.6 M663.03,217.00 h3.6" stroke="#8a8a8a" stroke-width="0.5" fill="none"/>
<path d="M671.66,204.00 h3.6 M671.66,217.00 h3.6" stroke="#8a8a8a" stroke-width="0.5" fill="none"/>
<path d="M569.90,207.40 L578.53,207.40 L587.16,207.50 L595.79,207.30 L604.42,207.30 L613.05,207.20 L621.68,207.20 L630.31,207.00 L638.94,205.30 L647.57,206.50 L656.20,205.80 L664.83,206.10 L673.46,207.90" stroke="#333" stroke-width="0.7" fill="none"/>
<circle cx="569.90" cy="207.40" r="1.25" fill="#fff" stroke="#444" stroke-width="0.45"/>
<circle cx="578.53" cy="207.40" r="1.25" fill="#fff" stroke="#444" stroke-width="0.45"/>
<circle cx="587.16" cy="207.50" r="1.25" fill="#fff" stroke="#444" stroke-width="0.45"/>
<circle cx="595.79" cy="207.30" r="1.25" fill="#fff" stroke="#444" stroke-width="0.45"/>
<circle cx="604.42" cy="207.30" r="1.25" fill="#fff" stroke="#444" stroke-width="0.45"/>
<circle cx="613.05" cy="207.20" r="1.25" fill="#fff" stroke="#444" stroke-width="0.45"/>
<circle cx="621.68" cy="207.20" r="1.25" fill="#fff" stroke="#444" stroke-width="0.45"/>
<circle cx="630.31" cy="207.00" r="1.25" fill="#fff" stroke="#444" stroke-width="0.45"/>
<circle cx="638.94" cy="205.30" r="1.25" fill="#fff" stroke="#444" stroke-width="0.45"/>
<circle cx="647.57" cy="206.50" r="1.25" fill="#fff" stroke="#444" stroke-width="0.45"/>
<circle cx="656.20" cy="205.80" r="1.25" fill="#fff" stroke="#444" stroke-width="0.45"/>
<circle cx="664.83" cy="206.10" r="1.25" fill="#fff" stroke="#444" stroke-width="0.45"/>
<circle cx="673.46" cy="207.90" r="1.25" fill="#fff" stroke="#444" stroke-width="0.45"/>
<rect x="565.90" y="154.30" width="112.00" height="100.20" fill="none" stroke="#111" stroke-width="1.15"/>
<path d="M565.90,180.90 h-3.6" stroke="#111" stroke-width="0.9"/>
<text x="559.60" y="184.10" font-size="9" text-anchor="end">0.9</text>
<path d="M565.90,210.20 h-3.6" stroke="#111" stroke-width="0.9"/>
<text x="559.60" y="213.40" font-size="9" text-anchor="end">0.8</text>
<path d="M565.90,239.50 h-3.6" stroke="#111" stroke-width="0.9"/>
<text x="559.60" y="242.70" font-size="9" text-anchor="end">0.7</text>
<path d="M587.00,254.50 v3.4" stroke="#111" stroke-width="0.9"/>
<text x="587.00" y="267.80" font-size="9" text-anchor="middle">1</text>
<path d="M621.50,254.50 v3.4" stroke="#111" stroke-width="0.9"/>
<text x="621.50" y="267.80" font-size="9" text-anchor="middle">3</text>
<path d="M655.70,254.50 v3.4" stroke="#111" stroke-width="0.9"/>
<text x="655.70" y="267.80" font-size="9" text-anchor="middle">5</text>
<text x="573.20" y="251.00" font-size="7.4" style="fill:#222">Slope= 718.92 R<tspan dy="-2.6" font-size="4.8">2</tspan><tspan dy="2.6">=0.3 P=0.05</tspan></text>
<text transform="translate(542.00,202.20) rotate(-90)" font-size="8.5" text-anchor="middle">Mean species richness</text>
<text x="564.50" y="145.60" font-size="11.7" class="serif">(iv)</text>
<text x="443.8" y="287" font-size="10.58">Slope of multi-year cropland loss (%)</text>
</g>
</svg>
</body></html>
